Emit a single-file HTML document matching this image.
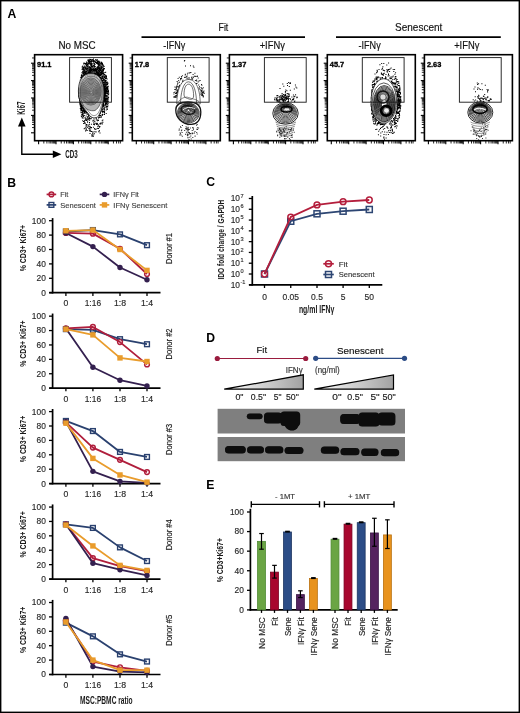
<!DOCTYPE html>
<html><head><meta charset="utf-8"><style>
html,body{margin:0;padding:0;background:#fff;}
svg{display:block;font-family:"Liberation Sans", sans-serif;will-change:transform;}
</style></head><body>
<svg width="520" height="713" viewBox="0 0 520 713">
<rect width="520" height="713" fill="#fff"/>
<g>
<rect x="-6" y="-6" width="532" height="725" fill="#fff"/>
<text x="7.60" y="17.50" font-size="12.2" text-anchor="start" fill="#000" font-weight="bold" >A</text>
<text x="7.30" y="186.80" font-size="12.2" text-anchor="start" fill="#000" font-weight="bold" >B</text>
<text x="206.30" y="186.30" font-size="12.2" text-anchor="start" fill="#000" font-weight="bold" >C</text>
<text x="206.20" y="342.40" font-size="12.2" text-anchor="start" fill="#000" font-weight="bold" >D</text>
<text x="206.20" y="488.60" font-size="12.2" text-anchor="start" fill="#000" font-weight="bold" >E</text>
<text x="77.00" y="49.20" font-size="10.2" text-anchor="middle" fill="#111" stroke="#111" stroke-width="0.15" textLength="37.20" lengthAdjust="spacingAndGlyphs" >No MSC</text>
<text x="223.40" y="31.00" font-size="10.3" text-anchor="middle" fill="#111" stroke="#111" stroke-width="0.15" textLength="9.80" lengthAdjust="spacingAndGlyphs" >Fit</text>
<line x1="141.50" y1="37.20" x2="305.00" y2="37.20" stroke="#000" stroke-width="1.7" />
<text x="418.70" y="31.00" font-size="10.2" text-anchor="middle" fill="#111" stroke="#111" stroke-width="0.15" textLength="47.30" lengthAdjust="spacingAndGlyphs" >Senescent</text>
<line x1="336.00" y1="37.20" x2="500.80" y2="37.20" stroke="#000" stroke-width="1.7" />
<text x="174.30" y="49.10" font-size="10.2" text-anchor="middle" fill="#111" stroke="#111" stroke-width="0.15" textLength="22.00" lengthAdjust="spacingAndGlyphs" >-IFN&#947;</text>
<text x="272.30" y="49.10" font-size="10.2" text-anchor="middle" fill="#111" stroke="#111" stroke-width="0.15" textLength="25.30" lengthAdjust="spacingAndGlyphs" >+IFN&#947;</text>
<text x="369.60" y="49.10" font-size="10.2" text-anchor="middle" fill="#111" stroke="#111" stroke-width="0.15" textLength="22.20" lengthAdjust="spacingAndGlyphs" >-IFN&#947;</text>
<text x="466.80" y="49.10" font-size="10.2" text-anchor="middle" fill="#111" stroke="#111" stroke-width="0.15" textLength="25.30" lengthAdjust="spacingAndGlyphs" >+IFN&#947;</text>
<defs><radialGradient id="core1" cx="0.5" cy="0.5" r="0.5"><stop offset="0" stop-color="#8a8a8a"/><stop offset="0.8" stop-color="#a0a0a0"/><stop offset="1" stop-color="#808080"/></radialGradient><radialGradient id="core2" cx="0.5" cy="0.5" r="0.5"><stop offset="0" stop-color="#6a6a6a"/><stop offset="0.75" stop-color="#5a5a5a"/><stop offset="1" stop-color="#3a3a3a"/></radialGradient><radialGradient id="core3" cx="0.5" cy="0.5" r="0.5"><stop offset="0" stop-color="#bbb"/><stop offset="0.7" stop-color="#999"/><stop offset="1" stop-color="#777"/></radialGradient></defs>
<path d="M78.7 96.9h1.0v1.0h-1.0zM104.1 86.3h1.0v1.0h-1.0zM78.4 92.4h1.0v1.0h-1.0zM99.7 112.4h1.0v1.0h-1.0zM80.1 81.2h1.0v1.0h-1.0zM103.2 101.1h1.0v1.0h-1.0zM106.0 102.5h1.0v1.0h-1.0zM84.9 76.1h1.0v1.0h-1.0zM107.9 91.1h1.0v1.0h-1.0zM81.3 78.7h1.0v1.0h-1.0zM100.2 106.7h1.0v1.0h-1.0zM78.7 90.7h1.0v1.0h-1.0zM98.1 110.4h1.0v1.0h-1.0zM104.7 95.6h1.0v1.0h-1.0zM79.0 97.8h1.0v1.0h-1.0zM78.4 91.5h1.0v1.0h-1.0zM78.4 93.0h1.0v1.0h-1.0zM78.8 96.4h1.0v1.0h-1.0zM108.2 92.8h1.0v1.0h-1.0zM102.4 75.4h1.0v1.0h-1.0zM84.0 109.6h1.0v1.0h-1.0zM86.6 111.3h1.0v1.0h-1.0zM93.4 71.3h1.0v1.0h-1.0zM101.1 78.7h1.0v1.0h-1.0zM106.8 88.8h1.0v1.0h-1.0zM104.0 93.0h1.0v1.0h-1.0zM103.9 85.0h1.0v1.0h-1.0zM104.5 91.4h1.0v1.0h-1.0zM105.1 99.8h1.0v1.0h-1.0zM94.8 73.2h1.0v1.0h-1.0zM103.5 100.5h1.0v1.0h-1.0zM106.2 89.6h1.0v1.0h-1.0zM102.4 103.2h1.0v1.0h-1.0zM102.6 101.4h1.0v1.0h-1.0zM96.7 75.0h1.0v1.0h-1.0zM78.9 88.2h1.0v1.0h-1.0zM100.6 116.9h1.0v1.0h-1.0zM103.7 106.5h1.0v1.0h-1.0zM103.0 103.6h1.0v1.0h-1.0zM95.9 112.6h1.0v1.0h-1.0zM106.6 90.2h1.0v1.0h-1.0zM82.5 117.7h1.0v1.0h-1.0zM96.5 113.9h1.0v1.0h-1.0zM102.8 77.9h1.0v1.0h-1.0zM107.4 104.8h1.0v1.0h-1.0zM95.8 112.5h1.0v1.0h-1.0zM94.2 72.4h1.0v1.0h-1.0zM85.9 110.8h1.0v1.0h-1.0zM104.5 101.4h1.0v1.0h-1.0zM92.4 120.5h1.0v1.0h-1.0zM80.5 104.2h1.0v1.0h-1.0zM104.7 89.5h1.0v1.0h-1.0zM79.1 86.9h1.0v1.0h-1.0zM98.5 109.3h1.0v1.0h-1.0zM105.9 83.5h1.0v1.0h-1.0zM91.3 113.3h1.0v1.0h-1.0zM89.0 60.3h1.0v1.0h-1.0zM101.8 123.4h1.0v1.0h-1.0zM103.8 81.5h1.0v1.0h-1.0zM79.3 99.4h1.0v1.0h-1.0zM107.8 97.1h1.0v1.0h-1.0zM93.4 123.3h1.0v1.0h-1.0zM89.7 127.4h1.0v1.0h-1.0zM79.7 85.0h1.0v1.0h-1.0zM101.8 114.0h1.0v1.0h-1.0zM103.5 98.7h1.0v1.0h-1.0zM78.6 88.1h1.0v1.0h-1.0zM80.2 83.4h1.0v1.0h-1.0zM103.2 86.1h1.0v1.0h-1.0zM104.1 94.3h1.0v1.0h-1.0zM78.9 97.4h1.0v1.0h-1.0zM99.7 109.9h1.0v1.0h-1.0zM79.2 87.1h1.0v1.0h-1.0zM79.9 106.3h1.0v1.0h-1.0zM105.7 91.2h1.0v1.0h-1.0zM83.8 73.9h1.0v1.0h-1.0zM101.1 105.0h1.0v1.0h-1.0zM107.4 94.8h1.0v1.0h-1.0zM83.1 67.7h1.0v1.0h-1.0zM105.5 94.9h1.0v1.0h-1.0zM78.4 94.4h1.0v1.0h-1.0zM80.8 115.5h1.0v1.0h-1.0zM104.6 99.8h1.0v1.0h-1.0zM88.6 61.7h1.0v1.0h-1.0zM89.0 66.3h1.0v1.0h-1.0zM99.1 64.7h1.0v1.0h-1.0zM80.8 107.0h1.0v1.0h-1.0zM106.1 82.3h1.0v1.0h-1.0zM79.2 99.9h1.0v1.0h-1.0zM102.8 79.5h1.0v1.0h-1.0zM80.5 82.3h1.0v1.0h-1.0zM79.3 86.2h1.0v1.0h-1.0zM105.0 100.6h1.0v1.0h-1.0zM107.2 92.3h1.0v1.0h-1.0zM88.3 71.9h1.0v1.0h-1.0zM88.9 68.8h1.0v1.0h-1.0zM79.0 97.8h1.0v1.0h-1.0zM105.7 101.4h1.0v1.0h-1.0zM105.3 95.7h1.0v1.0h-1.0zM78.6 94.5h1.0v1.0h-1.0zM84.7 73.7h1.0v1.0h-1.0zM79.6 82.8h1.0v1.0h-1.0zM90.5 112.5h1.0v1.0h-1.0zM83.8 115.1h1.0v1.0h-1.0zM96.7 111.1h1.0v1.0h-1.0zM104.8 83.9h1.0v1.0h-1.0zM78.6 97.8h1.0v1.0h-1.0zM82.0 110.5h1.0v1.0h-1.0zM97.9 113.1h1.0v1.0h-1.0zM100.8 66.9h1.0v1.0h-1.0zM102.7 82.3h1.0v1.0h-1.0zM79.4 86.2h1.0v1.0h-1.0zM102.6 106.1h1.0v1.0h-1.0zM103.2 73.3h1.0v1.0h-1.0zM84.3 65.4h1.0v1.0h-1.0zM87.9 112.4h1.0v1.0h-1.0zM78.8 97.0h1.0v1.0h-1.0zM96.1 114.5h1.0v1.0h-1.0zM80.4 82.1h1.0v1.0h-1.0zM81.9 114.3h1.0v1.0h-1.0zM104.7 91.5h1.0v1.0h-1.0zM103.2 99.1h1.0v1.0h-1.0zM101.7 82.2h1.0v1.0h-1.0zM85.5 71.8h1.0v1.0h-1.0zM82.6 115.1h1.0v1.0h-1.0zM103.8 94.5h1.0v1.0h-1.0zM78.8 96.6h1.0v1.0h-1.0zM99.6 77.6h1.0v1.0h-1.0zM101.1 105.1h1.0v1.0h-1.0zM80.6 81.8h1.0v1.0h-1.0zM80.3 81.4h1.0v1.0h-1.0zM101.3 66.2h1.0v1.0h-1.0zM84.0 76.6h1.0v1.0h-1.0zM78.6 95.0h1.0v1.0h-1.0zM104.8 93.9h1.0v1.0h-1.0zM86.9 74.3h1.0v1.0h-1.0zM88.2 114.3h1.0v1.0h-1.0zM84.6 73.7h1.0v1.0h-1.0zM79.8 83.0h1.0v1.0h-1.0zM79.5 102.3h1.0v1.0h-1.0zM102.8 85.2h1.0v1.0h-1.0zM105.7 86.5h1.0v1.0h-1.0zM102.7 105.2h1.0v1.0h-1.0zM79.8 81.5h1.0v1.0h-1.0zM80.2 103.8h1.0v1.0h-1.0zM104.9 80.0h1.0v1.0h-1.0zM104.4 88.2h1.0v1.0h-1.0zM81.8 79.8h1.0v1.0h-1.0zM86.4 65.9h1.0v1.0h-1.0zM80.6 79.9h1.0v1.0h-1.0zM98.9 125.9h1.0v1.0h-1.0zM108.0 90.9h1.0v1.0h-1.0zM78.4 90.0h1.0v1.0h-1.0zM81.3 114.0h1.0v1.0h-1.0zM101.5 79.9h1.0v1.0h-1.0zM103.9 100.3h1.0v1.0h-1.0zM78.6 88.9h1.0v1.0h-1.0zM78.6 94.0h1.0v1.0h-1.0zM97.7 76.3h1.0v1.0h-1.0zM97.0 75.2h1.0v1.0h-1.0zM81.1 110.0h1.0v1.0h-1.0zM101.2 105.2h1.0v1.0h-1.0zM78.4 91.7h1.0v1.0h-1.0zM102.2 75.6h1.0v1.0h-1.0zM104.6 88.3h1.0v1.0h-1.0zM103.6 88.9h1.0v1.0h-1.0zM95.6 117.2h1.0v1.0h-1.0zM84.7 118.2h1.0v1.0h-1.0zM80.8 80.7h1.0v1.0h-1.0zM101.7 77.2h1.0v1.0h-1.0zM84.0 110.6h1.0v1.0h-1.0zM104.2 74.0h1.0v1.0h-1.0zM99.3 123.3h1.0v1.0h-1.0zM104.9 90.2h1.0v1.0h-1.0zM79.2 87.1h1.0v1.0h-1.0zM78.6 90.1h1.0v1.0h-1.0zM79.9 84.2h1.0v1.0h-1.0zM104.9 90.3h1.0v1.0h-1.0zM79.4 101.5h1.0v1.0h-1.0zM79.0 87.9h1.0v1.0h-1.0zM84.7 76.3h1.0v1.0h-1.0zM78.7 89.9h1.0v1.0h-1.0zM107.4 88.5h1.0v1.0h-1.0zM88.3 116.6h1.0v1.0h-1.0zM102.7 104.8h1.0v1.0h-1.0zM101.8 68.9h1.0v1.0h-1.0zM78.6 94.9h1.0v1.0h-1.0zM99.7 115.0h1.0v1.0h-1.0zM103.2 86.9h1.0v1.0h-1.0zM94.7 74.3h1.0v1.0h-1.0zM97.7 110.7h1.0v1.0h-1.0zM84.1 76.0h1.0v1.0h-1.0zM80.8 106.3h1.0v1.0h-1.0zM105.1 103.8h1.0v1.0h-1.0zM103.2 104.7h1.0v1.0h-1.0zM91.1 113.4h1.0v1.0h-1.0zM78.6 90.6h1.0v1.0h-1.0zM80.4 103.7h1.0v1.0h-1.0zM78.7 90.7h1.0v1.0h-1.0zM98.3 117.2h1.0v1.0h-1.0zM80.8 80.7h1.0v1.0h-1.0zM102.5 77.8h1.0v1.0h-1.0zM101.2 80.4h1.0v1.0h-1.0zM89.5 63.7h1.0v1.0h-1.0zM103.1 84.6h1.0v1.0h-1.0zM81.5 115.5h1.0v1.0h-1.0zM98.8 130.5h1.0v1.0h-1.0zM102.3 83.5h1.0v1.0h-1.0zM93.3 124.0h1.0v1.0h-1.0zM90.0 112.6h1.0v1.0h-1.0zM100.3 76.9h1.0v1.0h-1.0zM95.9 74.7h1.0v1.0h-1.0zM79.5 101.2h1.0v1.0h-1.0zM103.9 94.4h1.0v1.0h-1.0zM81.9 72.5h1.0v1.0h-1.0zM103.8 90.5h1.0v1.0h-1.0zM78.3 92.5h1.0v1.0h-1.0zM78.4 92.8h1.0v1.0h-1.0zM97.9 109.6h1.0v1.0h-1.0zM102.4 101.8h1.0v1.0h-1.0zM78.8 88.8h1.0v1.0h-1.0zM79.1 87.4h1.0v1.0h-1.0zM98.5 109.7h1.0v1.0h-1.0zM104.6 71.9h1.0v1.0h-1.0zM103.2 87.0h1.0v1.0h-1.0zM107.5 99.7h1.0v1.0h-1.0zM78.5 96.1h1.0v1.0h-1.0zM82.7 109.3h1.0v1.0h-1.0zM78.5 91.8h1.0v1.0h-1.0zM79.8 84.6h1.0v1.0h-1.0zM83.7 69.5h1.0v1.0h-1.0zM99.6 111.3h1.0v1.0h-1.0zM89.7 71.1h1.0v1.0h-1.0zM97.5 110.4h1.0v1.0h-1.0zM78.6 92.0h1.0v1.0h-1.0zM105.4 81.7h1.0v1.0h-1.0zM84.0 68.5h1.0v1.0h-1.0zM80.6 81.8h1.0v1.0h-1.0zM79.7 84.7h1.0v1.0h-1.0zM106.6 91.3h1.0v1.0h-1.0zM89.2 130.6h1.0v1.0h-1.0zM90.2 64.2h1.0v1.0h-1.0zM98.9 75.1h1.0v1.0h-1.0zM106.1 81.7h1.0v1.0h-1.0zM83.5 71.6h1.0v1.0h-1.0zM93.3 71.2h1.0v1.0h-1.0zM87.9 74.1h1.0v1.0h-1.0zM81.8 107.5h1.0v1.0h-1.0zM104.3 93.9h1.0v1.0h-1.0zM80.7 80.5h1.0v1.0h-1.0zM95.5 131.2h1.0v1.0h-1.0zM82.5 78.1h1.0v1.0h-1.0zM81.7 78.1h1.0v1.0h-1.0zM78.6 90.4h1.0v1.0h-1.0zM105.6 93.0h1.0v1.0h-1.0zM84.1 70.6h1.0v1.0h-1.0zM103.8 91.4h1.0v1.0h-1.0zM79.8 82.9h1.0v1.0h-1.0zM90.2 116.0h1.0v1.0h-1.0zM103.7 97.1h1.0v1.0h-1.0zM80.6 103.5h1.0v1.0h-1.0zM91.0 130.9h1.0v1.0h-1.0zM78.7 88.9h1.0v1.0h-1.0zM105.1 90.1h1.0v1.0h-1.0zM105.6 92.6h1.0v1.0h-1.0zM97.8 76.3h1.0v1.0h-1.0zM79.5 84.7h1.0v1.0h-1.0zM107.5 97.7h1.0v1.0h-1.0zM101.3 108.8h1.0v1.0h-1.0zM100.8 110.2h1.0v1.0h-1.0zM80.1 83.7h1.0v1.0h-1.0zM104.3 88.3h1.0v1.0h-1.0zM78.5 90.8h1.0v1.0h-1.0zM80.9 104.6h1.0v1.0h-1.0zM81.5 78.7h1.0v1.0h-1.0zM85.5 119.4h1.0v1.0h-1.0zM85.9 110.7h1.0v1.0h-1.0zM91.8 112.5h1.0v1.0h-1.0zM103.4 111.3h1.0v1.0h-1.0zM79.4 102.8h1.0v1.0h-1.0zM91.0 73.5h1.0v1.0h-1.0zM107.7 91.8h1.0v1.0h-1.0zM107.0 100.9h1.0v1.0h-1.0zM79.1 98.7h1.0v1.0h-1.0zM104.0 90.8h1.0v1.0h-1.0zM78.2 91.1h1.0v1.0h-1.0zM87.5 71.4h1.0v1.0h-1.0zM106.7 90.9h1.0v1.0h-1.0zM79.9 84.4h1.0v1.0h-1.0zM80.4 82.3h1.0v1.0h-1.0zM96.5 110.7h1.0v1.0h-1.0zM78.7 90.8h1.0v1.0h-1.0zM78.7 97.7h1.0v1.0h-1.0zM78.8 96.6h1.0v1.0h-1.0zM79.3 86.3h1.0v1.0h-1.0zM95.2 70.2h1.0v1.0h-1.0zM107.8 92.8h1.0v1.0h-1.0zM89.2 72.9h1.0v1.0h-1.0zM106.2 106.0h1.0v1.0h-1.0zM96.4 69.3h1.0v1.0h-1.0zM81.2 105.2h1.0v1.0h-1.0zM83.4 74.9h1.0v1.0h-1.0zM79.4 85.4h1.0v1.0h-1.0zM91.6 73.0h1.0v1.0h-1.0zM91.5 134.1h1.0v1.0h-1.0zM106.5 84.0h1.0v1.0h-1.0zM103.7 96.2h1.0v1.0h-1.0zM88.2 115.6h1.0v1.0h-1.0zM80.5 82.6h1.0v1.0h-1.0zM78.8 89.7h1.0v1.0h-1.0zM105.1 101.4h1.0v1.0h-1.0zM78.7 88.9h1.0v1.0h-1.0zM80.4 104.1h1.0v1.0h-1.0zM96.3 113.2h1.0v1.0h-1.0zM90.2 62.7h1.0v1.0h-1.0zM103.2 99.1h1.0v1.0h-1.0zM99.3 72.2h1.0v1.0h-1.0zM93.6 73.1h1.0v1.0h-1.0zM79.2 99.2h1.0v1.0h-1.0zM98.3 74.9h1.0v1.0h-1.0zM80.3 77.2h1.0v1.0h-1.0zM82.5 109.9h1.0v1.0h-1.0zM90.4 60.4h1.0v1.0h-1.0zM79.2 98.9h1.0v1.0h-1.0zM106.4 103.6h1.0v1.0h-1.0zM103.1 99.4h1.0v1.0h-1.0zM79.0 87.8h1.0v1.0h-1.0zM84.0 76.2h1.0v1.0h-1.0zM94.3 74.0h1.0v1.0h-1.0zM97.4 119.2h1.0v1.0h-1.0zM103.5 99.9h1.0v1.0h-1.0zM87.2 67.8h1.0v1.0h-1.0zM87.2 111.9h1.0v1.0h-1.0zM80.5 106.4h1.0v1.0h-1.0zM81.0 104.4h1.0v1.0h-1.0zM85.6 71.7h1.0v1.0h-1.0zM107.1 84.1h1.0v1.0h-1.0zM103.8 85.4h1.0v1.0h-1.0zM97.5 74.8h1.0v1.0h-1.0zM83.5 110.1h1.0v1.0h-1.0zM106.9 86.2h1.0v1.0h-1.0zM91.4 115.4h1.0v1.0h-1.0zM80.8 104.7h1.0v1.0h-1.0zM79.8 101.8h1.0v1.0h-1.0zM99.0 114.6h1.0v1.0h-1.0zM97.6 71.9h1.0v1.0h-1.0zM101.3 76.3h1.0v1.0h-1.0zM102.0 114.8h1.0v1.0h-1.0zM102.4 82.6h1.0v1.0h-1.0zM104.9 94.9h1.0v1.0h-1.0zM78.7 89.4h1.0v1.0h-1.0zM105.6 89.9h1.0v1.0h-1.0zM97.3 75.9h1.0v1.0h-1.0zM78.5 89.2h1.0v1.0h-1.0zM103.0 99.9h1.0v1.0h-1.0zM88.7 61.7h1.0v1.0h-1.0zM104.9 101.1h1.0v1.0h-1.0zM103.9 109.2h1.0v1.0h-1.0zM81.6 80.0h1.0v1.0h-1.0zM96.8 123.1h1.0v1.0h-1.0zM78.4 91.3h1.0v1.0h-1.0zM79.9 101.9h1.0v1.0h-1.0zM105.7 90.1h1.0v1.0h-1.0zM78.5 93.5h1.0v1.0h-1.0zM86.6 68.1h1.0v1.0h-1.0zM103.7 85.6h1.0v1.0h-1.0zM101.1 73.9h1.0v1.0h-1.0zM103.9 76.3h1.0v1.0h-1.0zM103.3 72.2h1.0v1.0h-1.0zM105.4 89.1h1.0v1.0h-1.0zM78.4 91.1h1.0v1.0h-1.0zM97.8 73.7h1.0v1.0h-1.0zM79.3 99.5h1.0v1.0h-1.0zM89.3 58.7h1.0v1.0h-1.0zM80.6 103.6h1.0v1.0h-1.0zM97.3 113.7h1.0v1.0h-1.0zM83.1 123.1h1.0v1.0h-1.0zM103.9 97.9h1.0v1.0h-1.0zM104.3 104.5h1.0v1.0h-1.0zM94.4 73.6h1.0v1.0h-1.0zM104.3 98.4h1.0v1.0h-1.0zM79.2 86.0h1.0v1.0h-1.0zM103.7 95.9h1.0v1.0h-1.0zM98.5 109.7h1.0v1.0h-1.0zM94.0 123.4h1.0v1.0h-1.0zM79.6 85.2h1.0v1.0h-1.0zM98.6 110.2h1.0v1.0h-1.0zM102.4 114.1h1.0v1.0h-1.0zM83.5 111.9h1.0v1.0h-1.0zM99.4 74.8h1.0v1.0h-1.0zM88.8 129.4h1.0v1.0h-1.0zM103.5 85.7h1.0v1.0h-1.0zM78.4 89.1h1.0v1.0h-1.0zM78.6 94.4h1.0v1.0h-1.0zM107.6 98.3h1.0v1.0h-1.0zM97.6 74.0h1.0v1.0h-1.0zM78.5 90.8h1.0v1.0h-1.0zM85.5 129.7h1.0v1.0h-1.0zM82.1 79.2h1.0v1.0h-1.0zM104.8 93.9h1.0v1.0h-1.0zM79.9 104.8h1.0v1.0h-1.0zM86.0 70.7h1.0v1.0h-1.0zM100.3 106.9h1.0v1.0h-1.0zM83.4 109.0h1.0v1.0h-1.0zM102.8 80.5h1.0v1.0h-1.0zM79.8 79.8h1.0v1.0h-1.0zM88.6 118.1h1.0v1.0h-1.0zM103.8 110.5h1.0v1.0h-1.0zM106.8 93.1h1.0v1.0h-1.0zM103.6 75.1h1.0v1.0h-1.0zM103.4 99.9h1.0v1.0h-1.0zM87.2 74.4h1.0v1.0h-1.0zM78.5 94.6h1.0v1.0h-1.0zM105.1 89.0h1.0v1.0h-1.0zM101.4 80.2h1.0v1.0h-1.0zM96.3 72.6h1.0v1.0h-1.0zM103.0 86.2h1.0v1.0h-1.0zM99.3 77.4h1.0v1.0h-1.0zM78.7 89.5h1.0v1.0h-1.0zM104.0 112.5h1.0v1.0h-1.0zM84.2 110.3h1.0v1.0h-1.0zM103.6 99.4h1.0v1.0h-1.0zM78.5 95.7h1.0v1.0h-1.0zM80.5 106.0h1.0v1.0h-1.0zM103.2 102.4h1.0v1.0h-1.0zM78.3 96.2h1.0v1.0h-1.0zM101.3 74.6h1.0v1.0h-1.0zM104.4 94.0h1.0v1.0h-1.0zM86.4 74.3h1.0v1.0h-1.0zM79.0 87.8h1.0v1.0h-1.0zM108.1 94.1h1.0v1.0h-1.0zM97.0 75.0h1.0v1.0h-1.0zM80.2 83.2h1.0v1.0h-1.0zM80.2 103.8h1.0v1.0h-1.0zM85.3 111.8h1.0v1.0h-1.0zM79.7 102.3h1.0v1.0h-1.0zM90.4 113.3h1.0v1.0h-1.0zM88.8 72.3h1.0v1.0h-1.0zM104.9 88.1h1.0v1.0h-1.0zM87.8 72.7h1.0v1.0h-1.0zM99.2 77.8h1.0v1.0h-1.0zM101.1 105.1h1.0v1.0h-1.0zM82.4 75.0h1.0v1.0h-1.0zM99.5 110.6h1.0v1.0h-1.0zM101.5 76.1h1.0v1.0h-1.0zM103.1 100.6h1.0v1.0h-1.0zM100.3 106.8h1.0v1.0h-1.0zM79.6 100.7h1.0v1.0h-1.0zM103.9 86.1h1.0v1.0h-1.0zM78.4 92.1h1.0v1.0h-1.0zM94.3 63.7h1.0v1.0h-1.0zM80.1 102.7h1.0v1.0h-1.0zM79.5 100.2h1.0v1.0h-1.0zM79.5 101.4h1.0v1.0h-1.0zM106.5 91.3h1.0v1.0h-1.0zM81.7 77.9h1.0v1.0h-1.0zM104.2 94.5h1.0v1.0h-1.0zM81.3 108.2h1.0v1.0h-1.0zM103.1 102.4h1.0v1.0h-1.0zM78.3 92.2h1.0v1.0h-1.0zM100.7 74.4h1.0v1.0h-1.0zM103.4 111.7h1.0v1.0h-1.0zM104.1 84.0h1.0v1.0h-1.0zM81.2 106.3h1.0v1.0h-1.0zM103.8 108.5h1.0v1.0h-1.0zM105.0 91.9h1.0v1.0h-1.0zM85.4 66.7h1.0v1.0h-1.0zM101.7 123.4h1.0v1.0h-1.0zM80.7 82.2h1.0v1.0h-1.0zM103.3 100.0h1.0v1.0h-1.0zM79.2 86.7h1.0v1.0h-1.0zM80.7 112.2h1.0v1.0h-1.0zM80.9 105.3h1.0v1.0h-1.0zM106.7 108.3h1.0v1.0h-1.0zM105.7 109.5h1.0v1.0h-1.0zM78.6 89.5h1.0v1.0h-1.0zM79.0 88.1h1.0v1.0h-1.0zM107.4 82.6h1.0v1.0h-1.0zM100.0 73.5h1.0v1.0h-1.0zM105.4 106.8h1.0v1.0h-1.0zM83.9 122.4h1.0v1.0h-1.0zM92.7 119.7h1.0v1.0h-1.0zM99.6 77.9h1.0v1.0h-1.0zM78.8 89.2h1.0v1.0h-1.0zM103.8 95.6h1.0v1.0h-1.0zM107.7 91.7h1.0v1.0h-1.0zM82.1 79.0h1.0v1.0h-1.0zM81.9 75.8h1.0v1.0h-1.0zM80.0 103.3h1.0v1.0h-1.0zM97.2 75.9h1.0v1.0h-1.0zM98.0 113.7h1.0v1.0h-1.0zM101.8 106.3h1.0v1.0h-1.0zM79.1 87.4h1.0v1.0h-1.0zM78.6 91.4h1.0v1.0h-1.0zM79.1 87.5h1.0v1.0h-1.0zM81.4 80.8h1.0v1.0h-1.0zM83.1 78.0h1.0v1.0h-1.0zM105.2 89.3h1.0v1.0h-1.0zM78.6 95.4h1.0v1.0h-1.0zM80.1 82.1h1.0v1.0h-1.0zM92.6 64.9h1.0v1.0h-1.0zM78.1 94.2h1.0v1.0h-1.0zM103.3 73.4h1.0v1.0h-1.0zM79.5 100.5h1.0v1.0h-1.0zM79.1 87.7h1.0v1.0h-1.0zM78.5 90.9h1.0v1.0h-1.0zM79.0 98.5h1.0v1.0h-1.0zM83.7 108.7h1.0v1.0h-1.0zM86.6 63.4h1.0v1.0h-1.0zM88.4 68.8h1.0v1.0h-1.0zM91.4 72.1h1.0v1.0h-1.0zM79.6 85.3h1.0v1.0h-1.0zM102.8 104.6h1.0v1.0h-1.0zM78.5 92.8h1.0v1.0h-1.0zM105.7 97.9h1.0v1.0h-1.0zM78.6 90.9h1.0v1.0h-1.0zM84.4 111.4h1.0v1.0h-1.0zM92.9 112.4h1.0v1.0h-1.0zM107.2 83.0h1.0v1.0h-1.0zM81.2 75.9h1.0v1.0h-1.0zM79.1 99.5h1.0v1.0h-1.0zM96.5 122.7h1.0v1.0h-1.0zM79.1 87.6h1.0v1.0h-1.0zM105.7 103.3h1.0v1.0h-1.0zM103.3 104.9h1.0v1.0h-1.0zM103.5 89.1h1.0v1.0h-1.0zM92.0 114.5h1.0v1.0h-1.0zM83.4 108.4h1.0v1.0h-1.0zM105.6 81.9h1.0v1.0h-1.0zM79.8 101.6h1.0v1.0h-1.0zM79.4 86.0h1.0v1.0h-1.0zM107.3 96.2h1.0v1.0h-1.0zM84.0 112.0h1.0v1.0h-1.0zM107.6 85.8h1.0v1.0h-1.0zM78.7 95.2h1.0v1.0h-1.0zM83.0 120.9h1.0v1.0h-1.0zM102.7 84.3h1.0v1.0h-1.0zM100.5 77.9h1.0v1.0h-1.0zM78.7 95.2h1.0v1.0h-1.0zM106.6 78.5h1.0v1.0h-1.0zM98.6 116.9h1.0v1.0h-1.0zM101.7 120.3h1.0v1.0h-1.0zM103.6 97.0h1.0v1.0h-1.0zM88.1 72.7h1.0v1.0h-1.0zM106.1 82.2h1.0v1.0h-1.0zM86.8 74.5h1.0v1.0h-1.0zM82.8 69.2h1.0v1.0h-1.0zM78.9 97.4h1.0v1.0h-1.0zM94.7 113.7h1.0v1.0h-1.0zM86.5 74.4h1.0v1.0h-1.0zM98.8 109.5h1.0v1.0h-1.0zM81.4 76.5h1.0v1.0h-1.0zM80.2 104.4h1.0v1.0h-1.0zM103.8 81.8h1.0v1.0h-1.0zM94.0 114.0h1.0v1.0h-1.0zM105.2 86.1h1.0v1.0h-1.0zM86.8 119.0h1.0v1.0h-1.0zM107.5 103.3h1.0v1.0h-1.0zM79.0 97.8h1.0v1.0h-1.0zM78.7 90.5h1.0v1.0h-1.0zM79.7 84.7h1.0v1.0h-1.0zM91.0 127.0h1.0v1.0h-1.0zM103.3 100.4h1.0v1.0h-1.0zM91.9 72.6h1.0v1.0h-1.0zM86.8 116.8h1.0v1.0h-1.0zM102.4 119.6h1.0v1.0h-1.0zM103.8 92.0h1.0v1.0h-1.0zM78.5 96.1h1.0v1.0h-1.0zM79.4 103.4h1.0v1.0h-1.0zM78.6 93.0h1.0v1.0h-1.0zM78.7 88.4h1.0v1.0h-1.0zM80.6 105.9h1.0v1.0h-1.0zM95.9 70.8h1.0v1.0h-1.0zM78.2 92.5h1.0v1.0h-1.0zM83.4 75.3h1.0v1.0h-1.0zM103.7 89.1h1.0v1.0h-1.0zM94.8 73.9h1.0v1.0h-1.0zM80.0 84.0h1.0v1.0h-1.0zM79.0 97.8h1.0v1.0h-1.0zM97.4 66.4h1.0v1.0h-1.0zM93.4 117.5h1.0v1.0h-1.0zM95.8 118.3h1.0v1.0h-1.0zM78.6 93.1h1.0v1.0h-1.0zM79.5 84.8h1.0v1.0h-1.0zM79.1 87.1h1.0v1.0h-1.0zM98.7 109.0h1.0v1.0h-1.0zM104.9 94.5h1.0v1.0h-1.0zM79.1 98.3h1.0v1.0h-1.0zM88.5 125.8h1.0v1.0h-1.0zM107.1 100.8h1.0v1.0h-1.0zM79.1 87.4h1.0v1.0h-1.0zM96.2 74.3h1.0v1.0h-1.0zM101.3 106.3h1.0v1.0h-1.0zM104.1 96.5h1.0v1.0h-1.0zM80.2 82.5h1.0v1.0h-1.0zM88.7 119.5h1.0v1.0h-1.0zM106.1 102.3h1.0v1.0h-1.0zM99.6 108.7h1.0v1.0h-1.0zM102.7 111.0h1.0v1.0h-1.0zM102.3 73.1h1.0v1.0h-1.0zM104.2 98.2h1.0v1.0h-1.0zM81.0 104.7h1.0v1.0h-1.0zM103.7 90.7h1.0v1.0h-1.0zM78.3 93.8h1.0v1.0h-1.0zM103.9 91.9h1.0v1.0h-1.0zM78.5 96.6h1.0v1.0h-1.0zM103.9 96.2h1.0v1.0h-1.0zM102.4 83.7h1.0v1.0h-1.0zM79.9 102.0h1.0v1.0h-1.0zM79.2 99.1h1.0v1.0h-1.0zM108.1 96.7h1.0v1.0h-1.0zM93.5 65.5h1.0v1.0h-1.0zM93.8 113.5h1.0v1.0h-1.0zM78.9 88.8h1.0v1.0h-1.0zM78.3 96.2h1.0v1.0h-1.0zM80.9 104.8h1.0v1.0h-1.0zM105.4 91.3h1.0v1.0h-1.0zM104.4 96.4h1.0v1.0h-1.0zM81.8 80.1h1.0v1.0h-1.0zM81.1 108.2h1.0v1.0h-1.0zM103.0 79.5h1.0v1.0h-1.0zM103.2 82.6h1.0v1.0h-1.0zM79.4 102.4h1.0v1.0h-1.0zM79.7 103.6h1.0v1.0h-1.0zM95.8 113.7h1.0v1.0h-1.0zM100.0 112.8h1.0v1.0h-1.0zM100.0 107.7h1.0v1.0h-1.0zM96.3 115.4h1.0v1.0h-1.0zM84.1 111.5h1.0v1.0h-1.0zM105.8 92.4h1.0v1.0h-1.0zM101.5 81.0h1.0v1.0h-1.0zM80.3 102.8h1.0v1.0h-1.0zM84.4 75.4h1.0v1.0h-1.0zM88.3 112.0h1.0v1.0h-1.0zM98.8 109.8h1.0v1.0h-1.0zM79.3 102.4h1.0v1.0h-1.0zM86.9 73.8h1.0v1.0h-1.0zM81.2 104.9h1.0v1.0h-1.0zM103.9 87.6h1.0v1.0h-1.0zM93.9 65.9h1.0v1.0h-1.0zM102.8 85.3h1.0v1.0h-1.0zM83.2 109.5h1.0v1.0h-1.0zM106.7 101.9h1.0v1.0h-1.0zM81.7 111.6h1.0v1.0h-1.0zM78.6 91.5h1.0v1.0h-1.0zM79.9 101.9h1.0v1.0h-1.0zM103.7 96.3h1.0v1.0h-1.0zM79.7 85.1h1.0v1.0h-1.0zM83.8 110.9h1.0v1.0h-1.0zM78.8 89.5h1.0v1.0h-1.0zM86.0 74.5h1.0v1.0h-1.0zM87.4 68.2h1.0v1.0h-1.0zM101.0 106.0h1.0v1.0h-1.0zM86.0 120.0h1.0v1.0h-1.0zM79.6 100.9h1.0v1.0h-1.0zM101.6 81.3h1.0v1.0h-1.0zM85.9 112.5h1.0v1.0h-1.0zM95.2 111.5h1.0v1.0h-1.0zM105.5 95.2h1.0v1.0h-1.0zM79.1 87.7h1.0v1.0h-1.0zM104.1 91.0h1.0v1.0h-1.0zM81.2 74.7h1.0v1.0h-1.0zM97.1 120.3h1.0v1.0h-1.0zM80.9 75.1h1.0v1.0h-1.0zM101.8 81.5h1.0v1.0h-1.0zM80.9 81.7h1.0v1.0h-1.0zM79.2 98.9h1.0v1.0h-1.0zM104.1 98.1h1.0v1.0h-1.0zM82.5 109.3h1.0v1.0h-1.0zM87.6 112.1h1.0v1.0h-1.0zM79.6 101.2h1.0v1.0h-1.0zM102.0 111.8h1.0v1.0h-1.0zM92.5 112.6h1.0v1.0h-1.0zM81.9 107.4h1.0v1.0h-1.0zM102.4 108.6h1.0v1.0h-1.0zM84.9 72.9h1.0v1.0h-1.0zM85.6 75.6h1.0v1.0h-1.0zM79.9 102.2h1.0v1.0h-1.0zM104.1 98.4h1.0v1.0h-1.0zM104.6 97.8h1.0v1.0h-1.0zM79.4 85.9h1.0v1.0h-1.0zM83.2 108.6h1.0v1.0h-1.0zM104.3 94.9h1.0v1.0h-1.0zM103.9 82.8h1.0v1.0h-1.0zM89.0 121.9h1.0v1.0h-1.0zM99.3 112.1h1.0v1.0h-1.0zM79.5 82.7h1.0v1.0h-1.0zM80.6 105.4h1.0v1.0h-1.0zM106.1 87.4h1.0v1.0h-1.0zM80.3 81.8h1.0v1.0h-1.0zM79.4 100.4h1.0v1.0h-1.0zM86.0 124.0h1.0v1.0h-1.0zM102.6 82.2h1.0v1.0h-1.0zM102.9 85.6h1.0v1.0h-1.0zM102.7 106.2h1.0v1.0h-1.0zM84.3 110.9h1.0v1.0h-1.0zM103.8 91.2h1.0v1.0h-1.0zM97.8 110.6h1.0v1.0h-1.0zM83.7 76.9h1.0v1.0h-1.0zM105.1 93.1h1.0v1.0h-1.0zM79.9 101.9h1.0v1.0h-1.0zM78.4 93.5h1.0v1.0h-1.0zM78.7 89.1h1.0v1.0h-1.0zM78.7 88.0h1.0v1.0h-1.0zM104.2 90.4h1.0v1.0h-1.0zM80.3 108.7h1.0v1.0h-1.0zM82.7 113.3h1.0v1.0h-1.0zM83.8 72.4h1.0v1.0h-1.0zM106.7 89.4h1.0v1.0h-1.0zM102.2 110.2h1.0v1.0h-1.0zM78.5 93.7h1.0v1.0h-1.0zM80.7 104.2h1.0v1.0h-1.0zM91.0 69.1h1.0v1.0h-1.0zM92.9 113.7h1.0v1.0h-1.0zM83.3 108.5h1.0v1.0h-1.0zM78.6 91.9h1.0v1.0h-1.0zM103.4 98.1h1.0v1.0h-1.0zM105.0 103.3h1.0v1.0h-1.0zM103.3 103.3h1.0v1.0h-1.0zM94.3 70.6h1.0v1.0h-1.0zM104.0 113.9h1.0v1.0h-1.0zM101.6 81.9h1.0v1.0h-1.0zM90.6 118.2h1.0v1.0h-1.0zM97.1 73.5h1.0v1.0h-1.0zM87.0 73.8h1.0v1.0h-1.0zM86.9 73.3h1.0v1.0h-1.0zM81.3 110.0h1.0v1.0h-1.0zM103.4 74.5h1.0v1.0h-1.0zM79.1 87.5h1.0v1.0h-1.0zM85.2 71.4h1.0v1.0h-1.0zM102.4 73.0h1.0v1.0h-1.0zM102.5 104.3h1.0v1.0h-1.0zM82.9 78.0h1.0v1.0h-1.0zM98.2 109.2h1.0v1.0h-1.0zM79.2 85.8h1.0v1.0h-1.0zM103.8 90.6h1.0v1.0h-1.0zM84.0 75.5h1.0v1.0h-1.0zM80.7 81.6h1.0v1.0h-1.0zM107.7 85.7h1.0v1.0h-1.0zM105.8 97.6h1.0v1.0h-1.0zM102.0 103.0h1.0v1.0h-1.0zM85.2 119.2h1.0v1.0h-1.0zM103.9 92.5h1.0v1.0h-1.0zM83.0 107.8h1.0v1.0h-1.0zM78.7 89.6h1.0v1.0h-1.0zM80.6 103.9h1.0v1.0h-1.0zM99.6 67.4h1.0v1.0h-1.0zM86.7 113.9h1.0v1.0h-1.0zM79.8 82.6h1.0v1.0h-1.0zM104.4 91.4h1.0v1.0h-1.0zM84.2 73.9h1.0v1.0h-1.0zM97.0 75.3h1.0v1.0h-1.0zM99.1 108.4h1.0v1.0h-1.0zM103.6 87.5h1.0v1.0h-1.0zM78.6 93.9h1.0v1.0h-1.0zM83.5 108.4h1.0v1.0h-1.0zM79.1 87.7h1.0v1.0h-1.0zM80.6 82.3h1.0v1.0h-1.0zM94.6 116.8h1.0v1.0h-1.0zM80.9 104.6h1.0v1.0h-1.0zM103.5 97.1h1.0v1.0h-1.0zM102.8 83.7h1.0v1.0h-1.0zM103.3 99.5h1.0v1.0h-1.0zM78.1 94.4h1.0v1.0h-1.0zM100.3 122.4h1.0v1.0h-1.0zM78.5 94.3h1.0v1.0h-1.0zM98.2 74.4h1.0v1.0h-1.0zM104.8 98.2h1.0v1.0h-1.0zM81.5 78.3h1.0v1.0h-1.0zM85.3 127.2h1.0v1.0h-1.0zM106.0 76.1h1.0v1.0h-1.0zM78.6 97.7h1.0v1.0h-1.0zM88.1 73.7h1.0v1.0h-1.0zM103.9 95.1h1.0v1.0h-1.0zM102.0 103.0h1.0v1.0h-1.0zM80.4 106.3h1.0v1.0h-1.0zM83.7 111.8h1.0v1.0h-1.0zM104.0 93.8h1.0v1.0h-1.0zM103.6 89.7h1.0v1.0h-1.0zM78.4 90.8h1.0v1.0h-1.0zM97.9 68.2h1.0v1.0h-1.0zM79.4 101.7h1.0v1.0h-1.0zM101.9 72.9h1.0v1.0h-1.0zM103.8 91.9h1.0v1.0h-1.0zM104.3 88.8h1.0v1.0h-1.0zM85.9 74.6h1.0v1.0h-1.0zM102.9 85.6h1.0v1.0h-1.0zM79.3 86.7h1.0v1.0h-1.0zM80.0 102.4h1.0v1.0h-1.0zM81.0 77.5h1.0v1.0h-1.0zM80.4 105.3h1.0v1.0h-1.0zM81.4 105.8h1.0v1.0h-1.0zM103.2 84.8h1.0v1.0h-1.0zM103.3 101.1h1.0v1.0h-1.0zM90.1 72.9h1.0v1.0h-1.0zM90.2 69.0h1.0v1.0h-1.0zM83.7 77.1h1.0v1.0h-1.0zM102.5 101.9h1.0v1.0h-1.0zM81.4 106.4h1.0v1.0h-1.0zM104.9 93.8h1.0v1.0h-1.0zM79.6 101.0h1.0v1.0h-1.0zM78.3 89.9h1.0v1.0h-1.0zM100.1 123.4h1.0v1.0h-1.0zM82.0 112.3h1.0v1.0h-1.0zM107.2 106.0h1.0v1.0h-1.0zM79.0 98.7h1.0v1.0h-1.0zM95.4 114.9h1.0v1.0h-1.0zM86.1 74.8h1.0v1.0h-1.0zM87.1 120.5h1.0v1.0h-1.0zM104.0 88.6h1.0v1.0h-1.0zM99.0 110.6h1.0v1.0h-1.0zM103.9 92.2h1.0v1.0h-1.0zM80.8 81.3h1.0v1.0h-1.0zM81.4 80.5h1.0v1.0h-1.0zM79.6 82.6h1.0v1.0h-1.0zM102.8 78.3h1.0v1.0h-1.0zM78.4 92.6h1.0v1.0h-1.0zM105.7 105.7h1.0v1.0h-1.0zM84.1 75.0h1.0v1.0h-1.0zM82.4 78.0h1.0v1.0h-1.0zM80.2 102.7h1.0v1.0h-1.0zM79.6 84.5h1.0v1.0h-1.0zM78.6 91.8h1.0v1.0h-1.0zM80.5 82.0h1.0v1.0h-1.0zM79.5 85.2h1.0v1.0h-1.0zM103.4 87.4h1.0v1.0h-1.0zM78.2 95.6h1.0v1.0h-1.0zM89.6 72.2h1.0v1.0h-1.0zM88.4 59.3h1.0v1.0h-1.0zM79.3 101.4h1.0v1.0h-1.0zM106.8 108.9h1.0v1.0h-1.0zM78.6 93.7h1.0v1.0h-1.0zM102.0 76.0h1.0v1.0h-1.0zM106.5 86.7h1.0v1.0h-1.0zM97.6 72.3h1.0v1.0h-1.0zM103.8 92.5h1.0v1.0h-1.0zM104.0 79.4h1.0v1.0h-1.0zM91.0 127.2h1.0v1.0h-1.0zM78.7 96.7h1.0v1.0h-1.0zM101.6 81.3h1.0v1.0h-1.0zM86.4 118.6h1.0v1.0h-1.0zM104.6 99.7h1.0v1.0h-1.0zM96.3 71.5h1.0v1.0h-1.0zM92.9 126.7h1.0v1.0h-1.0zM103.7 76.9h1.0v1.0h-1.0zM78.5 88.9h1.0v1.0h-1.0zM96.6 75.1h1.0v1.0h-1.0zM81.0 104.5h1.0v1.0h-1.0zM104.2 96.1h1.0v1.0h-1.0zM104.6 77.7h1.0v1.0h-1.0zM102.2 103.0h1.0v1.0h-1.0zM79.5 102.8h1.0v1.0h-1.0zM79.6 82.5h1.0v1.0h-1.0zM107.8 101.0h1.0v1.0h-1.0zM98.0 117.5h1.0v1.0h-1.0zM104.3 80.1h1.0v1.0h-1.0zM99.4 116.8h1.0v1.0h-1.0zM79.1 98.6h1.0v1.0h-1.0zM82.2 107.3h1.0v1.0h-1.0zM80.7 81.9h1.0v1.0h-1.0zM79.6 84.2h1.0v1.0h-1.0zM98.7 109.0h1.0v1.0h-1.0zM84.4 74.5h1.0v1.0h-1.0zM101.7 104.0h1.0v1.0h-1.0zM105.1 87.6h1.0v1.0h-1.0zM81.3 105.3h1.0v1.0h-1.0zM105.9 92.5h1.0v1.0h-1.0zM89.4 71.8h1.0v1.0h-1.0zM84.0 111.0h1.0v1.0h-1.0zM103.0 108.4h1.0v1.0h-1.0zM79.1 99.2h1.0v1.0h-1.0zM79.5 100.5h1.0v1.0h-1.0zM78.2 92.5h1.0v1.0h-1.0zM80.9 107.8h1.0v1.0h-1.0zM93.7 119.5h1.0v1.0h-1.0zM84.6 122.9h1.0v1.0h-1.0zM84.4 121.9h1.0v1.0h-1.0zM83.0 76.5h1.0v1.0h-1.0zM104.0 87.3h1.0v1.0h-1.0zM90.1 68.0h1.0v1.0h-1.0zM78.9 97.1h1.0v1.0h-1.0zM79.3 99.6h1.0v1.0h-1.0zM79.0 97.8h1.0v1.0h-1.0zM84.6 117.0h1.0v1.0h-1.0zM83.0 77.7h1.0v1.0h-1.0zM79.5 100.3h1.0v1.0h-1.0zM102.8 84.1h1.0v1.0h-1.0zM79.3 99.5h1.0v1.0h-1.0zM101.9 70.5h1.0v1.0h-1.0zM79.5 85.5h1.0v1.0h-1.0zM106.6 104.1h1.0v1.0h-1.0zM103.5 100.6h1.0v1.0h-1.0zM80.0 104.3h1.0v1.0h-1.0zM82.7 77.8h1.0v1.0h-1.0zM106.7 81.4h1.0v1.0h-1.0zM105.5 95.1h1.0v1.0h-1.0zM78.6 95.5h1.0v1.0h-1.0zM78.7 95.8h1.0v1.0h-1.0zM82.3 76.6h1.0v1.0h-1.0zM107.9 89.9h1.0v1.0h-1.0zM104.5 92.4h1.0v1.0h-1.0zM101.2 74.5h1.0v1.0h-1.0zM83.0 67.1h1.0v1.0h-1.0zM104.3 98.8h1.0v1.0h-1.0zM79.5 101.4h1.0v1.0h-1.0zM98.8 130.1h1.0v1.0h-1.0zM96.5 113.4h1.0v1.0h-1.0zM101.8 106.3h1.0v1.0h-1.0zM90.2 73.5h1.0v1.0h-1.0zM101.9 111.6h1.0v1.0h-1.0zM80.0 82.1h1.0v1.0h-1.0zM90.5 127.2h1.0v1.0h-1.0zM87.9 65.4h1.0v1.0h-1.0zM103.1 104.1h1.0v1.0h-1.0zM107.0 94.6h1.0v1.0h-1.0zM107.1 87.2h1.0v1.0h-1.0zM104.3 95.0h1.0v1.0h-1.0zM78.6 90.1h1.0v1.0h-1.0zM105.4 104.9h1.0v1.0h-1.0zM84.5 113.0h1.0v1.0h-1.0zM103.5 105.2h1.0v1.0h-1.0zM101.6 104.1h1.0v1.0h-1.0zM78.6 92.0h1.0v1.0h-1.0zM94.6 73.3h1.0v1.0h-1.0zM79.5 100.1h1.0v1.0h-1.0zM95.8 115.4h1.0v1.0h-1.0zM78.9 88.3h1.0v1.0h-1.0zM100.7 80.0h1.0v1.0h-1.0zM100.7 79.9h1.0v1.0h-1.0zM104.9 90.4h1.0v1.0h-1.0zM79.4 100.8h1.0v1.0h-1.0zM105.7 76.3h1.0v1.0h-1.0zM79.5 100.1h1.0v1.0h-1.0zM104.1 111.6h1.0v1.0h-1.0zM88.6 66.4h1.0v1.0h-1.0zM101.8 108.9h1.0v1.0h-1.0zM103.8 95.3h1.0v1.0h-1.0zM82.2 120.2h1.0v1.0h-1.0zM80.4 79.4h1.0v1.0h-1.0zM104.4 96.9h1.0v1.0h-1.0zM103.4 99.6h1.0v1.0h-1.0zM106.5 105.9h1.0v1.0h-1.0zM82.5 109.2h1.0v1.0h-1.0zM80.6 77.6h1.0v1.0h-1.0zM104.9 88.2h1.0v1.0h-1.0zM78.2 92.9h1.0v1.0h-1.0zM79.9 101.8h1.0v1.0h-1.0zM89.8 72.6h1.0v1.0h-1.0zM80.6 104.5h1.0v1.0h-1.0zM78.6 94.8h1.0v1.0h-1.0zM79.1 98.6h1.0v1.0h-1.0zM106.7 98.0h1.0v1.0h-1.0zM104.7 98.5h1.0v1.0h-1.0zM78.8 89.2h1.0v1.0h-1.0zM94.5 112.0h1.0v1.0h-1.0zM80.6 104.0h1.0v1.0h-1.0zM78.6 94.3h1.0v1.0h-1.0zM91.1 69.8h1.0v1.0h-1.0zM104.5 93.8h1.0v1.0h-1.0zM103.7 90.3h1.0v1.0h-1.0zM79.3 85.1h1.0v1.0h-1.0zM80.5 105.1h1.0v1.0h-1.0zM80.7 104.3h1.0v1.0h-1.0zM79.8 83.7h1.0v1.0h-1.0zM83.4 111.0h1.0v1.0h-1.0zM78.3 91.7h1.0v1.0h-1.0zM103.5 97.3h1.0v1.0h-1.0zM90.9 114.1h1.0v1.0h-1.0zM97.1 73.1h1.0v1.0h-1.0zM101.9 80.1h1.0v1.0h-1.0zM85.4 118.2h1.0v1.0h-1.0zM107.6 102.7h1.0v1.0h-1.0zM100.0 77.4h1.0v1.0h-1.0zM81.9 113.6h1.0v1.0h-1.0zM97.0 69.4h1.0v1.0h-1.0zM106.1 98.6h1.0v1.0h-1.0zM105.3 97.4h1.0v1.0h-1.0zM78.5 88.7h1.0v1.0h-1.0zM81.2 81.1h1.0v1.0h-1.0zM105.9 86.6h1.0v1.0h-1.0zM79.3 86.5h1.0v1.0h-1.0zM89.4 71.1h1.0v1.0h-1.0zM81.4 72.3h1.0v1.0h-1.0zM103.0 86.2h1.0v1.0h-1.0zM95.5 71.7h1.0v1.0h-1.0zM91.4 71.3h1.0v1.0h-1.0zM78.8 97.2h1.0v1.0h-1.0zM102.6 103.4h1.0v1.0h-1.0zM89.3 73.6h1.0v1.0h-1.0zM105.6 105.9h1.0v1.0h-1.0zM82.1 77.4h1.0v1.0h-1.0zM102.3 102.6h1.0v1.0h-1.0zM81.6 117.2h1.0v1.0h-1.0zM78.6 88.0h1.0v1.0h-1.0zM96.5 114.2h1.0v1.0h-1.0zM78.4 90.0h1.0v1.0h-1.0zM105.8 107.3h1.0v1.0h-1.0zM78.7 95.2h1.0v1.0h-1.0zM79.1 98.5h1.0v1.0h-1.0zM81.4 73.9h1.0v1.0h-1.0zM78.4 93.5h1.0v1.0h-1.0zM79.6 102.8h1.0v1.0h-1.0zM105.2 103.9h1.0v1.0h-1.0zM101.5 110.8h1.0v1.0h-1.0zM97.2 112.5h1.0v1.0h-1.0zM100.5 108.4h1.0v1.0h-1.0zM79.5 85.4h1.0v1.0h-1.0zM79.8 102.6h1.0v1.0h-1.0zM100.8 78.4h1.0v1.0h-1.0zM79.3 86.1h1.0v1.0h-1.0zM104.2 91.4h1.0v1.0h-1.0zM85.1 75.3h1.0v1.0h-1.0zM89.0 123.8h1.0v1.0h-1.0zM79.2 86.9h1.0v1.0h-1.0zM106.5 99.5h1.0v1.0h-1.0zM79.9 103.9h1.0v1.0h-1.0zM79.1 98.5h1.0v1.0h-1.0zM78.5 88.0h1.0v1.0h-1.0zM103.8 85.0h1.0v1.0h-1.0zM78.6 94.0h1.0v1.0h-1.0zM91.6 73.3h1.0v1.0h-1.0zM82.5 116.5h1.0v1.0h-1.0zM105.8 96.3h1.0v1.0h-1.0zM79.1 87.5h1.0v1.0h-1.0zM82.8 107.7h1.0v1.0h-1.0zM106.1 88.2h1.0v1.0h-1.0zM97.4 75.9h1.0v1.0h-1.0zM95.4 73.9h1.0v1.0h-1.0zM98.4 114.7h1.0v1.0h-1.0zM80.1 83.8h1.0v1.0h-1.0zM93.5 68.6h1.0v1.0h-1.0zM106.5 81.8h1.0v1.0h-1.0zM84.2 75.6h1.0v1.0h-1.0zM105.8 88.3h1.0v1.0h-1.0zM83.9 120.8h1.0v1.0h-1.0zM88.3 73.0h1.0v1.0h-1.0zM91.3 112.5h1.0v1.0h-1.0zM78.7 90.0h1.0v1.0h-1.0zM86.0 111.7h1.0v1.0h-1.0zM102.7 105.5h1.0v1.0h-1.0zM88.3 113.6h1.0v1.0h-1.0zM87.1 116.3h1.0v1.0h-1.0zM101.9 82.2h1.0v1.0h-1.0zM104.6 76.8h1.0v1.0h-1.0zM79.9 83.7h1.0v1.0h-1.0zM88.8 69.6h1.0v1.0h-1.0zM80.7 76.5h1.0v1.0h-1.0zM94.4 73.1h1.0v1.0h-1.0zM107.5 98.8h1.0v1.0h-1.0zM80.2 105.9h1.0v1.0h-1.0zM93.7 116.6h1.0v1.0h-1.0zM80.1 104.8h1.0v1.0h-1.0zM104.6 88.0h1.0v1.0h-1.0zM79.1 87.7h1.0v1.0h-1.0zM95.5 131.4h1.0v1.0h-1.0zM106.7 105.9h1.0v1.0h-1.0zM82.2 79.3h1.0v1.0h-1.0zM102.7 84.8h1.0v1.0h-1.0zM79.1 87.7h1.0v1.0h-1.0zM104.2 92.1h1.0v1.0h-1.0zM101.7 82.1h1.0v1.0h-1.0zM82.8 78.5h1.0v1.0h-1.0zM105.2 95.6h1.0v1.0h-1.0zM105.8 91.4h1.0v1.0h-1.0zM103.8 76.8h1.0v1.0h-1.0zM78.6 91.3h1.0v1.0h-1.0zM78.7 90.9h1.0v1.0h-1.0zM78.6 90.9h1.0v1.0h-1.0zM78.6 93.1h1.0v1.0h-1.0zM85.6 73.6h1.0v1.0h-1.0zM78.6 94.1h1.0v1.0h-1.0zM78.5 94.0h1.0v1.0h-1.0zM105.1 90.6h1.0v1.0h-1.0zM101.8 105.1h1.0v1.0h-1.0zM81.4 109.4h1.0v1.0h-1.0zM107.7 86.3h1.0v1.0h-1.0zM107.4 87.7h1.0v1.0h-1.0zM105.2 75.8h1.0v1.0h-1.0zM104.8 94.7h1.0v1.0h-1.0zM79.4 85.4h1.0v1.0h-1.0zM79.9 83.3h1.0v1.0h-1.0zM103.3 87.6h1.0v1.0h-1.0zM78.2 91.4h1.0v1.0h-1.0zM103.7 95.5h1.0v1.0h-1.0zM105.9 77.2h1.0v1.0h-1.0zM103.7 94.9h1.0v1.0h-1.0zM101.5 74.2h1.0v1.0h-1.0zM78.5 91.4h1.0v1.0h-1.0zM92.6 63.5h1.0v1.0h-1.0zM103.8 93.1h1.0v1.0h-1.0zM99.6 63.4h1.0v1.0h-1.0zM100.4 77.1h1.0v1.0h-1.0zM82.4 107.8h1.0v1.0h-1.0zM106.4 94.4h1.0v1.0h-1.0zM89.1 119.7h1.0v1.0h-1.0zM78.6 90.9h1.0v1.0h-1.0zM82.9 76.8h1.0v1.0h-1.0zM94.7 129.0h1.0v1.0h-1.0zM99.1 108.6h1.0v1.0h-1.0zM90.7 117.6h1.0v1.0h-1.0zM95.5 73.0h1.0v1.0h-1.0zM93.3 121.8h1.0v1.0h-1.0zM89.6 118.3h1.0v1.0h-1.0zM90.1 129.6h1.0v1.0h-1.0zM98.5 109.8h1.0v1.0h-1.0zM85.0 111.4h1.0v1.0h-1.0zM87.5 68.0h1.0v1.0h-1.0zM96.9 71.2h1.0v1.0h-1.0zM105.8 100.9h1.0v1.0h-1.0zM91.9 113.5h1.0v1.0h-1.0zM79.1 100.2h1.0v1.0h-1.0zM80.6 104.2h1.0v1.0h-1.0zM107.4 82.9h1.0v1.0h-1.0zM80.2 102.5h1.0v1.0h-1.0zM97.8 67.0h1.0v1.0h-1.0zM81.0 109.5h1.0v1.0h-1.0zM80.4 103.3h1.0v1.0h-1.0zM79.4 85.2h1.0v1.0h-1.0zM78.3 95.0h1.0v1.0h-1.0zM104.9 94.2h1.0v1.0h-1.0zM80.4 103.1h1.0v1.0h-1.0zM103.1 85.9h1.0v1.0h-1.0zM99.9 123.5h1.0v1.0h-1.0zM107.5 88.9h1.0v1.0h-1.0zM80.3 109.8h1.0v1.0h-1.0zM103.8 108.6h1.0v1.0h-1.0zM103.6 88.6h1.0v1.0h-1.0zM103.8 107.4h1.0v1.0h-1.0zM104.5 80.9h1.0v1.0h-1.0zM104.4 88.6h1.0v1.0h-1.0zM80.7 103.9h1.0v1.0h-1.0zM86.0 128.4h1.0v1.0h-1.0zM103.4 98.9h1.0v1.0h-1.0zM81.9 106.2h1.0v1.0h-1.0zM84.8 110.2h1.0v1.0h-1.0zM103.3 104.8h1.0v1.0h-1.0zM78.6 89.7h1.0v1.0h-1.0zM93.0 69.4h1.0v1.0h-1.0zM103.5 88.7h1.0v1.0h-1.0zM94.5 112.0h1.0v1.0h-1.0zM82.7 114.6h1.0v1.0h-1.0zM104.3 86.2h1.0v1.0h-1.0zM100.6 107.9h1.0v1.0h-1.0zM79.1 87.5h1.0v1.0h-1.0zM99.4 63.2h1.0v1.0h-1.0zM78.6 96.3h1.0v1.0h-1.0zM101.4 78.2h1.0v1.0h-1.0zM102.4 121.8h1.0v1.0h-1.0zM103.8 91.2h1.0v1.0h-1.0zM92.9 71.2h1.0v1.0h-1.0zM103.6 97.2h1.0v1.0h-1.0zM102.1 113.8h1.0v1.0h-1.0zM95.7 111.2h1.0v1.0h-1.0zM97.2 124.0h1.0v1.0h-1.0zM78.4 93.1h1.0v1.0h-1.0zM78.7 95.8h1.0v1.0h-1.0zM104.2 94.2h1.0v1.0h-1.0zM103.9 96.4h1.0v1.0h-1.0zM80.3 82.9h1.0v1.0h-1.0zM78.5 95.2h1.0v1.0h-1.0zM83.6 109.9h1.0v1.0h-1.0zM103.7 81.8h1.0v1.0h-1.0zM79.3 99.8h1.0v1.0h-1.0zM78.7 96.2h1.0v1.0h-1.0zM103.2 85.8h1.0v1.0h-1.0zM106.6 86.4h1.0v1.0h-1.0zM102.2 83.0h1.0v1.0h-1.0zM78.1 92.3h1.0v1.0h-1.0zM86.6 111.6h1.0v1.0h-1.0zM87.9 73.4h1.0v1.0h-1.0zM79.4 86.2h1.0v1.0h-1.0zM103.9 88.7h1.0v1.0h-1.0zM105.0 102.6h1.0v1.0h-1.0zM81.3 107.2h1.0v1.0h-1.0zM78.2 93.2h1.0v1.0h-1.0zM78.5 91.9h1.0v1.0h-1.0zM104.9 93.1h1.0v1.0h-1.0zM88.1 118.7h1.0v1.0h-1.0zM80.6 81.5h1.0v1.0h-1.0zM104.0 101.1h1.0v1.0h-1.0zM78.4 94.5h1.0v1.0h-1.0zM104.1 90.6h1.0v1.0h-1.0zM79.0 97.6h1.0v1.0h-1.0zM97.1 74.9h1.0v1.0h-1.0zM102.2 72.7h1.0v1.0h-1.0zM90.1 130.7h1.0v1.0h-1.0zM78.5 92.7h1.0v1.0h-1.0zM78.5 88.4h1.0v1.0h-1.0zM78.5 93.8h1.0v1.0h-1.0zM84.0 120.5h1.0v1.0h-1.0zM78.5 92.8h1.0v1.0h-1.0zM97.4 110.8h1.0v1.0h-1.0zM102.6 73.4h1.0v1.0h-1.0zM107.5 90.8h1.0v1.0h-1.0zM82.6 73.0h1.0v1.0h-1.0zM85.0 67.9h1.0v1.0h-1.0zM97.1 75.3h1.0v1.0h-1.0zM98.6 75.9h1.0v1.0h-1.0zM92.6 131.4h1.0v1.0h-1.0zM104.9 95.0h1.0v1.0h-1.0zM80.8 108.7h1.0v1.0h-1.0zM79.5 83.3h1.0v1.0h-1.0zM105.2 86.7h1.0v1.0h-1.0zM105.4 99.1h1.0v1.0h-1.0zM107.2 106.1h1.0v1.0h-1.0zM102.1 81.6h1.0v1.0h-1.0zM100.7 115.4h1.0v1.0h-1.0zM93.0 58.6h1.0v1.0h-1.0zM80.5 82.6h1.0v1.0h-1.0zM88.4 73.9h1.0v1.0h-1.0zM104.3 78.7h1.0v1.0h-1.0zM97.7 64.4h1.0v1.0h-1.0zM79.1 87.4h1.0v1.0h-1.0zM80.9 80.7h1.0v1.0h-1.0zM80.1 102.8h1.0v1.0h-1.0zM103.9 94.8h1.0v1.0h-1.0zM96.6 74.6h1.0v1.0h-1.0zM80.9 78.2h1.0v1.0h-1.0zM84.3 74.1h1.0v1.0h-1.0zM83.9 109.7h1.0v1.0h-1.0zM100.3 114.8h1.0v1.0h-1.0zM82.0 71.3h1.0v1.0h-1.0zM80.7 111.9h1.0v1.0h-1.0zM103.3 85.5h1.0v1.0h-1.0zM105.3 88.6h1.0v1.0h-1.0zM106.3 89.4h1.0v1.0h-1.0zM82.6 107.9h1.0v1.0h-1.0zM78.5 91.2h1.0v1.0h-1.0zM107.0 96.6h1.0v1.0h-1.0zM78.6 90.2h1.0v1.0h-1.0zM90.5 72.6h1.0v1.0h-1.0zM98.6 115.5h1.0v1.0h-1.0zM92.4 114.8h1.0v1.0h-1.0zM103.3 98.7h1.0v1.0h-1.0zM81.0 106.1h1.0v1.0h-1.0zM105.3 88.3h1.0v1.0h-1.0zM79.4 100.0h1.0v1.0h-1.0zM93.4 117.2h1.0v1.0h-1.0zM103.7 89.7h1.0v1.0h-1.0zM79.1 98.4h1.0v1.0h-1.0zM93.1 69.0h1.0v1.0h-1.0zM80.1 79.4h1.0v1.0h-1.0zM103.0 84.7h1.0v1.0h-1.0zM78.3 89.6h1.0v1.0h-1.0zM78.7 90.8h1.0v1.0h-1.0zM93.2 73.7h1.0v1.0h-1.0zM102.3 108.3h1.0v1.0h-1.0zM87.1 121.7h1.0v1.0h-1.0zM88.2 72.6h1.0v1.0h-1.0zM93.9 67.5h1.0v1.0h-1.0zM85.6 73.2h1.0v1.0h-1.0zM79.1 98.5h1.0v1.0h-1.0zM78.2 95.1h1.0v1.0h-1.0zM102.3 83.7h1.0v1.0h-1.0zM103.6 98.9h1.0v1.0h-1.0zM84.5 74.6h1.0v1.0h-1.0zM102.6 104.8h1.0v1.0h-1.0zM79.1 87.0h1.0v1.0h-1.0zM79.5 101.2h1.0v1.0h-1.0zM83.0 75.1h1.0v1.0h-1.0zM105.8 97.4h1.0v1.0h-1.0zM101.7 103.9h1.0v1.0h-1.0zM78.7 95.1h1.0v1.0h-1.0zM103.9 99.3h1.0v1.0h-1.0zM78.7 95.5h1.0v1.0h-1.0zM106.8 88.3h1.0v1.0h-1.0zM78.4 94.1h1.0v1.0h-1.0zM81.1 116.1h1.0v1.0h-1.0zM102.4 103.6h1.0v1.0h-1.0zM97.4 126.3h1.0v1.0h-1.0zM78.5 92.3h1.0v1.0h-1.0zM79.3 101.8h1.0v1.0h-1.0zM89.6 126.2h1.0v1.0h-1.0zM85.8 73.0h1.0v1.0h-1.0zM80.7 104.8h1.0v1.0h-1.0zM78.8 96.8h1.0v1.0h-1.0zM80.4 82.4h1.0v1.0h-1.0zM83.1 116.0h1.0v1.0h-1.0zM78.7 96.6h1.0v1.0h-1.0zM102.9 81.9h1.0v1.0h-1.0zM79.6 104.4h1.0v1.0h-1.0zM106.5 90.7h1.0v1.0h-1.0zM79.5 101.3h1.0v1.0h-1.0zM90.0 72.2h1.0v1.0h-1.0zM86.2 62.6h1.0v1.0h-1.0zM81.3 78.3h1.0v1.0h-1.0zM79.0 98.3h1.0v1.0h-1.0zM95.9 124.1h1.0v1.0h-1.0zM78.3 89.8h1.0v1.0h-1.0zM81.1 108.5h1.0v1.0h-1.0zM104.5 94.4h1.0v1.0h-1.0zM93.3 72.7h1.0v1.0h-1.0zM80.2 83.5h1.0v1.0h-1.0zM79.2 101.9h1.0v1.0h-1.0zM101.4 122.4h1.0v1.0h-1.0zM105.0 98.4h1.0v1.0h-1.0zM101.8 70.9h1.0v1.0h-1.0zM79.8 102.3h1.0v1.0h-1.0zM85.3 68.6h1.0v1.0h-1.0zM90.7 68.3h1.0v1.0h-1.0zM90.9 123.7h1.0v1.0h-1.0zM78.9 88.0h1.0v1.0h-1.0zM103.9 92.0h1.0v1.0h-1.0zM95.1 72.9h1.0v1.0h-1.0zM86.6 62.0h1.0v1.0h-1.0zM87.4 117.8h1.0v1.0h-1.0zM78.6 90.7h1.0v1.0h-1.0zM101.7 111.3h1.0v1.0h-1.0zM104.5 82.5h1.0v1.0h-1.0zM84.4 120.1h1.0v1.0h-1.0zM79.3 99.5h1.0v1.0h-1.0zM79.8 84.1h1.0v1.0h-1.0zM78.2 90.5h1.0v1.0h-1.0zM79.1 87.3h1.0v1.0h-1.0zM80.5 107.2h1.0v1.0h-1.0zM103.6 99.3h1.0v1.0h-1.0zM83.5 72.9h1.0v1.0h-1.0zM99.9 76.8h1.0v1.0h-1.0zM88.0 114.4h1.0v1.0h-1.0zM78.7 90.0h1.0v1.0h-1.0zM80.1 104.2h1.0v1.0h-1.0zM101.2 106.5h1.0v1.0h-1.0zM105.8 78.0h1.0v1.0h-1.0zM91.2 113.2h1.0v1.0h-1.0zM102.1 102.9h1.0v1.0h-1.0zM98.2 68.4h1.0v1.0h-1.0zM89.0 117.3h1.0v1.0h-1.0zM85.1 75.9h1.0v1.0h-1.0zM101.8 70.1h1.0v1.0h-1.0zM97.9 119.9h1.0v1.0h-1.0zM85.2 74.7h1.0v1.0h-1.0zM102.1 82.5h1.0v1.0h-1.0zM78.6 95.1h1.0v1.0h-1.0zM78.7 97.8h1.0v1.0h-1.0zM79.1 87.3h1.0v1.0h-1.0zM104.0 92.0h1.0v1.0h-1.0zM95.8 119.4h1.0v1.0h-1.0zM105.7 113.0h1.0v1.0h-1.0zM81.8 107.5h1.0v1.0h-1.0zM79.0 98.6h1.0v1.0h-1.0zM105.1 84.8h1.0v1.0h-1.0zM100.0 109.3h1.0v1.0h-1.0zM86.1 74.7h1.0v1.0h-1.0zM105.6 79.9h1.0v1.0h-1.0zM94.4 114.7h1.0v1.0h-1.0zM95.2 122.8h1.0v1.0h-1.0zM105.7 97.4h1.0v1.0h-1.0zM106.6 99.4h1.0v1.0h-1.0zM78.6 89.5h1.0v1.0h-1.0zM102.7 100.9h1.0v1.0h-1.0zM79.8 108.1h1.0v1.0h-1.0zM79.4 84.4h1.0v1.0h-1.0zM103.4 98.1h1.0v1.0h-1.0zM105.9 94.9h1.0v1.0h-1.0zM99.3 109.3h1.0v1.0h-1.0zM81.8 76.6h1.0v1.0h-1.0zM83.0 109.9h1.0v1.0h-1.0zM85.6 115.5h1.0v1.0h-1.0zM81.2 105.7h1.0v1.0h-1.0zM91.4 114.4h1.0v1.0h-1.0zM89.9 112.4h1.0v1.0h-1.0zM83.4 112.5h1.0v1.0h-1.0zM88.9 112.4h1.0v1.0h-1.0zM101.4 78.2h1.0v1.0h-1.0zM78.6 92.1h1.0v1.0h-1.0zM104.9 81.3h1.0v1.0h-1.0zM80.1 82.2h1.0v1.0h-1.0zM84.2 74.4h1.0v1.0h-1.0zM79.4 100.2h1.0v1.0h-1.0zM78.5 92.7h1.0v1.0h-1.0zM78.5 90.7h1.0v1.0h-1.0zM98.3 64.4h1.0v1.0h-1.0zM94.3 111.9h1.0v1.0h-1.0zM85.4 110.4h1.0v1.0h-1.0zM97.9 70.7h1.0v1.0h-1.0zM86.9 111.9h1.0v1.0h-1.0zM104.8 78.2h1.0v1.0h-1.0zM82.9 74.2h1.0v1.0h-1.0zM90.4 70.4h1.0v1.0h-1.0zM79.7 101.7h1.0v1.0h-1.0zM106.6 78.6h1.0v1.0h-1.0zM106.2 84.4h1.0v1.0h-1.0zM103.5 99.2h1.0v1.0h-1.0zM105.0 90.5h1.0v1.0h-1.0zM78.6 91.8h1.0v1.0h-1.0zM102.5 79.7h1.0v1.0h-1.0zM103.8 92.2h1.0v1.0h-1.0zM103.8 92.5h1.0v1.0h-1.0zM101.5 106.9h1.0v1.0h-1.0zM81.2 81.0h1.0v1.0h-1.0zM78.6 87.8h1.0v1.0h-1.0zM79.0 98.2h1.0v1.0h-1.0zM79.5 85.4h1.0v1.0h-1.0zM100.3 110.4h1.0v1.0h-1.0zM104.7 83.2h1.0v1.0h-1.0zM95.9 115.3h1.0v1.0h-1.0zM78.7 89.5h1.0v1.0h-1.0zM79.2 86.6h1.0v1.0h-1.0zM104.0 94.4h1.0v1.0h-1.0zM82.1 79.3h1.0v1.0h-1.0zM105.9 100.2h1.0v1.0h-1.0zM80.4 111.5h1.0v1.0h-1.0zM79.0 88.3h1.0v1.0h-1.0zM81.0 81.2h1.0v1.0h-1.0zM100.4 71.5h1.0v1.0h-1.0zM92.2 73.5h1.0v1.0h-1.0zM106.5 96.3h1.0v1.0h-1.0zM101.3 105.3h1.0v1.0h-1.0zM103.8 95.4h1.0v1.0h-1.0zM78.2 95.2h1.0v1.0h-1.0zM83.5 109.1h1.0v1.0h-1.0zM99.4 77.7h1.0v1.0h-1.0zM80.6 80.9h1.0v1.0h-1.0zM103.3 87.8h1.0v1.0h-1.0zM79.0 87.9h1.0v1.0h-1.0zM99.2 77.0h1.0v1.0h-1.0zM87.0 74.2h1.0v1.0h-1.0zM78.1 93.4h1.0v1.0h-1.0zM92.5 114.1h1.0v1.0h-1.0zM105.1 85.1h1.0v1.0h-1.0zM103.5 98.4h1.0v1.0h-1.0zM92.9 114.2h1.0v1.0h-1.0zM102.6 76.1h1.0v1.0h-1.0zM105.7 91.1h1.0v1.0h-1.0zM80.6 82.0h1.0v1.0h-1.0zM86.8 71.6h1.0v1.0h-1.0zM104.5 98.2h1.0v1.0h-1.0zM80.0 103.0h1.0v1.0h-1.0zM103.5 96.9h1.0v1.0h-1.0zM104.4 91.6h1.0v1.0h-1.0zM83.0 108.0h1.0v1.0h-1.0zM79.3 85.2h1.0v1.0h-1.0zM100.0 111.7h1.0v1.0h-1.0zM78.3 93.0h1.0v1.0h-1.0zM79.1 87.7h1.0v1.0h-1.0zM100.6 116.6h1.0v1.0h-1.0zM106.6 101.2h1.0v1.0h-1.0zM103.8 95.7h1.0v1.0h-1.0zM78.4 95.6h1.0v1.0h-1.0zM79.9 82.5h1.0v1.0h-1.0zM93.1 65.6h1.0v1.0h-1.0zM106.6 98.2h1.0v1.0h-1.0zM100.9 105.9h1.0v1.0h-1.0zM103.7 96.0h1.0v1.0h-1.0zM102.5 81.9h1.0v1.0h-1.0zM102.9 100.1h1.0v1.0h-1.0zM102.1 77.2h1.0v1.0h-1.0zM103.0 86.1h1.0v1.0h-1.0zM102.6 102.8h1.0v1.0h-1.0zM97.8 109.9h1.0v1.0h-1.0zM98.8 116.8h1.0v1.0h-1.0zM99.7 108.0h1.0v1.0h-1.0zM78.7 90.2h1.0v1.0h-1.0zM102.4 108.3h1.0v1.0h-1.0zM78.5 92.4h1.0v1.0h-1.0zM78.7 95.0h1.0v1.0h-1.0zM80.2 83.3h1.0v1.0h-1.0zM82.6 107.3h1.0v1.0h-1.0zM103.9 82.2h1.0v1.0h-1.0zM79.8 102.2h1.0v1.0h-1.0zM103.5 88.1h1.0v1.0h-1.0zM79.8 103.2h1.0v1.0h-1.0zM80.1 104.5h1.0v1.0h-1.0zM102.8 85.4h1.0v1.0h-1.0zM86.8 112.8h1.0v1.0h-1.0zM91.2 64.0h1.0v1.0h-1.0zM83.2 68.6h1.0v1.0h-1.0zM99.0 111.2h1.0v1.0h-1.0zM103.5 76.7h1.0v1.0h-1.0zM107.1 106.6h1.0v1.0h-1.0zM89.4 62.3h1.0v1.0h-1.0zM80.6 105.5h1.0v1.0h-1.0zM107.2 88.8h1.0v1.0h-1.0zM79.1 86.7h1.0v1.0h-1.0zM106.9 92.9h1.0v1.0h-1.0zM80.4 77.0h1.0v1.0h-1.0zM101.8 106.5h1.0v1.0h-1.0zM79.1 87.8h1.0v1.0h-1.0zM94.9 74.3h1.0v1.0h-1.0zM80.7 82.0h1.0v1.0h-1.0zM82.5 110.7h1.0v1.0h-1.0zM98.7 112.5h1.0v1.0h-1.0zM105.6 75.0h1.0v1.0h-1.0zM89.4 115.2h1.0v1.0h-1.0zM84.9 75.8h1.0v1.0h-1.0zM100.8 79.7h1.0v1.0h-1.0zM78.9 88.4h1.0v1.0h-1.0zM103.8 93.1h1.0v1.0h-1.0zM104.3 93.2h1.0v1.0h-1.0zM85.4 129.6h1.0v1.0h-1.0zM81.2 81.2h1.0v1.0h-1.0zM87.1 73.9h1.0v1.0h-1.0zM78.4 94.5h1.0v1.0h-1.0zM105.1 75.5h1.0v1.0h-1.0zM79.3 99.5h1.0v1.0h-1.0zM79.8 101.6h1.0v1.0h-1.0zM90.0 70.3h1.0v1.0h-1.0zM84.2 76.6h1.0v1.0h-1.0zM97.7 61.7h1.0v1.0h-1.0zM98.4 116.7h1.0v1.0h-1.0z" fill="#000" opacity="1.0"/>
<path d="M93.6 69.5h1.0v1.0h-1.0zM88.3 70.1h1.0v1.0h-1.0zM91.4 60.9h1.0v1.0h-1.0zM87.3 59.7h1.0v1.0h-1.0zM95.9 69.1h1.0v1.0h-1.0zM100.1 69.4h1.0v1.0h-1.0zM96.8 61.0h1.0v1.0h-1.0zM82.3 65.4h1.0v1.0h-1.0zM89.8 70.3h1.0v1.0h-1.0zM91.3 66.8h1.0v1.0h-1.0zM92.8 69.6h1.0v1.0h-1.0zM94.0 70.0h1.0v1.0h-1.0zM88.5 67.3h1.0v1.0h-1.0zM84.2 62.8h1.0v1.0h-1.0zM90.3 70.7h1.0v1.0h-1.0zM87.8 60.9h1.0v1.0h-1.0zM98.9 63.3h1.0v1.0h-1.0zM83.2 63.6h1.0v1.0h-1.0zM87.5 59.6h1.0v1.0h-1.0zM90.2 76.1h1.0v1.0h-1.0zM87.2 63.2h1.0v1.0h-1.0zM100.4 68.4h1.0v1.0h-1.0zM91.8 75.3h1.0v1.0h-1.0zM84.3 67.6h1.0v1.0h-1.0zM96.4 69.2h1.0v1.0h-1.0zM85.1 63.1h1.0v1.0h-1.0zM102.7 67.5h1.0v1.0h-1.0zM90.6 74.2h1.0v1.0h-1.0zM82.2 67.7h1.0v1.0h-1.0zM83.8 73.6h1.0v1.0h-1.0zM85.3 68.6h1.0v1.0h-1.0zM85.7 68.7h1.0v1.0h-1.0zM95.0 68.0h1.0v1.0h-1.0zM89.9 69.6h1.0v1.0h-1.0zM90.5 64.7h1.0v1.0h-1.0zM96.9 73.0h1.0v1.0h-1.0zM84.4 63.0h1.0v1.0h-1.0zM86.6 69.8h1.0v1.0h-1.0zM85.2 74.6h1.0v1.0h-1.0zM92.8 69.0h1.0v1.0h-1.0zM98.5 63.7h1.0v1.0h-1.0zM95.4 70.6h1.0v1.0h-1.0zM100.2 62.8h1.0v1.0h-1.0zM101.2 71.1h1.0v1.0h-1.0zM94.2 74.2h1.0v1.0h-1.0zM90.5 66.7h1.0v1.0h-1.0zM98.6 65.8h1.0v1.0h-1.0zM98.8 74.6h1.0v1.0h-1.0zM94.2 69.2h1.0v1.0h-1.0zM87.9 62.7h1.0v1.0h-1.0zM100.8 63.1h1.0v1.0h-1.0zM93.2 69.9h1.0v1.0h-1.0zM86.2 64.1h1.0v1.0h-1.0zM89.0 76.6h1.0v1.0h-1.0zM94.9 75.4h1.0v1.0h-1.0zM102.4 72.1h1.0v1.0h-1.0zM101.1 65.6h1.0v1.0h-1.0zM88.3 75.3h1.0v1.0h-1.0zM100.9 63.2h1.0v1.0h-1.0zM100.4 69.7h1.0v1.0h-1.0zM97.9 73.4h1.0v1.0h-1.0zM102.7 65.3h1.0v1.0h-1.0zM92.6 75.1h1.0v1.0h-1.0zM90.6 71.6h1.0v1.0h-1.0zM92.1 59.7h1.0v1.0h-1.0zM88.6 73.3h1.0v1.0h-1.0zM89.3 60.4h1.0v1.0h-1.0zM88.6 68.7h1.0v1.0h-1.0zM96.4 70.2h1.0v1.0h-1.0zM96.2 62.1h1.0v1.0h-1.0zM88.2 63.5h1.0v1.0h-1.0zM89.2 70.9h1.0v1.0h-1.0zM101.3 66.8h1.0v1.0h-1.0zM99.2 73.8h1.0v1.0h-1.0zM85.1 63.7h1.0v1.0h-1.0zM93.6 60.6h1.0v1.0h-1.0zM100.6 61.4h1.0v1.0h-1.0zM84.8 72.2h1.0v1.0h-1.0zM87.3 72.3h1.0v1.0h-1.0zM86.3 73.7h1.0v1.0h-1.0zM88.4 72.5h1.0v1.0h-1.0zM98.4 61.0h1.0v1.0h-1.0zM87.8 60.2h1.0v1.0h-1.0zM85.5 73.0h1.0v1.0h-1.0zM92.4 73.3h1.0v1.0h-1.0zM100.8 73.0h1.0v1.0h-1.0zM98.1 65.5h1.0v1.0h-1.0zM89.7 70.2h1.0v1.0h-1.0zM98.3 73.9h1.0v1.0h-1.0zM95.1 66.3h1.0v1.0h-1.0zM92.2 76.3h1.0v1.0h-1.0zM94.1 76.8h1.0v1.0h-1.0zM87.7 73.2h1.0v1.0h-1.0zM94.4 72.9h1.0v1.0h-1.0zM87.1 70.3h1.0v1.0h-1.0zM92.2 66.4h1.0v1.0h-1.0zM85.9 61.5h1.0v1.0h-1.0zM90.2 71.7h1.0v1.0h-1.0zM94.8 69.8h1.0v1.0h-1.0zM94.8 60.9h1.0v1.0h-1.0zM100.2 68.6h1.0v1.0h-1.0zM87.2 64.9h1.0v1.0h-1.0zM99.8 69.3h1.0v1.0h-1.0zM85.6 75.5h1.0v1.0h-1.0zM85.5 75.0h1.0v1.0h-1.0zM98.4 62.7h1.0v1.0h-1.0zM99.8 74.1h1.0v1.0h-1.0zM99.7 71.8h1.0v1.0h-1.0zM95.4 69.7h1.0v1.0h-1.0zM88.7 70.0h1.0v1.0h-1.0zM101.2 67.6h1.0v1.0h-1.0zM101.5 62.4h1.0v1.0h-1.0zM93.0 60.4h1.0v1.0h-1.0zM82.5 69.4h1.0v1.0h-1.0zM90.3 64.7h1.0v1.0h-1.0zM85.2 66.9h1.0v1.0h-1.0zM82.8 67.2h1.0v1.0h-1.0zM89.3 61.3h1.0v1.0h-1.0zM95.0 59.6h1.0v1.0h-1.0zM96.2 70.0h1.0v1.0h-1.0zM96.9 69.1h1.0v1.0h-1.0zM98.7 66.7h1.0v1.0h-1.0zM85.2 70.4h1.0v1.0h-1.0zM86.9 66.0h1.0v1.0h-1.0zM93.7 62.6h1.0v1.0h-1.0zM98.3 61.0h1.0v1.0h-1.0zM101.0 68.1h1.0v1.0h-1.0zM101.5 72.9h1.0v1.0h-1.0zM97.9 70.1h1.0v1.0h-1.0zM93.5 60.7h1.0v1.0h-1.0zM88.8 62.7h1.0v1.0h-1.0zM87.4 67.4h1.0v1.0h-1.0zM86.8 69.1h1.0v1.0h-1.0zM90.8 65.2h1.0v1.0h-1.0zM95.8 71.2h1.0v1.0h-1.0zM83.9 66.5h1.0v1.0h-1.0zM103.9 68.2h1.0v1.0h-1.0zM96.1 63.0h1.0v1.0h-1.0zM98.2 75.3h1.0v1.0h-1.0zM97.3 67.4h1.0v1.0h-1.0zM92.9 59.4h1.0v1.0h-1.0zM97.3 66.3h1.0v1.0h-1.0zM95.9 70.6h1.0v1.0h-1.0zM93.8 77.0h1.0v1.0h-1.0zM99.2 64.5h1.0v1.0h-1.0zM97.3 72.1h1.0v1.0h-1.0zM93.0 75.6h1.0v1.0h-1.0zM90.6 59.8h1.0v1.0h-1.0zM85.3 70.5h1.0v1.0h-1.0zM85.6 69.2h1.0v1.0h-1.0zM83.4 70.2h1.0v1.0h-1.0zM90.9 62.7h1.0v1.0h-1.0zM88.5 66.5h1.0v1.0h-1.0zM99.4 69.7h1.0v1.0h-1.0zM91.2 69.3h1.0v1.0h-1.0zM99.1 71.0h1.0v1.0h-1.0zM102.3 64.9h1.0v1.0h-1.0zM98.9 69.0h1.0v1.0h-1.0zM88.1 71.9h1.0v1.0h-1.0zM98.3 73.5h1.0v1.0h-1.0zM96.3 63.0h1.0v1.0h-1.0zM94.2 70.8h1.0v1.0h-1.0zM102.5 68.8h1.0v1.0h-1.0zM93.7 76.0h1.0v1.0h-1.0zM93.3 65.3h1.0v1.0h-1.0zM94.9 72.9h1.0v1.0h-1.0zM93.7 59.9h1.0v1.0h-1.0zM90.0 74.0h1.0v1.0h-1.0zM87.7 73.2h1.0v1.0h-1.0zM94.1 63.3h1.0v1.0h-1.0zM96.6 59.5h1.0v1.0h-1.0zM83.4 62.5h1.0v1.0h-1.0zM96.9 66.5h1.0v1.0h-1.0zM97.6 67.8h1.0v1.0h-1.0zM93.8 64.9h1.0v1.0h-1.0zM90.0 74.0h1.0v1.0h-1.0zM97.5 61.4h1.0v1.0h-1.0zM95.6 76.6h1.0v1.0h-1.0zM97.9 62.9h1.0v1.0h-1.0zM98.3 69.6h1.0v1.0h-1.0zM90.5 73.9h1.0v1.0h-1.0zM100.8 65.4h1.0v1.0h-1.0zM93.8 65.7h1.0v1.0h-1.0zM92.8 76.1h1.0v1.0h-1.0zM89.5 71.8h1.0v1.0h-1.0zM94.9 68.8h1.0v1.0h-1.0zM85.3 71.7h1.0v1.0h-1.0zM85.5 72.2h1.0v1.0h-1.0zM92.1 69.2h1.0v1.0h-1.0zM89.5 63.1h1.0v1.0h-1.0zM85.4 68.3h1.0v1.0h-1.0zM92.2 70.1h1.0v1.0h-1.0zM90.7 73.0h1.0v1.0h-1.0zM94.0 69.1h1.0v1.0h-1.0zM90.9 68.2h1.0v1.0h-1.0zM97.5 64.1h1.0v1.0h-1.0zM84.7 70.4h1.0v1.0h-1.0zM96.1 68.5h1.0v1.0h-1.0zM94.4 61.1h1.0v1.0h-1.0zM85.8 68.2h1.0v1.0h-1.0zM92.6 61.3h1.0v1.0h-1.0zM95.3 59.6h1.0v1.0h-1.0zM100.2 63.0h1.0v1.0h-1.0zM88.9 62.3h1.0v1.0h-1.0zM83.9 66.5h1.0v1.0h-1.0zM82.2 66.6h1.0v1.0h-1.0zM94.1 66.3h1.0v1.0h-1.0zM92.6 60.5h1.0v1.0h-1.0zM83.6 62.8h1.0v1.0h-1.0zM100.0 70.0h1.0v1.0h-1.0zM84.6 74.5h1.0v1.0h-1.0zM96.9 74.1h1.0v1.0h-1.0zM98.7 74.5h1.0v1.0h-1.0zM82.7 68.6h1.0v1.0h-1.0zM88.7 76.4h1.0v1.0h-1.0zM97.9 68.2h1.0v1.0h-1.0zM91.4 59.1h1.0v1.0h-1.0zM93.5 63.1h1.0v1.0h-1.0zM101.0 71.9h1.0v1.0h-1.0zM92.2 65.7h1.0v1.0h-1.0zM100.2 65.3h1.0v1.0h-1.0zM100.3 69.4h1.0v1.0h-1.0zM90.5 70.6h1.0v1.0h-1.0zM100.9 61.9h1.0v1.0h-1.0zM98.0 72.5h1.0v1.0h-1.0zM91.1 75.7h1.0v1.0h-1.0zM97.6 71.5h1.0v1.0h-1.0zM85.8 71.5h1.0v1.0h-1.0zM84.3 70.9h1.0v1.0h-1.0zM102.8 64.6h1.0v1.0h-1.0zM101.2 63.2h1.0v1.0h-1.0zM93.3 72.7h1.0v1.0h-1.0zM83.6 69.9h1.0v1.0h-1.0zM87.2 64.5h1.0v1.0h-1.0zM98.9 67.7h1.0v1.0h-1.0zM95.9 68.3h1.0v1.0h-1.0zM95.0 75.9h1.0v1.0h-1.0zM93.8 66.4h1.0v1.0h-1.0zM93.0 72.7h1.0v1.0h-1.0zM95.0 59.2h1.0v1.0h-1.0zM92.2 71.0h1.0v1.0h-1.0zM103.6 66.1h1.0v1.0h-1.0zM90.9 61.6h1.0v1.0h-1.0zM92.3 59.7h1.0v1.0h-1.0zM86.5 67.7h1.0v1.0h-1.0zM83.3 66.8h1.0v1.0h-1.0zM88.4 74.8h1.0v1.0h-1.0zM99.3 75.5h1.0v1.0h-1.0zM93.8 72.4h1.0v1.0h-1.0zM103.4 65.7h1.0v1.0h-1.0zM101.9 64.1h1.0v1.0h-1.0zM98.5 61.0h1.0v1.0h-1.0zM89.6 66.9h1.0v1.0h-1.0zM91.3 59.4h1.0v1.0h-1.0zM93.8 66.3h1.0v1.0h-1.0zM101.6 71.1h1.0v1.0h-1.0zM81.7 68.7h1.0v1.0h-1.0zM100.2 67.6h1.0v1.0h-1.0zM88.3 61.1h1.0v1.0h-1.0zM90.1 62.6h1.0v1.0h-1.0zM90.6 66.1h1.0v1.0h-1.0zM100.4 63.3h1.0v1.0h-1.0zM95.0 61.9h1.0v1.0h-1.0zM94.6 74.1h1.0v1.0h-1.0zM88.9 61.6h1.0v1.0h-1.0zM93.0 68.4h1.0v1.0h-1.0zM87.9 70.8h1.0v1.0h-1.0zM93.3 72.4h1.0v1.0h-1.0zM84.2 72.0h1.0v1.0h-1.0zM100.6 63.9h1.0v1.0h-1.0zM103.1 69.1h1.0v1.0h-1.0zM84.9 62.9h1.0v1.0h-1.0zM87.3 64.3h1.0v1.0h-1.0zM90.9 70.1h1.0v1.0h-1.0zM91.1 66.1h1.0v1.0h-1.0zM87.9 59.8h1.0v1.0h-1.0zM88.1 61.6h1.0v1.0h-1.0zM96.5 59.3h1.0v1.0h-1.0zM96.9 59.3h1.0v1.0h-1.0zM91.2 68.3h1.0v1.0h-1.0zM85.6 63.0h1.0v1.0h-1.0zM98.4 62.4h1.0v1.0h-1.0zM92.0 68.5h1.0v1.0h-1.0zM96.9 61.4h1.0v1.0h-1.0zM101.3 67.3h1.0v1.0h-1.0zM98.6 61.3h1.0v1.0h-1.0zM100.3 67.6h1.0v1.0h-1.0zM98.3 64.4h1.0v1.0h-1.0zM99.0 68.4h1.0v1.0h-1.0zM85.7 75.6h1.0v1.0h-1.0zM87.7 71.1h1.0v1.0h-1.0zM91.2 65.2h1.0v1.0h-1.0zM90.0 73.6h1.0v1.0h-1.0zM98.8 73.2h1.0v1.0h-1.0zM83.4 72.0h1.0v1.0h-1.0zM86.4 75.9h1.0v1.0h-1.0zM95.3 74.5h1.0v1.0h-1.0zM92.7 69.1h1.0v1.0h-1.0zM89.0 76.5h1.0v1.0h-1.0zM90.4 74.4h1.0v1.0h-1.0zM86.6 67.3h1.0v1.0h-1.0zM89.6 67.5h1.0v1.0h-1.0zM88.9 72.1h1.0v1.0h-1.0zM96.5 60.4h1.0v1.0h-1.0zM89.8 61.0h1.0v1.0h-1.0zM99.1 61.9h1.0v1.0h-1.0zM96.4 69.2h1.0v1.0h-1.0zM92.4 59.3h1.0v1.0h-1.0zM102.6 67.4h1.0v1.0h-1.0zM97.2 74.0h1.0v1.0h-1.0zM86.1 62.8h1.0v1.0h-1.0zM100.0 75.0h1.0v1.0h-1.0zM86.6 67.7h1.0v1.0h-1.0zM99.6 67.3h1.0v1.0h-1.0zM101.0 71.3h1.0v1.0h-1.0zM92.2 72.4h1.0v1.0h-1.0zM89.6 75.0h1.0v1.0h-1.0zM88.5 75.0h1.0v1.0h-1.0zM102.0 62.7h1.0v1.0h-1.0zM101.0 62.1h1.0v1.0h-1.0zM92.3 76.6h1.0v1.0h-1.0zM99.9 71.9h1.0v1.0h-1.0zM95.7 69.4h1.0v1.0h-1.0zM96.4 66.9h1.0v1.0h-1.0zM90.8 61.2h1.0v1.0h-1.0zM102.7 68.1h1.0v1.0h-1.0zM102.5 71.3h1.0v1.0h-1.0zM95.9 61.9h1.0v1.0h-1.0zM90.7 68.5h1.0v1.0h-1.0zM91.8 66.2h1.0v1.0h-1.0zM81.6 66.5h1.0v1.0h-1.0zM90.8 65.1h1.0v1.0h-1.0zM90.8 60.2h1.0v1.0h-1.0zM87.7 75.3h1.0v1.0h-1.0zM86.0 65.1h1.0v1.0h-1.0zM86.5 67.2h1.0v1.0h-1.0zM90.0 76.7h1.0v1.0h-1.0zM86.6 74.8h1.0v1.0h-1.0zM89.1 71.1h1.0v1.0h-1.0zM103.8 68.1h1.0v1.0h-1.0zM90.1 66.7h1.0v1.0h-1.0zM93.8 69.8h1.0v1.0h-1.0zM85.6 63.1h1.0v1.0h-1.0zM98.5 66.6h1.0v1.0h-1.0zM93.1 72.4h1.0v1.0h-1.0zM93.7 69.3h1.0v1.0h-1.0zM85.1 68.2h1.0v1.0h-1.0zM84.9 74.8h1.0v1.0h-1.0zM88.4 76.0h1.0v1.0h-1.0zM88.9 67.4h1.0v1.0h-1.0zM101.3 69.4h1.0v1.0h-1.0zM94.3 66.5h1.0v1.0h-1.0zM90.9 63.6h1.0v1.0h-1.0zM88.5 60.0h1.0v1.0h-1.0zM91.7 63.3h1.0v1.0h-1.0zM98.8 75.8h1.0v1.0h-1.0zM102.0 63.4h1.0v1.0h-1.0zM90.0 67.5h1.0v1.0h-1.0zM85.1 74.7h1.0v1.0h-1.0zM98.2 70.1h1.0v1.0h-1.0zM102.9 70.3h1.0v1.0h-1.0zM90.5 70.2h1.0v1.0h-1.0zM89.3 71.4h1.0v1.0h-1.0zM84.3 71.0h1.0v1.0h-1.0zM90.5 65.5h1.0v1.0h-1.0zM89.8 67.5h1.0v1.0h-1.0zM82.9 71.1h1.0v1.0h-1.0zM91.7 76.6h1.0v1.0h-1.0zM92.8 74.0h1.0v1.0h-1.0zM92.7 67.4h1.0v1.0h-1.0zM84.6 65.7h1.0v1.0h-1.0zM90.0 59.0h1.0v1.0h-1.0zM90.6 63.8h1.0v1.0h-1.0zM95.0 74.3h1.0v1.0h-1.0zM90.8 74.9h1.0v1.0h-1.0zM100.6 72.2h1.0v1.0h-1.0zM90.3 69.1h1.0v1.0h-1.0zM100.6 74.3h1.0v1.0h-1.0zM98.8 60.8h1.0v1.0h-1.0zM83.7 74.0h1.0v1.0h-1.0zM97.2 75.1h1.0v1.0h-1.0zM97.4 66.5h1.0v1.0h-1.0zM96.6 68.1h1.0v1.0h-1.0zM101.4 72.3h1.0v1.0h-1.0zM86.3 63.9h1.0v1.0h-1.0zM99.4 73.0h1.0v1.0h-1.0zM95.2 70.6h1.0v1.0h-1.0zM84.8 63.8h1.0v1.0h-1.0zM95.8 59.8h1.0v1.0h-1.0zM96.6 72.0h1.0v1.0h-1.0zM97.5 73.2h1.0v1.0h-1.0zM103.0 69.6h1.0v1.0h-1.0zM88.2 60.2h1.0v1.0h-1.0zM81.5 68.7h1.0v1.0h-1.0zM97.8 60.6h1.0v1.0h-1.0zM94.3 63.9h1.0v1.0h-1.0zM91.0 69.9h1.0v1.0h-1.0zM93.2 61.5h1.0v1.0h-1.0zM98.7 67.6h1.0v1.0h-1.0zM82.8 71.7h1.0v1.0h-1.0zM102.3 66.4h1.0v1.0h-1.0zM100.7 61.9h1.0v1.0h-1.0zM91.3 75.4h1.0v1.0h-1.0zM101.2 71.0h1.0v1.0h-1.0zM100.3 66.0h1.0v1.0h-1.0zM97.8 73.7h1.0v1.0h-1.0zM99.7 70.6h1.0v1.0h-1.0zM99.0 71.0h1.0v1.0h-1.0zM96.6 60.6h1.0v1.0h-1.0zM97.2 62.9h1.0v1.0h-1.0zM90.0 68.8h1.0v1.0h-1.0zM94.6 61.0h1.0v1.0h-1.0zM88.8 70.0h1.0v1.0h-1.0zM89.7 68.6h1.0v1.0h-1.0zM94.9 69.8h1.0v1.0h-1.0zM88.7 69.6h1.0v1.0h-1.0zM96.7 61.4h1.0v1.0h-1.0zM98.2 62.8h1.0v1.0h-1.0zM95.8 72.2h1.0v1.0h-1.0zM97.2 61.9h1.0v1.0h-1.0z" fill="#000" opacity="1.0"/>
<path d="M96.6 71.9h1.0v1.0h-1.0zM103.0 84.1h1.0v1.0h-1.0zM94.2 88.1h1.0v1.0h-1.0zM105.0 77.7h1.0v1.0h-1.0zM99.9 85.4h1.0v1.0h-1.0zM95.8 78.3h1.0v1.0h-1.0zM102.9 78.9h1.0v1.0h-1.0zM100.2 83.9h1.0v1.0h-1.0zM106.2 84.6h1.0v1.0h-1.0zM101.9 77.5h1.0v1.0h-1.0zM105.3 83.2h1.0v1.0h-1.0zM100.1 94.5h1.0v1.0h-1.0zM105.1 74.7h1.0v1.0h-1.0zM99.0 94.2h1.0v1.0h-1.0zM98.5 95.5h1.0v1.0h-1.0zM99.7 96.9h1.0v1.0h-1.0zM97.1 68.4h1.0v1.0h-1.0zM96.1 94.9h1.0v1.0h-1.0zM96.9 78.0h1.0v1.0h-1.0zM97.6 74.9h1.0v1.0h-1.0zM101.1 84.1h1.0v1.0h-1.0zM97.4 77.0h1.0v1.0h-1.0zM105.0 90.3h1.0v1.0h-1.0zM103.8 92.8h1.0v1.0h-1.0zM99.4 91.5h1.0v1.0h-1.0zM105.8 76.0h1.0v1.0h-1.0zM103.5 68.3h1.0v1.0h-1.0zM94.6 72.6h1.0v1.0h-1.0zM96.2 73.5h1.0v1.0h-1.0zM98.1 90.8h1.0v1.0h-1.0zM96.8 78.6h1.0v1.0h-1.0zM95.9 70.4h1.0v1.0h-1.0zM99.4 74.5h1.0v1.0h-1.0zM104.2 83.7h1.0v1.0h-1.0zM94.1 87.9h1.0v1.0h-1.0zM95.2 78.6h1.0v1.0h-1.0zM95.9 74.7h1.0v1.0h-1.0zM97.7 71.2h1.0v1.0h-1.0zM96.8 79.5h1.0v1.0h-1.0zM103.3 89.4h1.0v1.0h-1.0zM105.2 71.8h1.0v1.0h-1.0zM98.6 93.7h1.0v1.0h-1.0zM95.3 80.8h1.0v1.0h-1.0zM102.7 94.8h1.0v1.0h-1.0zM102.9 85.9h1.0v1.0h-1.0zM99.4 89.1h1.0v1.0h-1.0zM100.7 86.2h1.0v1.0h-1.0zM97.1 81.0h1.0v1.0h-1.0zM96.6 72.3h1.0v1.0h-1.0zM96.6 74.2h1.0v1.0h-1.0zM97.1 76.4h1.0v1.0h-1.0zM94.3 85.0h1.0v1.0h-1.0zM101.3 95.4h1.0v1.0h-1.0zM94.1 73.9h1.0v1.0h-1.0zM96.1 74.1h1.0v1.0h-1.0zM100.4 73.5h1.0v1.0h-1.0zM96.8 89.6h1.0v1.0h-1.0zM99.4 68.5h1.0v1.0h-1.0zM102.7 96.4h1.0v1.0h-1.0zM104.9 80.7h1.0v1.0h-1.0zM105.5 81.6h1.0v1.0h-1.0zM98.5 85.1h1.0v1.0h-1.0zM105.4 83.3h1.0v1.0h-1.0zM98.9 69.7h1.0v1.0h-1.0zM100.9 71.7h1.0v1.0h-1.0zM99.7 69.6h1.0v1.0h-1.0zM96.6 73.2h1.0v1.0h-1.0zM97.4 71.6h1.0v1.0h-1.0zM104.8 89.1h1.0v1.0h-1.0zM98.7 72.0h1.0v1.0h-1.0zM104.8 79.9h1.0v1.0h-1.0zM102.5 91.9h1.0v1.0h-1.0zM98.2 87.1h1.0v1.0h-1.0zM102.3 77.7h1.0v1.0h-1.0zM99.3 75.6h1.0v1.0h-1.0zM93.1 80.3h1.0v1.0h-1.0zM105.5 89.8h1.0v1.0h-1.0zM106.9 82.6h1.0v1.0h-1.0zM103.9 76.2h1.0v1.0h-1.0zM96.9 73.7h1.0v1.0h-1.0zM102.2 90.2h1.0v1.0h-1.0zM93.9 87.4h1.0v1.0h-1.0zM103.9 89.7h1.0v1.0h-1.0zM94.9 84.1h1.0v1.0h-1.0zM101.4 70.0h1.0v1.0h-1.0zM97.0 96.0h1.0v1.0h-1.0zM97.0 77.1h1.0v1.0h-1.0zM93.8 77.6h1.0v1.0h-1.0zM105.4 85.7h1.0v1.0h-1.0zM96.3 82.7h1.0v1.0h-1.0z" fill="#000" opacity="1.0"/>
<path d="M94.3 131.2h1.0v1.0h-1.0zM86.6 130.0h1.0v1.0h-1.0zM88.2 125.5h1.0v1.0h-1.0zM87.5 124.2h1.0v1.0h-1.0zM94.3 121.1h1.0v1.0h-1.0zM92.7 135.9h1.0v1.0h-1.0zM87.0 126.7h1.0v1.0h-1.0zM91.8 134.8h1.0v1.0h-1.0zM85.1 130.6h1.0v1.0h-1.0zM91.7 135.4h1.0v1.0h-1.0zM91.2 135.4h1.0v1.0h-1.0zM86.7 129.9h1.0v1.0h-1.0zM86.3 125.3h1.0v1.0h-1.0zM85.6 126.2h1.0v1.0h-1.0zM99.4 125.9h1.0v1.0h-1.0zM99.5 132.4h1.0v1.0h-1.0zM94.1 128.2h1.0v1.0h-1.0zM94.0 124.2h1.0v1.0h-1.0zM95.7 128.6h1.0v1.0h-1.0zM83.7 128.2h1.0v1.0h-1.0zM95.6 128.4h1.0v1.0h-1.0zM94.1 128.1h1.0v1.0h-1.0zM89.5 133.1h1.0v1.0h-1.0zM99.1 126.7h1.0v1.0h-1.0zM96.2 123.1h1.0v1.0h-1.0zM98.2 124.5h1.0v1.0h-1.0zM92.3 132.9h1.0v1.0h-1.0zM89.0 128.3h1.0v1.0h-1.0zM97.6 125.5h1.0v1.0h-1.0zM93.9 133.3h1.0v1.0h-1.0zM93.6 124.1h1.0v1.0h-1.0zM89.7 126.7h1.0v1.0h-1.0zM92.2 131.5h1.0v1.0h-1.0zM84.5 127.8h1.0v1.0h-1.0zM93.1 134.6h1.0v1.0h-1.0zM85.3 124.4h1.0v1.0h-1.0zM97.2 127.9h1.0v1.0h-1.0zM98.1 127.9h1.0v1.0h-1.0zM88.2 127.8h1.0v1.0h-1.0zM98.2 131.3h1.0v1.0h-1.0z" fill="#000" opacity="1.0"/>
<path d="M78.4 91 C78.4 79 84 73.6 91 73.6 C98.5 73.6 103.8 80 103.8 92 C103.8 103 101.5 111 98.5 116 C96 119 91 118.5 88.5 114 C83 107 78.4 101 78.4 91 Z" fill="#fff" stroke="#111" stroke-width="0.8"/>
<path d="M79.4 91.2 C79.4 80 84.5 74.8 91 74.8 C98 74.8 103 80.5 103 92 C103 102.5 100.5 110 97.5 114 C95 116.5 91.5 116 89.5 112.5 C84 106 79.4 100.5 79.4 91.2 Z" fill="none" stroke="#333" stroke-width="0.55"/>
<path d="M80.2 91.5 C80.2 81 85 76 91 76 C97.5 76 102.2 81 102.2 92 C102.2 102 99 108 95 110.5 C90 111.5 86 109 84 106.5 C81.5 102.5 80.2 98 80.2 91.5 Z" fill="#b4b4b4" stroke="#222" stroke-width="0.6"/>
<ellipse cx="90.81" cy="91.53" rx="10.28" ry="13.58" fill="none" stroke="#1e1e1e" stroke-width="0.5"/>
<ellipse cx="90.86" cy="91.62" rx="9.36" ry="12.36" fill="none" stroke="#1e1e1e" stroke-width="0.5"/>
<ellipse cx="90.90" cy="91.70" rx="8.44" ry="11.14" fill="none" stroke="#1e1e1e" stroke-width="0.5"/>
<ellipse cx="90.95" cy="91.79" rx="7.52" ry="9.93" fill="none" stroke="#1e1e1e" stroke-width="0.5"/>
<ellipse cx="90.99" cy="91.88" rx="6.59" ry="8.71" fill="none" stroke="#1e1e1e" stroke-width="0.5"/>
<ellipse cx="91.03" cy="91.97" rx="5.67" ry="7.49" fill="none" stroke="#1e1e1e" stroke-width="0.5"/>
<ellipse cx="91.08" cy="92.05" rx="4.75" ry="6.27" fill="none" stroke="#1e1e1e" stroke-width="0.5"/>
<ellipse cx="91.12" cy="92.14" rx="3.83" ry="5.05" fill="none" stroke="#1e1e1e" stroke-width="0.5"/>
<ellipse cx="91.16" cy="92.23" rx="2.90" ry="3.84" fill="none" stroke="#1e1e1e" stroke-width="0.5"/>
<ellipse cx="91.21" cy="92.31" rx="1.98" ry="2.62" fill="none" stroke="#1e1e1e" stroke-width="0.5"/>
<ellipse cx="91.25" cy="92.40" rx="1.06" ry="1.40" fill="none" stroke="#1e1e1e" stroke-width="0.5"/>
<path d="M190.4 79.0h1.0v1.0h-1.0zM180.0 79.2h1.0v1.0h-1.0zM181.9 75.3h1.0v1.0h-1.0zM175.0 96.4h1.0v1.0h-1.0zM202.6 91.9h1.0v1.0h-1.0zM200.4 90.6h1.0v1.0h-1.0zM175.7 95.0h1.0v1.0h-1.0zM191.5 76.4h1.0v1.0h-1.0zM174.2 95.9h1.0v1.0h-1.0zM175.5 92.7h1.0v1.0h-1.0zM202.5 92.3h1.0v1.0h-1.0zM200.3 89.2h1.0v1.0h-1.0zM178.2 80.1h1.0v1.0h-1.0zM191.8 78.8h1.0v1.0h-1.0zM174.8 96.3h1.0v1.0h-1.0zM176.7 95.1h1.0v1.0h-1.0zM175.7 88.2h1.0v1.0h-1.0zM176.0 91.7h1.0v1.0h-1.0zM199.6 80.0h1.0v1.0h-1.0zM202.9 95.7h1.0v1.0h-1.0zM182.1 80.7h1.0v1.0h-1.0zM175.7 92.9h1.0v1.0h-1.0zM182.5 79.7h1.0v1.0h-1.0zM189.4 72.3h1.0v1.0h-1.0zM185.4 76.8h1.0v1.0h-1.0zM176.7 95.5h1.0v1.0h-1.0zM203.3 92.3h1.0v1.0h-1.0zM200.9 94.8h1.0v1.0h-1.0zM202.8 91.2h1.0v1.0h-1.0zM197.6 81.4h1.0v1.0h-1.0zM176.4 89.7h1.0v1.0h-1.0zM201.6 91.5h1.0v1.0h-1.0zM199.0 86.3h1.0v1.0h-1.0zM173.5 92.0h1.0v1.0h-1.0zM178.8 76.7h1.0v1.0h-1.0zM190.4 72.0h1.0v1.0h-1.0zM175.6 92.7h1.0v1.0h-1.0zM176.8 90.5h1.0v1.0h-1.0zM175.6 94.9h1.0v1.0h-1.0zM201.3 88.0h1.0v1.0h-1.0zM180.0 77.9h1.0v1.0h-1.0zM194.7 75.8h1.0v1.0h-1.0zM201.4 84.8h1.0v1.0h-1.0zM200.6 89.7h1.0v1.0h-1.0zM176.7 89.2h1.0v1.0h-1.0zM176.9 84.2h1.0v1.0h-1.0zM173.4 93.6h1.0v1.0h-1.0zM184.7 74.5h1.0v1.0h-1.0zM181.3 83.0h1.0v1.0h-1.0zM176.4 95.1h1.0v1.0h-1.0zM193.0 76.7h1.0v1.0h-1.0zM197.7 77.6h1.0v1.0h-1.0zM176.7 94.0h1.0v1.0h-1.0zM203.5 90.5h1.0v1.0h-1.0zM175.0 93.1h1.0v1.0h-1.0zM177.3 83.1h1.0v1.0h-1.0zM192.2 78.5h1.0v1.0h-1.0zM201.8 93.7h1.0v1.0h-1.0zM202.2 91.7h1.0v1.0h-1.0zM176.1 86.6h1.0v1.0h-1.0zM184.1 77.1h1.0v1.0h-1.0zM202.8 96.5h1.0v1.0h-1.0zM191.1 77.2h1.0v1.0h-1.0zM186.2 75.9h1.0v1.0h-1.0zM181.0 77.6h1.0v1.0h-1.0zM201.2 91.0h1.0v1.0h-1.0zM176.3 96.2h1.0v1.0h-1.0zM174.8 95.6h1.0v1.0h-1.0zM196.4 82.9h1.0v1.0h-1.0zM201.6 92.9h1.0v1.0h-1.0zM179.0 84.7h1.0v1.0h-1.0zM201.4 93.0h1.0v1.0h-1.0zM201.1 90.8h1.0v1.0h-1.0zM188.1 77.5h1.0v1.0h-1.0zM188.3 78.9h1.0v1.0h-1.0zM187.6 72.5h1.0v1.0h-1.0zM178.5 87.4h1.0v1.0h-1.0zM178.8 86.7h1.0v1.0h-1.0zM198.5 80.5h1.0v1.0h-1.0zM186.6 78.0h1.0v1.0h-1.0zM202.0 94.5h1.0v1.0h-1.0zM177.4 81.8h1.0v1.0h-1.0zM175.3 96.8h1.0v1.0h-1.0zM194.4 72.8h1.0v1.0h-1.0zM198.4 87.5h1.0v1.0h-1.0zM174.4 86.6h1.0v1.0h-1.0zM174.5 91.6h1.0v1.0h-1.0zM186.6 77.6h1.0v1.0h-1.0zM189.1 72.6h1.0v1.0h-1.0zM195.5 82.9h1.0v1.0h-1.0zM177.9 88.8h1.0v1.0h-1.0zM176.3 92.1h1.0v1.0h-1.0zM176.9 90.1h1.0v1.0h-1.0zM175.6 86.7h1.0v1.0h-1.0zM186.6 75.5h1.0v1.0h-1.0zM202.1 88.6h1.0v1.0h-1.0zM178.4 86.7h1.0v1.0h-1.0zM194.9 79.9h1.0v1.0h-1.0zM202.9 95.2h1.0v1.0h-1.0zM176.6 81.1h1.0v1.0h-1.0zM201.6 92.0h1.0v1.0h-1.0zM174.7 96.4h1.0v1.0h-1.0zM176.9 91.9h1.0v1.0h-1.0zM201.5 90.1h1.0v1.0h-1.0zM176.6 90.0h1.0v1.0h-1.0zM196.2 80.4h1.0v1.0h-1.0zM177.2 86.3h1.0v1.0h-1.0zM176.2 96.4h1.0v1.0h-1.0zM175.2 89.3h1.0v1.0h-1.0zM200.5 94.0h1.0v1.0h-1.0zM176.6 93.4h1.0v1.0h-1.0zM180.9 76.0h1.0v1.0h-1.0zM198.2 84.5h1.0v1.0h-1.0zM175.9 87.8h1.0v1.0h-1.0zM176.4 92.8h1.0v1.0h-1.0zM174.3 89.1h1.0v1.0h-1.0zM203.7 93.0h1.0v1.0h-1.0zM177.6 86.3h1.0v1.0h-1.0zM201.2 90.5h1.0v1.0h-1.0zM195.5 76.1h1.0v1.0h-1.0zM192.6 74.1h1.0v1.0h-1.0zM184.4 76.7h1.0v1.0h-1.0zM196.8 75.5h1.0v1.0h-1.0zM184.9 73.8h1.0v1.0h-1.0zM181.1 78.2h1.0v1.0h-1.0zM179.0 81.8h1.0v1.0h-1.0zM200.3 92.4h1.0v1.0h-1.0zM174.3 96.9h1.0v1.0h-1.0zM178.7 85.7h1.0v1.0h-1.0zM176.3 85.6h1.0v1.0h-1.0zM182.4 81.6h1.0v1.0h-1.0zM176.4 86.2h1.0v1.0h-1.0zM173.1 96.5h1.0v1.0h-1.0zM201.0 84.1h1.0v1.0h-1.0zM177.6 77.9h1.0v1.0h-1.0zM201.1 90.5h1.0v1.0h-1.0zM200.6 86.9h1.0v1.0h-1.0zM199.1 88.6h1.0v1.0h-1.0zM202.1 94.0h1.0v1.0h-1.0zM188.9 77.5h1.0v1.0h-1.0zM202.8 87.3h1.0v1.0h-1.0zM186.9 73.4h1.0v1.0h-1.0zM177.0 91.5h1.0v1.0h-1.0zM196.1 79.4h1.0v1.0h-1.0zM201.9 95.3h1.0v1.0h-1.0zM196.9 76.0h1.0v1.0h-1.0zM191.5 77.7h1.0v1.0h-1.0zM179.1 85.6h1.0v1.0h-1.0zM193.8 75.7h1.0v1.0h-1.0zM177.4 90.4h1.0v1.0h-1.0z" fill="#000" opacity="0.9"/>
<path d="M192.8 65.5h1.0v1.0h-1.0zM185.0 65.5h1.0v1.0h-1.0zM190.0 65.2h1.0v1.0h-1.0zM184.2 60.1h1.0v1.0h-1.0zM183.9 60.4h1.0v1.0h-1.0zM193.4 66.8h1.0v1.0h-1.0z" fill="#000" opacity="1.0"/>
<path d="M181.8 135.7h1.0v1.0h-1.0zM181.9 124.9h1.0v1.0h-1.0zM196.7 124.0h1.0v1.0h-1.0zM191.8 133.3h1.0v1.0h-1.0zM194.0 132.4h1.0v1.0h-1.0zM189.3 136.7h1.0v1.0h-1.0zM187.8 129.3h1.0v1.0h-1.0zM189.9 127.5h1.0v1.0h-1.0zM187.2 135.3h1.0v1.0h-1.0zM196.2 131.9h1.0v1.0h-1.0zM187.5 126.8h1.0v1.0h-1.0zM186.2 127.4h1.0v1.0h-1.0zM186.0 128.6h1.0v1.0h-1.0zM186.8 134.6h1.0v1.0h-1.0zM180.5 127.0h1.0v1.0h-1.0zM192.4 126.9h1.0v1.0h-1.0zM185.9 131.7h1.0v1.0h-1.0zM187.6 124.1h1.0v1.0h-1.0zM188.8 132.1h1.0v1.0h-1.0zM179.9 133.2h1.0v1.0h-1.0zM179.6 132.3h1.0v1.0h-1.0zM180.9 130.2h1.0v1.0h-1.0zM187.8 134.3h1.0v1.0h-1.0zM187.7 127.3h1.0v1.0h-1.0zM184.2 130.1h1.0v1.0h-1.0zM186.8 133.5h1.0v1.0h-1.0zM190.3 135.4h1.0v1.0h-1.0zM191.7 129.9h1.0v1.0h-1.0zM187.7 132.0h1.0v1.0h-1.0zM192.1 122.4h1.0v1.0h-1.0zM189.9 127.4h1.0v1.0h-1.0zM189.8 133.1h1.0v1.0h-1.0zM178.8 128.5h1.0v1.0h-1.0zM192.8 121.2h1.0v1.0h-1.0zM188.8 129.1h1.0v1.0h-1.0zM185.0 133.7h1.0v1.0h-1.0zM193.0 129.2h1.0v1.0h-1.0zM194.6 135.5h1.0v1.0h-1.0zM189.2 133.4h1.0v1.0h-1.0zM192.3 136.9h1.0v1.0h-1.0zM192.5 132.7h1.0v1.0h-1.0zM188.7 132.7h1.0v1.0h-1.0zM196.3 128.7h1.0v1.0h-1.0zM187.6 124.2h1.0v1.0h-1.0zM198.1 127.6h1.0v1.0h-1.0zM185.6 126.3h1.0v1.0h-1.0zM194.5 131.0h1.0v1.0h-1.0zM178.6 129.8h1.0v1.0h-1.0zM197.1 128.9h1.0v1.0h-1.0zM188.5 138.9h1.0v1.0h-1.0zM187.2 128.3h1.0v1.0h-1.0zM190.7 138.4h1.0v1.0h-1.0zM190.4 121.2h1.0v1.0h-1.0zM187.6 128.4h1.0v1.0h-1.0zM192.1 127.3h1.0v1.0h-1.0zM188.9 122.6h1.0v1.0h-1.0zM181.3 129.5h1.0v1.0h-1.0zM196.1 124.7h1.0v1.0h-1.0zM180.6 134.5h1.0v1.0h-1.0zM190.3 133.3h1.0v1.0h-1.0zM187.5 130.1h1.0v1.0h-1.0zM187.9 129.1h1.0v1.0h-1.0zM196.9 127.3h1.0v1.0h-1.0zM186.5 129.2h1.0v1.0h-1.0zM187.3 137.3h1.0v1.0h-1.0zM187.5 130.8h1.0v1.0h-1.0zM181.6 132.0h1.0v1.0h-1.0zM191.7 132.6h1.0v1.0h-1.0zM180.0 126.2h1.0v1.0h-1.0zM179.3 134.5h1.0v1.0h-1.0zM187.7 137.2h1.0v1.0h-1.0zM196.7 133.5h1.0v1.0h-1.0zM185.0 128.2h1.0v1.0h-1.0zM194.6 135.7h1.0v1.0h-1.0zM192.9 127.8h1.0v1.0h-1.0z" fill="#000" opacity="0.85"/>
<path d="M176.8 104 C176.8 92 180 79.5 188.5 79.5 C196.5 79.5 200.2 90 200.2 104 Z" fill="#fff" stroke="#333" stroke-width="0.7"/>
<path d="M180.5 104 C180.6 94 183 81.8 188.4 81.8 C194 81.8 196.5 93 196.6 104" fill="none" stroke="#222" stroke-width="0.65"/>
<path d="M184.0 95 C184.0 89 185.5 84.2 188.6 84.2 C191.8 84.2 193.6 89 193.6 96 C193.6 99 191 100 189 99 C187 98 184.0 98 184.0 95 Z" fill="none" stroke="#222" stroke-width="0.65"/>
<path d="M178.5 101.5 C182 97.5 186 96.5 188.5 97.5 C192 99 196 99 199 101.5" fill="none" stroke="#333" stroke-width="0.6"/>
<path d="M175.8 110 C175.8 104 180 102.0 188 102.0 C196.5 102.0 200.8 105 200.8 112 C200.8 120 197 125 190 124.4 C182 123.8 175.8 118 175.8 110 Z" fill="#fff" stroke="#111" stroke-width="1.3"/>
<ellipse cx="188.40" cy="112.88" rx="10.94" ry="9.89" fill="none" stroke="#000" stroke-width="0.65" transform="rotate(12 188.40 112.88)"/>
<ellipse cx="188.40" cy="112.63" rx="9.99" ry="9.02" fill="none" stroke="#000" stroke-width="0.65" transform="rotate(12 188.40 112.63)"/>
<ellipse cx="188.40" cy="112.38" rx="9.03" ry="8.16" fill="none" stroke="#000" stroke-width="0.65" transform="rotate(12 188.40 112.38)"/>
<ellipse cx="188.40" cy="112.12" rx="8.07" ry="7.29" fill="none" stroke="#000" stroke-width="0.65" transform="rotate(12 188.40 112.12)"/>
<ellipse cx="188.40" cy="111.87" rx="7.11" ry="6.43" fill="none" stroke="#000" stroke-width="0.65" transform="rotate(12 188.40 111.87)"/>
<ellipse cx="188.40" cy="111.62" rx="6.16" ry="5.56" fill="none" stroke="#000" stroke-width="0.65" transform="rotate(12 188.40 111.62)"/>
<ellipse cx="188.40" cy="111.37" rx="5.20" ry="4.70" fill="none" stroke="#000" stroke-width="0.65" transform="rotate(12 188.40 111.37)"/>
<ellipse cx="188.40" cy="111.12" rx="4.24" ry="3.83" fill="none" stroke="#000" stroke-width="0.65" transform="rotate(12 188.40 111.12)"/>
<ellipse cx="188.40" cy="110.86" rx="3.28" ry="2.97" fill="none" stroke="#000" stroke-width="0.65" transform="rotate(12 188.40 110.86)"/>
<ellipse cx="188.40" cy="110.61" rx="2.33" ry="2.10" fill="none" stroke="#000" stroke-width="0.65" transform="rotate(12 188.40 110.61)"/>
<ellipse cx="188.40" cy="110.36" rx="1.37" ry="1.24" fill="none" stroke="#000" stroke-width="0.65" transform="rotate(12 188.40 110.36)"/>
<ellipse cx="188" cy="110" rx="7" ry="4.2" fill="none" stroke="#111" stroke-width="1.3" transform="rotate(12 188 110)"/>
<path d="M183 110 C186 107 191 106.5 195 109" fill="none" stroke="#eee" stroke-width="1.0"/>
<path d="M289.9 83.0h1.0v1.0h-1.0zM283.3 85.8h1.0v1.0h-1.0zM284.9 91.1h1.0v1.0h-1.0zM289.8 82.3h1.0v1.0h-1.0zM293.8 88.5h1.0v1.0h-1.0zM287.0 85.1h1.0v1.0h-1.0zM296.3 87.6h1.0v1.0h-1.0zM289.4 83.0h1.0v1.0h-1.0zM285.3 89.6h1.0v1.0h-1.0zM288.8 85.9h1.0v1.0h-1.0zM286.8 83.0h1.0v1.0h-1.0zM279.5 88.1h1.0v1.0h-1.0zM282.3 83.6h1.0v1.0h-1.0zM289.8 89.7h1.0v1.0h-1.0zM286.4 90.2h1.0v1.0h-1.0zM288.2 82.0h1.0v1.0h-1.0zM294.9 84.6h1.0v1.0h-1.0zM295.4 86.4h1.0v1.0h-1.0z" fill="#000" opacity="1.0"/>
<path d="M285.9 96.7h1.0v1.0h-1.0zM280.6 99.2h1.0v1.0h-1.0zM294.4 100.6h1.0v1.0h-1.0zM283.4 98.8h1.0v1.0h-1.0zM292.1 99.1h1.0v1.0h-1.0zM280.3 102.0h1.0v1.0h-1.0zM282.1 95.4h1.0v1.0h-1.0zM286.6 97.9h1.0v1.0h-1.0zM283.1 94.1h1.0v1.0h-1.0zM279.3 97.6h1.0v1.0h-1.0zM277.0 100.2h1.0v1.0h-1.0zM289.4 98.1h1.0v1.0h-1.0zM287.2 95.4h1.0v1.0h-1.0zM283.1 99.9h1.0v1.0h-1.0zM283.4 101.7h1.0v1.0h-1.0zM291.9 99.4h1.0v1.0h-1.0zM284.9 95.2h1.0v1.0h-1.0zM285.4 95.1h1.0v1.0h-1.0zM284.7 96.9h1.0v1.0h-1.0zM283.0 100.7h1.0v1.0h-1.0zM281.2 95.6h1.0v1.0h-1.0zM292.8 98.3h1.0v1.0h-1.0zM288.7 96.0h1.0v1.0h-1.0zM288.0 101.1h1.0v1.0h-1.0zM286.2 98.4h1.0v1.0h-1.0zM293.1 99.2h1.0v1.0h-1.0zM292.9 94.5h1.0v1.0h-1.0zM277.3 94.9h1.0v1.0h-1.0zM288.3 95.9h1.0v1.0h-1.0zM277.7 101.2h1.0v1.0h-1.0zM293.5 96.1h1.0v1.0h-1.0zM282.7 95.8h1.0v1.0h-1.0zM290.0 98.7h1.0v1.0h-1.0zM287.0 101.3h1.0v1.0h-1.0zM281.6 94.4h1.0v1.0h-1.0zM286.0 97.5h1.0v1.0h-1.0zM286.5 98.3h1.0v1.0h-1.0zM278.7 101.2h1.0v1.0h-1.0zM276.6 98.4h1.0v1.0h-1.0zM288.0 99.7h1.0v1.0h-1.0zM287.3 95.5h1.0v1.0h-1.0zM285.1 93.9h1.0v1.0h-1.0zM285.6 97.2h1.0v1.0h-1.0zM278.8 101.7h1.0v1.0h-1.0zM283.1 98.9h1.0v1.0h-1.0zM293.5 97.5h1.0v1.0h-1.0zM283.9 94.6h1.0v1.0h-1.0zM282.1 95.7h1.0v1.0h-1.0zM285.3 99.5h1.0v1.0h-1.0zM287.2 101.6h1.0v1.0h-1.0zM287.8 98.0h1.0v1.0h-1.0zM274.6 97.3h1.0v1.0h-1.0zM287.6 93.6h1.0v1.0h-1.0zM285.8 95.9h1.0v1.0h-1.0zM285.5 97.5h1.0v1.0h-1.0zM285.3 97.5h1.0v1.0h-1.0zM287.6 98.2h1.0v1.0h-1.0zM282.4 100.0h1.0v1.0h-1.0zM286.3 98.2h1.0v1.0h-1.0zM294.0 101.2h1.0v1.0h-1.0zM296.7 97.0h1.0v1.0h-1.0zM288.1 98.7h1.0v1.0h-1.0zM286.3 97.4h1.0v1.0h-1.0zM290.8 100.6h1.0v1.0h-1.0zM296.5 96.4h1.0v1.0h-1.0zM288.6 95.7h1.0v1.0h-1.0zM284.9 92.3h1.0v1.0h-1.0zM295.1 94.3h1.0v1.0h-1.0zM286.7 93.0h1.0v1.0h-1.0zM284.3 94.9h1.0v1.0h-1.0zM276.3 95.2h1.0v1.0h-1.0zM285.5 97.4h1.0v1.0h-1.0zM276.3 99.1h1.0v1.0h-1.0zM284.4 94.5h1.0v1.0h-1.0zM294.4 95.7h1.0v1.0h-1.0zM287.4 101.6h1.0v1.0h-1.0zM286.1 97.4h1.0v1.0h-1.0zM291.4 96.4h1.0v1.0h-1.0zM286.2 97.4h1.0v1.0h-1.0zM284.1 99.4h1.0v1.0h-1.0zM287.7 101.4h1.0v1.0h-1.0zM288.3 93.8h1.0v1.0h-1.0zM287.7 97.0h1.0v1.0h-1.0zM284.7 100.1h1.0v1.0h-1.0zM288.4 93.3h1.0v1.0h-1.0zM296.3 97.2h1.0v1.0h-1.0zM277.1 96.7h1.0v1.0h-1.0zM288.8 94.5h1.0v1.0h-1.0zM281.6 93.1h1.0v1.0h-1.0zM287.3 96.4h1.0v1.0h-1.0z" fill="#000" opacity="1.0"/>
<path d="M286.2 99.0h1.0v1.0h-1.0zM281.7 97.7h1.0v1.0h-1.0zM284.3 96.2h1.0v1.0h-1.0zM281.8 99.2h1.0v1.0h-1.0zM278.4 96.5h1.0v1.0h-1.0zM284.5 101.2h1.0v1.0h-1.0zM282.3 101.5h1.0v1.0h-1.0zM282.2 98.3h1.0v1.0h-1.0zM279.7 96.4h1.0v1.0h-1.0zM284.1 97.6h1.0v1.0h-1.0zM279.1 99.1h1.0v1.0h-1.0zM282.6 97.3h1.0v1.0h-1.0zM281.4 98.4h1.0v1.0h-1.0zM281.2 98.4h1.0v1.0h-1.0zM279.9 95.2h1.0v1.0h-1.0zM279.0 100.6h1.0v1.0h-1.0zM280.3 98.7h1.0v1.0h-1.0zM283.1 96.8h1.0v1.0h-1.0zM281.2 98.3h1.0v1.0h-1.0zM282.1 99.4h1.0v1.0h-1.0zM281.1 98.3h1.0v1.0h-1.0zM284.2 98.7h1.0v1.0h-1.0zM276.4 100.5h1.0v1.0h-1.0zM282.4 97.6h1.0v1.0h-1.0zM280.8 97.0h1.0v1.0h-1.0zM281.5 96.0h1.0v1.0h-1.0zM284.5 99.3h1.0v1.0h-1.0zM277.7 99.4h1.0v1.0h-1.0zM276.1 97.6h1.0v1.0h-1.0zM277.6 99.7h1.0v1.0h-1.0zM283.4 96.2h1.0v1.0h-1.0zM281.5 99.2h1.0v1.0h-1.0zM280.1 101.8h1.0v1.0h-1.0zM276.2 100.6h1.0v1.0h-1.0zM286.1 97.9h1.0v1.0h-1.0zM277.2 100.5h1.0v1.0h-1.0zM274.3 98.5h1.0v1.0h-1.0zM276.1 98.5h1.0v1.0h-1.0zM279.1 96.3h1.0v1.0h-1.0zM282.9 100.5h1.0v1.0h-1.0zM276.4 99.6h1.0v1.0h-1.0zM281.3 97.5h1.0v1.0h-1.0zM279.4 99.4h1.0v1.0h-1.0zM284.8 98.0h1.0v1.0h-1.0zM274.5 99.6h1.0v1.0h-1.0zM282.3 95.5h1.0v1.0h-1.0zM279.7 98.5h1.0v1.0h-1.0zM280.3 98.8h1.0v1.0h-1.0zM278.0 99.6h1.0v1.0h-1.0zM274.2 98.9h1.0v1.0h-1.0z" fill="#000" opacity="1.0"/>
<path d="M282.2 132.5h1.0v1.0h-1.0zM288.9 138.0h1.0v1.0h-1.0zM279.7 132.6h1.0v1.0h-1.0zM279.6 133.2h1.0v1.0h-1.0zM282.3 128.4h1.0v1.0h-1.0zM291.8 134.4h1.0v1.0h-1.0zM285.5 138.1h1.0v1.0h-1.0zM277.2 134.4h1.0v1.0h-1.0zM293.7 131.7h1.0v1.0h-1.0zM280.6 129.9h1.0v1.0h-1.0zM291.8 136.8h1.0v1.0h-1.0zM287.3 136.7h1.0v1.0h-1.0zM281.6 131.4h1.0v1.0h-1.0zM290.0 129.3h1.0v1.0h-1.0zM286.5 132.9h1.0v1.0h-1.0zM280.6 133.8h1.0v1.0h-1.0zM278.6 130.6h1.0v1.0h-1.0zM277.4 129.4h1.0v1.0h-1.0zM280.4 134.4h1.0v1.0h-1.0zM285.5 128.1h1.0v1.0h-1.0zM284.4 139.6h1.0v1.0h-1.0zM285.8 134.5h1.0v1.0h-1.0zM276.3 131.4h1.0v1.0h-1.0zM290.9 128.1h1.0v1.0h-1.0zM280.4 130.0h1.0v1.0h-1.0zM284.6 135.3h1.0v1.0h-1.0zM277.1 135.2h1.0v1.0h-1.0zM276.2 130.7h1.0v1.0h-1.0zM287.6 128.4h1.0v1.0h-1.0zM280.5 130.8h1.0v1.0h-1.0zM293.0 129.5h1.0v1.0h-1.0zM289.6 138.9h1.0v1.0h-1.0zM283.1 129.6h1.0v1.0h-1.0zM285.3 128.8h1.0v1.0h-1.0zM283.2 128.6h1.0v1.0h-1.0zM279.0 128.1h1.0v1.0h-1.0zM290.5 130.1h1.0v1.0h-1.0zM279.3 136.7h1.0v1.0h-1.0zM284.3 131.5h1.0v1.0h-1.0zM280.9 132.8h1.0v1.0h-1.0zM283.5 131.1h1.0v1.0h-1.0zM284.2 135.9h1.0v1.0h-1.0zM284.1 137.9h1.0v1.0h-1.0zM290.5 128.9h1.0v1.0h-1.0zM280.4 128.3h1.0v1.0h-1.0zM280.8 135.7h1.0v1.0h-1.0zM283.2 130.8h1.0v1.0h-1.0zM285.7 126.3h1.0v1.0h-1.0zM286.9 132.1h1.0v1.0h-1.0zM289.0 131.6h1.0v1.0h-1.0zM290.6 136.8h1.0v1.0h-1.0zM283.5 135.1h1.0v1.0h-1.0zM280.1 130.0h1.0v1.0h-1.0zM279.0 131.9h1.0v1.0h-1.0zM279.1 129.0h1.0v1.0h-1.0zM284.0 127.4h1.0v1.0h-1.0zM288.5 129.1h1.0v1.0h-1.0zM283.8 131.5h1.0v1.0h-1.0zM290.9 135.1h1.0v1.0h-1.0zM283.7 130.3h1.0v1.0h-1.0z" fill="#000" opacity="0.85"/>
<path d="M275.5 122.0 C279 124.5 292 124.5 296.0 122.0" fill="none" stroke="#222" stroke-width="0.55"/>
<path d="M276.1 124.1 C280 126.6 291 126.6 295.4 124.1" fill="none" stroke="#222" stroke-width="0.55"/>
<path d="M276.7 126.2 C281 128.7 290 128.7 294.8 126.2" fill="none" stroke="#222" stroke-width="0.55"/>
<path d="M277.3 128.3 C282 130.8 289 130.8 294.2 128.3" fill="none" stroke="#222" stroke-width="0.55"/>
<path d="M277.9 130.4 C283 132.9 288 132.9 293.6 130.4" fill="none" stroke="#222" stroke-width="0.55"/>
<path d="M278.5 132.5 C284 135.0 287 135.0 293.0 132.5" fill="none" stroke="#222" stroke-width="0.55"/>
<path d="M279.1 134.6 C285 137.1 286 137.1 292.4 134.6" fill="none" stroke="#222" stroke-width="0.55"/>
<ellipse cx="285.5" cy="113.3" rx="12.7" ry="10.8" fill="#fff" stroke="#111" stroke-width="0.9"/>
<ellipse cx="285.50" cy="113.16" rx="11.25" ry="9.60" fill="none" stroke="#000" stroke-width="0.65"/>
<ellipse cx="285.50" cy="112.78" rx="10.27" ry="8.76" fill="none" stroke="#000" stroke-width="0.65"/>
<ellipse cx="285.50" cy="112.40" rx="9.28" ry="7.92" fill="none" stroke="#000" stroke-width="0.65"/>
<ellipse cx="285.50" cy="112.02" rx="8.29" ry="7.08" fill="none" stroke="#000" stroke-width="0.65"/>
<ellipse cx="285.50" cy="111.63" rx="7.31" ry="6.24" fill="none" stroke="#000" stroke-width="0.65"/>
<ellipse cx="285.50" cy="111.25" rx="6.32" ry="5.40" fill="none" stroke="#000" stroke-width="0.65"/>
<ellipse cx="285.50" cy="110.87" rx="5.34" ry="4.55" fill="none" stroke="#000" stroke-width="0.65"/>
<ellipse cx="285.50" cy="110.49" rx="4.35" ry="3.71" fill="none" stroke="#000" stroke-width="0.65"/>
<ellipse cx="285.50" cy="110.11" rx="3.36" ry="2.87" fill="none" stroke="#000" stroke-width="0.65"/>
<ellipse cx="285.50" cy="109.72" rx="2.38" ry="2.03" fill="none" stroke="#000" stroke-width="0.65"/>
<ellipse cx="285.50" cy="109.34" rx="1.39" ry="1.19" fill="none" stroke="#000" stroke-width="0.65"/>
<ellipse cx="286.5" cy="109.2" rx="5.5" ry="2.8" fill="none" stroke="#000" stroke-width="1.5"/>
<ellipse cx="286.8" cy="109.4" rx="2.5" ry="1.1" fill="#eee"/>
<path d="M397.6 97.6h1.0v1.0h-1.0zM371.4 101.7h1.0v1.0h-1.0zM397.3 98.6h1.0v1.0h-1.0zM384.2 131.5h1.0v1.0h-1.0zM373.5 113.9h1.0v1.0h-1.0zM398.6 116.4h1.0v1.0h-1.0zM371.5 106.0h1.0v1.0h-1.0zM385.6 137.5h1.0v1.0h-1.0zM398.2 111.8h1.0v1.0h-1.0zM398.2 107.0h1.0v1.0h-1.0zM373.3 122.9h1.0v1.0h-1.0zM371.0 106.5h1.0v1.0h-1.0zM397.5 103.4h1.0v1.0h-1.0zM397.9 99.9h1.0v1.0h-1.0zM397.5 104.2h1.0v1.0h-1.0zM373.0 114.4h1.0v1.0h-1.0zM372.9 111.6h1.0v1.0h-1.0zM371.5 103.1h1.0v1.0h-1.0zM393.8 121.9h1.0v1.0h-1.0zM371.6 94.3h1.0v1.0h-1.0zM382.8 73.2h1.0v1.0h-1.0zM392.1 133.1h1.0v1.0h-1.0zM396.4 111.9h1.0v1.0h-1.0zM372.0 108.2h1.0v1.0h-1.0zM392.1 131.3h1.0v1.0h-1.0zM376.7 123.8h1.0v1.0h-1.0zM373.0 91.5h1.0v1.0h-1.0zM372.2 106.7h1.0v1.0h-1.0zM371.1 97.3h1.0v1.0h-1.0zM398.3 83.0h1.0v1.0h-1.0zM397.1 111.8h1.0v1.0h-1.0zM374.7 84.2h1.0v1.0h-1.0zM398.1 96.0h1.0v1.0h-1.0zM395.4 89.4h1.0v1.0h-1.0zM371.9 111.6h1.0v1.0h-1.0zM395.3 83.4h1.0v1.0h-1.0zM397.6 84.9h1.0v1.0h-1.0zM371.5 108.9h1.0v1.0h-1.0zM371.9 99.7h1.0v1.0h-1.0zM399.1 90.3h1.0v1.0h-1.0zM396.5 91.4h1.0v1.0h-1.0zM388.2 79.6h1.0v1.0h-1.0zM371.6 101.0h1.0v1.0h-1.0zM371.5 100.6h1.0v1.0h-1.0zM371.6 96.8h1.0v1.0h-1.0zM386.3 69.2h1.0v1.0h-1.0zM380.5 123.6h1.0v1.0h-1.0zM386.5 126.2h1.0v1.0h-1.0zM371.8 107.5h1.0v1.0h-1.0zM388.1 62.5h1.0v1.0h-1.0zM382.8 125.8h1.0v1.0h-1.0zM371.9 99.5h1.0v1.0h-1.0zM373.9 89.0h1.0v1.0h-1.0zM371.8 92.5h1.0v1.0h-1.0zM371.2 113.0h1.0v1.0h-1.0zM377.1 119.0h1.0v1.0h-1.0zM396.5 110.5h1.0v1.0h-1.0zM382.0 67.8h1.0v1.0h-1.0zM372.3 117.0h1.0v1.0h-1.0zM394.2 117.0h1.0v1.0h-1.0zM371.7 94.8h1.0v1.0h-1.0zM390.4 78.2h1.0v1.0h-1.0zM398.1 91.3h1.0v1.0h-1.0zM375.7 79.1h1.0v1.0h-1.0zM390.9 126.9h1.0v1.0h-1.0zM396.8 96.4h1.0v1.0h-1.0zM375.2 117.9h1.0v1.0h-1.0zM383.5 134.1h1.0v1.0h-1.0zM374.3 87.3h1.0v1.0h-1.0zM376.0 72.2h1.0v1.0h-1.0zM396.7 106.3h1.0v1.0h-1.0zM371.3 91.2h1.0v1.0h-1.0zM371.5 96.8h1.0v1.0h-1.0zM371.9 109.4h1.0v1.0h-1.0zM398.2 92.6h1.0v1.0h-1.0zM383.8 72.7h1.0v1.0h-1.0zM398.4 88.5h1.0v1.0h-1.0zM371.6 100.3h1.0v1.0h-1.0zM375.3 129.1h1.0v1.0h-1.0zM374.0 88.4h1.0v1.0h-1.0zM371.5 99.3h1.0v1.0h-1.0zM372.5 92.4h1.0v1.0h-1.0zM397.6 92.1h1.0v1.0h-1.0zM393.8 83.7h1.0v1.0h-1.0zM397.5 89.9h1.0v1.0h-1.0zM371.6 97.2h1.0v1.0h-1.0zM398.4 95.7h1.0v1.0h-1.0zM371.6 98.2h1.0v1.0h-1.0zM371.8 104.5h1.0v1.0h-1.0zM371.9 105.5h1.0v1.0h-1.0zM397.4 107.8h1.0v1.0h-1.0zM399.0 103.5h1.0v1.0h-1.0zM399.4 111.1h1.0v1.0h-1.0zM376.2 119.5h1.0v1.0h-1.0zM371.8 96.9h1.0v1.0h-1.0zM380.5 76.9h1.0v1.0h-1.0zM396.6 94.5h1.0v1.0h-1.0zM399.7 106.7h1.0v1.0h-1.0zM376.6 81.7h1.0v1.0h-1.0zM373.6 87.4h1.0v1.0h-1.0zM371.7 100.3h1.0v1.0h-1.0zM371.2 97.6h1.0v1.0h-1.0zM394.8 86.0h1.0v1.0h-1.0zM371.6 94.9h1.0v1.0h-1.0zM396.8 88.5h1.0v1.0h-1.0zM398.6 84.9h1.0v1.0h-1.0zM372.2 109.0h1.0v1.0h-1.0zM398.6 98.2h1.0v1.0h-1.0zM371.0 98.4h1.0v1.0h-1.0zM372.2 91.5h1.0v1.0h-1.0zM374.6 85.8h1.0v1.0h-1.0zM373.4 111.7h1.0v1.0h-1.0zM378.5 69.1h1.0v1.0h-1.0zM381.2 62.9h1.0v1.0h-1.0zM385.3 78.1h1.0v1.0h-1.0zM373.7 123.4h1.0v1.0h-1.0zM399.0 112.7h1.0v1.0h-1.0zM390.7 80.6h1.0v1.0h-1.0zM391.8 129.0h1.0v1.0h-1.0zM374.7 87.0h1.0v1.0h-1.0zM371.8 98.6h1.0v1.0h-1.0zM396.5 86.2h1.0v1.0h-1.0zM398.0 102.1h1.0v1.0h-1.0zM400.1 102.0h1.0v1.0h-1.0zM398.2 89.2h1.0v1.0h-1.0zM400.2 101.2h1.0v1.0h-1.0zM381.8 131.2h1.0v1.0h-1.0zM387.0 71.4h1.0v1.0h-1.0zM396.3 111.5h1.0v1.0h-1.0zM381.8 78.4h1.0v1.0h-1.0zM371.5 113.7h1.0v1.0h-1.0zM372.5 108.7h1.0v1.0h-1.0zM374.0 86.5h1.0v1.0h-1.0zM390.5 77.5h1.0v1.0h-1.0zM396.4 79.0h1.0v1.0h-1.0zM394.4 121.3h1.0v1.0h-1.0zM372.1 105.4h1.0v1.0h-1.0zM397.2 93.2h1.0v1.0h-1.0zM373.1 91.4h1.0v1.0h-1.0zM400.3 95.9h1.0v1.0h-1.0zM376.6 83.0h1.0v1.0h-1.0zM374.3 84.2h1.0v1.0h-1.0zM371.8 103.2h1.0v1.0h-1.0zM397.4 119.2h1.0v1.0h-1.0zM371.6 91.1h1.0v1.0h-1.0zM382.7 74.2h1.0v1.0h-1.0zM371.8 96.9h1.0v1.0h-1.0zM374.0 85.5h1.0v1.0h-1.0zM389.6 77.7h1.0v1.0h-1.0zM373.3 111.3h1.0v1.0h-1.0zM397.4 104.2h1.0v1.0h-1.0zM398.1 102.4h1.0v1.0h-1.0zM371.6 113.2h1.0v1.0h-1.0zM400.3 105.3h1.0v1.0h-1.0zM399.1 110.9h1.0v1.0h-1.0zM373.9 114.2h1.0v1.0h-1.0zM372.6 91.1h1.0v1.0h-1.0zM397.3 102.3h1.0v1.0h-1.0zM374.4 79.8h1.0v1.0h-1.0zM397.6 100.5h1.0v1.0h-1.0zM387.6 75.6h1.0v1.0h-1.0zM371.7 99.7h1.0v1.0h-1.0zM371.1 109.3h1.0v1.0h-1.0zM384.2 128.0h1.0v1.0h-1.0zM397.5 92.6h1.0v1.0h-1.0zM393.7 79.1h1.0v1.0h-1.0zM373.0 116.9h1.0v1.0h-1.0zM374.0 86.0h1.0v1.0h-1.0zM397.2 100.8h1.0v1.0h-1.0zM397.0 83.7h1.0v1.0h-1.0zM378.2 76.6h1.0v1.0h-1.0zM384.3 78.6h1.0v1.0h-1.0zM373.3 80.5h1.0v1.0h-1.0zM371.5 109.5h1.0v1.0h-1.0zM376.6 78.7h1.0v1.0h-1.0zM388.0 73.4h1.0v1.0h-1.0zM397.1 112.9h1.0v1.0h-1.0zM385.0 77.4h1.0v1.0h-1.0zM370.9 104.4h1.0v1.0h-1.0zM399.9 102.3h1.0v1.0h-1.0zM373.9 115.4h1.0v1.0h-1.0zM376.6 77.4h1.0v1.0h-1.0zM379.4 122.3h1.0v1.0h-1.0zM371.0 108.3h1.0v1.0h-1.0zM399.2 100.5h1.0v1.0h-1.0zM375.9 76.6h1.0v1.0h-1.0zM396.7 93.7h1.0v1.0h-1.0zM397.7 118.0h1.0v1.0h-1.0zM398.4 102.7h1.0v1.0h-1.0zM371.2 110.3h1.0v1.0h-1.0zM373.3 89.8h1.0v1.0h-1.0zM398.0 106.8h1.0v1.0h-1.0zM371.6 96.6h1.0v1.0h-1.0zM372.5 94.3h1.0v1.0h-1.0zM372.3 115.9h1.0v1.0h-1.0zM379.2 122.4h1.0v1.0h-1.0zM396.2 125.3h1.0v1.0h-1.0zM396.4 88.2h1.0v1.0h-1.0zM375.1 118.3h1.0v1.0h-1.0zM399.1 87.7h1.0v1.0h-1.0zM399.7 96.3h1.0v1.0h-1.0zM376.3 83.6h1.0v1.0h-1.0zM397.1 96.2h1.0v1.0h-1.0zM382.7 74.9h1.0v1.0h-1.0zM398.9 104.4h1.0v1.0h-1.0zM383.4 136.5h1.0v1.0h-1.0zM394.7 122.9h1.0v1.0h-1.0zM372.2 106.2h1.0v1.0h-1.0zM379.8 124.3h1.0v1.0h-1.0zM389.6 68.6h1.0v1.0h-1.0zM397.0 95.6h1.0v1.0h-1.0zM390.3 124.5h1.0v1.0h-1.0zM376.1 118.7h1.0v1.0h-1.0zM384.9 78.8h1.0v1.0h-1.0zM371.9 98.0h1.0v1.0h-1.0zM376.4 120.1h1.0v1.0h-1.0zM370.7 104.3h1.0v1.0h-1.0zM382.2 73.9h1.0v1.0h-1.0zM397.6 100.2h1.0v1.0h-1.0zM393.9 123.9h1.0v1.0h-1.0zM388.6 68.9h1.0v1.0h-1.0zM371.0 100.4h1.0v1.0h-1.0zM372.9 121.2h1.0v1.0h-1.0zM382.4 66.2h1.0v1.0h-1.0zM370.7 97.5h1.0v1.0h-1.0zM370.6 103.7h1.0v1.0h-1.0zM370.7 106.1h1.0v1.0h-1.0zM375.5 121.0h1.0v1.0h-1.0zM371.5 95.8h1.0v1.0h-1.0zM397.4 81.6h1.0v1.0h-1.0zM394.8 123.5h1.0v1.0h-1.0zM371.6 98.9h1.0v1.0h-1.0zM399.0 113.9h1.0v1.0h-1.0zM399.3 100.0h1.0v1.0h-1.0zM372.3 95.2h1.0v1.0h-1.0zM375.8 119.3h1.0v1.0h-1.0zM397.3 108.8h1.0v1.0h-1.0zM373.2 113.6h1.0v1.0h-1.0zM396.9 106.7h1.0v1.0h-1.0zM398.4 96.6h1.0v1.0h-1.0zM387.4 127.7h1.0v1.0h-1.0zM373.1 114.2h1.0v1.0h-1.0zM395.3 123.0h1.0v1.0h-1.0zM398.6 94.7h1.0v1.0h-1.0zM399.6 97.1h1.0v1.0h-1.0zM371.4 97.9h1.0v1.0h-1.0zM376.6 80.6h1.0v1.0h-1.0zM397.8 107.9h1.0v1.0h-1.0zM394.7 78.2h1.0v1.0h-1.0zM399.6 104.9h1.0v1.0h-1.0zM398.3 105.2h1.0v1.0h-1.0zM393.5 119.3h1.0v1.0h-1.0zM388.0 130.2h1.0v1.0h-1.0zM376.8 70.4h1.0v1.0h-1.0zM371.9 100.5h1.0v1.0h-1.0zM397.1 104.1h1.0v1.0h-1.0zM395.7 112.6h1.0v1.0h-1.0zM378.4 121.3h1.0v1.0h-1.0zM395.4 86.1h1.0v1.0h-1.0zM370.9 102.8h1.0v1.0h-1.0zM394.0 121.3h1.0v1.0h-1.0zM398.2 104.6h1.0v1.0h-1.0zM398.3 94.3h1.0v1.0h-1.0zM376.4 124.7h1.0v1.0h-1.0zM371.4 100.8h1.0v1.0h-1.0zM372.4 87.1h1.0v1.0h-1.0zM399.6 88.6h1.0v1.0h-1.0zM399.5 97.3h1.0v1.0h-1.0zM374.3 78.4h1.0v1.0h-1.0zM391.7 120.7h1.0v1.0h-1.0zM395.3 84.6h1.0v1.0h-1.0zM399.3 102.9h1.0v1.0h-1.0zM395.8 113.6h1.0v1.0h-1.0zM396.9 94.3h1.0v1.0h-1.0zM393.7 83.4h1.0v1.0h-1.0zM391.1 77.8h1.0v1.0h-1.0zM371.3 95.6h1.0v1.0h-1.0zM379.9 78.6h1.0v1.0h-1.0zM375.6 84.5h1.0v1.0h-1.0zM385.6 134.2h1.0v1.0h-1.0zM395.4 116.6h1.0v1.0h-1.0zM397.5 112.3h1.0v1.0h-1.0zM393.8 119.4h1.0v1.0h-1.0zM398.2 99.2h1.0v1.0h-1.0zM371.9 100.9h1.0v1.0h-1.0zM382.7 123.6h1.0v1.0h-1.0zM373.2 90.4h1.0v1.0h-1.0zM393.0 118.3h1.0v1.0h-1.0zM382.6 69.4h1.0v1.0h-1.0zM378.5 123.1h1.0v1.0h-1.0zM380.0 128.0h1.0v1.0h-1.0zM372.2 95.3h1.0v1.0h-1.0zM396.3 118.0h1.0v1.0h-1.0zM379.1 129.3h1.0v1.0h-1.0zM393.0 117.9h1.0v1.0h-1.0zM399.5 108.1h1.0v1.0h-1.0zM372.0 98.1h1.0v1.0h-1.0zM373.0 115.6h1.0v1.0h-1.0zM390.7 132.3h1.0v1.0h-1.0zM398.5 101.4h1.0v1.0h-1.0zM372.2 94.8h1.0v1.0h-1.0zM398.5 99.9h1.0v1.0h-1.0zM397.8 115.3h1.0v1.0h-1.0zM399.0 103.6h1.0v1.0h-1.0zM395.8 81.8h1.0v1.0h-1.0zM397.1 102.8h1.0v1.0h-1.0zM396.6 79.1h1.0v1.0h-1.0zM380.2 135.6h1.0v1.0h-1.0zM392.2 82.8h1.0v1.0h-1.0zM395.8 91.1h1.0v1.0h-1.0zM375.8 118.2h1.0v1.0h-1.0zM390.9 125.9h1.0v1.0h-1.0zM400.2 105.7h1.0v1.0h-1.0zM391.5 128.4h1.0v1.0h-1.0zM372.2 117.5h1.0v1.0h-1.0zM371.6 95.9h1.0v1.0h-1.0zM386.5 71.2h1.0v1.0h-1.0zM372.0 105.0h1.0v1.0h-1.0zM392.7 75.5h1.0v1.0h-1.0zM370.6 104.2h1.0v1.0h-1.0zM371.0 104.1h1.0v1.0h-1.0zM394.6 117.8h1.0v1.0h-1.0zM373.4 89.0h1.0v1.0h-1.0zM400.5 100.6h1.0v1.0h-1.0zM372.7 85.8h1.0v1.0h-1.0zM380.3 132.4h1.0v1.0h-1.0zM396.3 86.9h1.0v1.0h-1.0zM371.4 95.3h1.0v1.0h-1.0zM384.6 123.4h1.0v1.0h-1.0zM393.9 121.8h1.0v1.0h-1.0zM372.0 86.5h1.0v1.0h-1.0zM381.9 124.0h1.0v1.0h-1.0zM372.3 107.7h1.0v1.0h-1.0zM382.9 128.8h1.0v1.0h-1.0zM376.7 83.0h1.0v1.0h-1.0zM394.4 120.0h1.0v1.0h-1.0zM371.8 99.3h1.0v1.0h-1.0zM373.8 84.1h1.0v1.0h-1.0zM400.2 97.3h1.0v1.0h-1.0zM373.6 89.7h1.0v1.0h-1.0zM371.7 99.2h1.0v1.0h-1.0zM380.6 122.5h1.0v1.0h-1.0zM375.6 78.0h1.0v1.0h-1.0zM380.9 124.1h1.0v1.0h-1.0zM398.6 100.3h1.0v1.0h-1.0zM377.5 80.7h1.0v1.0h-1.0zM399.0 95.5h1.0v1.0h-1.0zM371.8 100.3h1.0v1.0h-1.0zM372.2 106.2h1.0v1.0h-1.0zM391.9 129.9h1.0v1.0h-1.0zM396.3 110.9h1.0v1.0h-1.0zM372.5 119.6h1.0v1.0h-1.0zM394.8 118.3h1.0v1.0h-1.0zM372.0 98.4h1.0v1.0h-1.0zM372.2 95.9h1.0v1.0h-1.0zM375.9 119.4h1.0v1.0h-1.0zM398.2 100.8h1.0v1.0h-1.0zM377.7 122.3h1.0v1.0h-1.0zM378.0 121.0h1.0v1.0h-1.0zM375.0 122.6h1.0v1.0h-1.0zM374.1 114.8h1.0v1.0h-1.0zM399.4 104.7h1.0v1.0h-1.0zM377.9 122.0h1.0v1.0h-1.0zM398.3 81.6h1.0v1.0h-1.0zM372.1 96.9h1.0v1.0h-1.0zM396.5 81.0h1.0v1.0h-1.0zM397.7 102.4h1.0v1.0h-1.0zM395.1 83.1h1.0v1.0h-1.0zM396.6 125.4h1.0v1.0h-1.0zM389.7 122.6h1.0v1.0h-1.0zM374.5 73.4h1.0v1.0h-1.0zM379.0 81.0h1.0v1.0h-1.0zM397.5 102.7h1.0v1.0h-1.0zM372.6 80.9h1.0v1.0h-1.0zM397.9 112.9h1.0v1.0h-1.0zM376.1 84.4h1.0v1.0h-1.0zM396.9 92.3h1.0v1.0h-1.0zM372.0 113.6h1.0v1.0h-1.0zM371.3 97.3h1.0v1.0h-1.0zM398.6 106.4h1.0v1.0h-1.0zM397.4 118.6h1.0v1.0h-1.0zM389.1 70.9h1.0v1.0h-1.0zM371.8 84.7h1.0v1.0h-1.0zM395.8 80.2h1.0v1.0h-1.0zM374.1 113.6h1.0v1.0h-1.0zM397.2 101.0h1.0v1.0h-1.0zM398.6 104.9h1.0v1.0h-1.0zM398.2 100.3h1.0v1.0h-1.0zM389.8 121.2h1.0v1.0h-1.0zM394.8 117.5h1.0v1.0h-1.0zM374.2 115.4h1.0v1.0h-1.0zM399.4 86.8h1.0v1.0h-1.0zM397.4 99.2h1.0v1.0h-1.0zM377.7 81.3h1.0v1.0h-1.0zM371.5 104.2h1.0v1.0h-1.0zM374.7 123.6h1.0v1.0h-1.0zM390.5 132.0h1.0v1.0h-1.0zM387.6 70.3h1.0v1.0h-1.0zM396.8 107.4h1.0v1.0h-1.0zM395.1 72.2h1.0v1.0h-1.0zM386.5 131.8h1.0v1.0h-1.0zM386.3 64.4h1.0v1.0h-1.0zM395.5 113.6h1.0v1.0h-1.0zM398.9 107.0h1.0v1.0h-1.0zM372.7 115.6h1.0v1.0h-1.0zM395.7 119.9h1.0v1.0h-1.0zM380.8 126.9h1.0v1.0h-1.0zM371.0 92.4h1.0v1.0h-1.0zM394.2 126.2h1.0v1.0h-1.0zM397.2 105.2h1.0v1.0h-1.0zM377.8 81.8h1.0v1.0h-1.0zM397.5 80.9h1.0v1.0h-1.0zM390.2 130.3h1.0v1.0h-1.0zM371.9 83.9h1.0v1.0h-1.0zM371.6 101.4h1.0v1.0h-1.0zM396.2 89.8h1.0v1.0h-1.0zM397.3 93.3h1.0v1.0h-1.0zM371.3 109.7h1.0v1.0h-1.0zM385.5 77.2h1.0v1.0h-1.0zM372.2 82.0h1.0v1.0h-1.0zM372.0 110.0h1.0v1.0h-1.0zM373.1 84.0h1.0v1.0h-1.0zM372.6 110.8h1.0v1.0h-1.0zM394.8 121.9h1.0v1.0h-1.0zM373.7 120.6h1.0v1.0h-1.0zM399.3 105.2h1.0v1.0h-1.0zM397.1 121.0h1.0v1.0h-1.0zM393.7 82.2h1.0v1.0h-1.0zM396.6 109.7h1.0v1.0h-1.0zM393.1 132.6h1.0v1.0h-1.0zM391.4 82.4h1.0v1.0h-1.0zM398.6 101.8h1.0v1.0h-1.0zM371.4 104.8h1.0v1.0h-1.0zM397.2 81.3h1.0v1.0h-1.0zM398.8 117.2h1.0v1.0h-1.0zM371.5 104.4h1.0v1.0h-1.0zM394.9 115.5h1.0v1.0h-1.0zM392.7 120.3h1.0v1.0h-1.0zM371.8 97.4h1.0v1.0h-1.0zM381.8 123.4h1.0v1.0h-1.0zM399.8 108.1h1.0v1.0h-1.0zM371.7 106.2h1.0v1.0h-1.0zM399.0 116.6h1.0v1.0h-1.0zM399.5 102.2h1.0v1.0h-1.0zM397.5 104.6h1.0v1.0h-1.0zM371.4 102.1h1.0v1.0h-1.0zM377.2 76.4h1.0v1.0h-1.0zM378.3 81.3h1.0v1.0h-1.0zM378.5 122.6h1.0v1.0h-1.0zM371.5 102.5h1.0v1.0h-1.0zM396.2 110.4h1.0v1.0h-1.0zM396.8 106.0h1.0v1.0h-1.0zM371.9 84.3h1.0v1.0h-1.0zM372.5 93.0h1.0v1.0h-1.0zM372.3 90.8h1.0v1.0h-1.0zM378.2 130.8h1.0v1.0h-1.0zM382.5 125.9h1.0v1.0h-1.0zM397.4 104.8h1.0v1.0h-1.0zM397.8 93.9h1.0v1.0h-1.0zM380.9 73.6h1.0v1.0h-1.0zM382.0 126.4h1.0v1.0h-1.0zM371.6 100.3h1.0v1.0h-1.0zM371.9 99.8h1.0v1.0h-1.0zM373.1 110.8h1.0v1.0h-1.0zM371.4 102.8h1.0v1.0h-1.0zM399.4 91.7h1.0v1.0h-1.0zM397.2 90.9h1.0v1.0h-1.0zM376.4 128.8h1.0v1.0h-1.0zM396.6 112.2h1.0v1.0h-1.0zM399.4 107.1h1.0v1.0h-1.0zM383.3 62.9h1.0v1.0h-1.0zM395.0 125.7h1.0v1.0h-1.0zM376.6 77.9h1.0v1.0h-1.0zM371.0 106.0h1.0v1.0h-1.0zM370.6 103.4h1.0v1.0h-1.0zM397.5 94.4h1.0v1.0h-1.0zM371.6 97.8h1.0v1.0h-1.0zM399.2 90.5h1.0v1.0h-1.0zM372.4 109.7h1.0v1.0h-1.0zM375.0 122.2h1.0v1.0h-1.0zM373.9 83.0h1.0v1.0h-1.0zM371.1 99.2h1.0v1.0h-1.0zM398.3 101.5h1.0v1.0h-1.0zM375.5 76.7h1.0v1.0h-1.0zM392.6 82.2h1.0v1.0h-1.0zM400.0 93.3h1.0v1.0h-1.0zM371.7 88.9h1.0v1.0h-1.0zM391.4 120.9h1.0v1.0h-1.0zM390.0 127.3h1.0v1.0h-1.0zM396.9 91.2h1.0v1.0h-1.0zM399.4 94.3h1.0v1.0h-1.0zM397.0 104.6h1.0v1.0h-1.0zM398.4 100.8h1.0v1.0h-1.0zM390.6 67.5h1.0v1.0h-1.0zM377.9 119.9h1.0v1.0h-1.0zM398.7 85.2h1.0v1.0h-1.0zM371.8 110.3h1.0v1.0h-1.0zM400.2 102.1h1.0v1.0h-1.0zM371.1 89.8h1.0v1.0h-1.0zM376.4 81.0h1.0v1.0h-1.0zM394.1 121.3h1.0v1.0h-1.0zM396.7 87.0h1.0v1.0h-1.0zM371.8 97.8h1.0v1.0h-1.0zM395.1 115.0h1.0v1.0h-1.0zM376.8 122.8h1.0v1.0h-1.0zM397.4 96.1h1.0v1.0h-1.0zM388.8 132.1h1.0v1.0h-1.0zM397.2 95.8h1.0v1.0h-1.0zM377.5 123.2h1.0v1.0h-1.0zM396.9 106.0h1.0v1.0h-1.0zM371.9 96.8h1.0v1.0h-1.0zM387.9 134.0h1.0v1.0h-1.0zM371.3 102.5h1.0v1.0h-1.0zM373.0 83.9h1.0v1.0h-1.0zM400.0 92.6h1.0v1.0h-1.0zM398.3 112.7h1.0v1.0h-1.0zM397.2 103.0h1.0v1.0h-1.0zM383.6 124.0h1.0v1.0h-1.0zM394.8 115.7h1.0v1.0h-1.0zM394.8 76.0h1.0v1.0h-1.0zM371.3 100.9h1.0v1.0h-1.0zM384.1 70.3h1.0v1.0h-1.0zM397.8 108.0h1.0v1.0h-1.0zM391.7 124.4h1.0v1.0h-1.0zM397.4 99.2h1.0v1.0h-1.0zM374.9 120.6h1.0v1.0h-1.0zM374.5 85.4h1.0v1.0h-1.0zM372.2 110.5h1.0v1.0h-1.0zM396.7 95.2h1.0v1.0h-1.0zM397.6 90.2h1.0v1.0h-1.0zM397.4 93.5h1.0v1.0h-1.0zM374.6 87.3h1.0v1.0h-1.0zM389.5 129.8h1.0v1.0h-1.0zM374.6 119.1h1.0v1.0h-1.0zM398.6 99.5h1.0v1.0h-1.0zM374.3 82.7h1.0v1.0h-1.0zM384.0 138.7h1.0v1.0h-1.0zM373.4 111.4h1.0v1.0h-1.0zM371.9 107.4h1.0v1.0h-1.0zM391.1 124.4h1.0v1.0h-1.0zM399.9 108.6h1.0v1.0h-1.0zM371.7 99.3h1.0v1.0h-1.0zM371.4 96.9h1.0v1.0h-1.0zM371.6 111.8h1.0v1.0h-1.0zM370.7 105.0h1.0v1.0h-1.0zM387.8 69.1h1.0v1.0h-1.0zM396.1 120.0h1.0v1.0h-1.0zM399.6 99.0h1.0v1.0h-1.0zM397.5 104.7h1.0v1.0h-1.0zM399.0 101.2h1.0v1.0h-1.0zM398.1 89.3h1.0v1.0h-1.0zM374.1 83.7h1.0v1.0h-1.0zM380.9 72.5h1.0v1.0h-1.0zM390.9 80.8h1.0v1.0h-1.0zM371.2 103.5h1.0v1.0h-1.0zM398.3 107.3h1.0v1.0h-1.0zM396.6 93.9h1.0v1.0h-1.0zM381.3 68.7h1.0v1.0h-1.0zM399.5 88.5h1.0v1.0h-1.0zM372.8 87.3h1.0v1.0h-1.0zM371.5 103.1h1.0v1.0h-1.0zM372.5 92.0h1.0v1.0h-1.0zM392.2 76.4h1.0v1.0h-1.0zM371.6 106.6h1.0v1.0h-1.0zM376.8 71.6h1.0v1.0h-1.0zM394.7 77.5h1.0v1.0h-1.0zM385.3 123.2h1.0v1.0h-1.0zM395.7 111.6h1.0v1.0h-1.0zM371.9 100.4h1.0v1.0h-1.0zM371.0 103.3h1.0v1.0h-1.0zM370.9 106.3h1.0v1.0h-1.0zM373.3 114.7h1.0v1.0h-1.0zM382.4 123.8h1.0v1.0h-1.0zM372.3 94.5h1.0v1.0h-1.0zM395.2 115.3h1.0v1.0h-1.0zM379.4 64.3h1.0v1.0h-1.0zM389.2 123.6h1.0v1.0h-1.0zM398.6 98.3h1.0v1.0h-1.0zM394.1 69.1h1.0v1.0h-1.0zM374.7 85.6h1.0v1.0h-1.0zM400.0 99.2h1.0v1.0h-1.0zM400.3 101.3h1.0v1.0h-1.0zM374.2 87.0h1.0v1.0h-1.0zM371.7 103.1h1.0v1.0h-1.0zM388.6 75.2h1.0v1.0h-1.0zM399.5 110.0h1.0v1.0h-1.0zM375.4 117.3h1.0v1.0h-1.0zM378.0 81.2h1.0v1.0h-1.0zM372.3 91.5h1.0v1.0h-1.0zM399.1 115.0h1.0v1.0h-1.0zM377.5 82.3h1.0v1.0h-1.0zM398.2 91.0h1.0v1.0h-1.0zM395.6 78.3h1.0v1.0h-1.0zM394.0 118.4h1.0v1.0h-1.0zM396.0 122.7h1.0v1.0h-1.0zM398.5 96.2h1.0v1.0h-1.0zM372.6 80.6h1.0v1.0h-1.0zM371.5 99.3h1.0v1.0h-1.0zM377.9 134.3h1.0v1.0h-1.0zM395.9 112.0h1.0v1.0h-1.0zM394.5 87.4h1.0v1.0h-1.0zM392.4 124.4h1.0v1.0h-1.0zM386.7 127.0h1.0v1.0h-1.0zM399.0 103.3h1.0v1.0h-1.0zM397.2 107.4h1.0v1.0h-1.0zM398.3 111.3h1.0v1.0h-1.0zM390.0 127.6h1.0v1.0h-1.0zM398.6 104.0h1.0v1.0h-1.0zM372.6 119.1h1.0v1.0h-1.0zM392.0 121.4h1.0v1.0h-1.0zM395.3 89.3h1.0v1.0h-1.0zM371.4 101.8h1.0v1.0h-1.0zM379.0 122.0h1.0v1.0h-1.0zM371.9 101.1h1.0v1.0h-1.0zM397.7 101.8h1.0v1.0h-1.0zM373.1 112.0h1.0v1.0h-1.0zM378.5 77.2h1.0v1.0h-1.0zM372.1 90.9h1.0v1.0h-1.0zM376.6 69.7h1.0v1.0h-1.0zM371.3 95.6h1.0v1.0h-1.0zM372.1 96.4h1.0v1.0h-1.0zM395.2 82.6h1.0v1.0h-1.0zM399.2 104.7h1.0v1.0h-1.0zM370.6 100.9h1.0v1.0h-1.0zM371.9 108.2h1.0v1.0h-1.0zM399.4 89.5h1.0v1.0h-1.0zM388.0 74.1h1.0v1.0h-1.0zM371.3 107.1h1.0v1.0h-1.0zM397.3 91.3h1.0v1.0h-1.0zM377.0 76.8h1.0v1.0h-1.0zM371.9 96.8h1.0v1.0h-1.0zM379.9 123.7h1.0v1.0h-1.0zM397.1 99.7h1.0v1.0h-1.0zM388.9 123.4h1.0v1.0h-1.0zM394.6 78.1h1.0v1.0h-1.0zM377.3 119.7h1.0v1.0h-1.0zM373.9 80.8h1.0v1.0h-1.0zM372.6 86.3h1.0v1.0h-1.0zM372.8 92.7h1.0v1.0h-1.0zM393.3 70.9h1.0v1.0h-1.0zM394.5 118.4h1.0v1.0h-1.0zM400.4 99.4h1.0v1.0h-1.0zM395.5 76.3h1.0v1.0h-1.0zM397.3 120.4h1.0v1.0h-1.0zM393.2 83.3h1.0v1.0h-1.0zM399.1 92.0h1.0v1.0h-1.0zM399.6 92.2h1.0v1.0h-1.0zM396.6 109.0h1.0v1.0h-1.0zM391.7 81.4h1.0v1.0h-1.0zM372.8 117.5h1.0v1.0h-1.0zM394.4 83.0h1.0v1.0h-1.0zM371.5 108.9h1.0v1.0h-1.0zM398.9 100.6h1.0v1.0h-1.0zM374.4 115.5h1.0v1.0h-1.0zM393.9 123.5h1.0v1.0h-1.0zM380.2 78.2h1.0v1.0h-1.0zM383.3 70.1h1.0v1.0h-1.0zM371.7 94.7h1.0v1.0h-1.0zM372.6 108.4h1.0v1.0h-1.0zM371.2 97.8h1.0v1.0h-1.0zM399.5 88.2h1.0v1.0h-1.0zM374.3 87.3h1.0v1.0h-1.0zM396.0 86.9h1.0v1.0h-1.0zM400.2 97.3h1.0v1.0h-1.0zM396.4 108.6h1.0v1.0h-1.0zM398.9 105.6h1.0v1.0h-1.0zM371.2 101.7h1.0v1.0h-1.0zM374.7 120.3h1.0v1.0h-1.0zM396.7 109.3h1.0v1.0h-1.0zM382.0 77.1h1.0v1.0h-1.0zM397.8 112.6h1.0v1.0h-1.0zM400.2 99.3h1.0v1.0h-1.0zM398.1 88.5h1.0v1.0h-1.0zM397.3 101.6h1.0v1.0h-1.0zM371.8 93.8h1.0v1.0h-1.0zM393.7 85.8h1.0v1.0h-1.0zM373.5 89.9h1.0v1.0h-1.0zM385.2 78.2h1.0v1.0h-1.0zM370.9 102.1h1.0v1.0h-1.0zM399.6 99.6h1.0v1.0h-1.0zM389.3 77.4h1.0v1.0h-1.0zM373.0 87.3h1.0v1.0h-1.0zM371.2 101.4h1.0v1.0h-1.0zM371.8 105.6h1.0v1.0h-1.0zM387.1 69.7h1.0v1.0h-1.0zM400.1 98.5h1.0v1.0h-1.0zM391.0 81.3h1.0v1.0h-1.0zM371.4 100.7h1.0v1.0h-1.0zM392.7 69.0h1.0v1.0h-1.0zM391.1 120.0h1.0v1.0h-1.0zM399.1 85.4h1.0v1.0h-1.0zM373.9 118.2h1.0v1.0h-1.0zM372.7 111.4h1.0v1.0h-1.0zM372.5 87.1h1.0v1.0h-1.0zM397.1 92.0h1.0v1.0h-1.0zM371.4 101.5h1.0v1.0h-1.0zM398.4 99.8h1.0v1.0h-1.0zM399.9 92.2h1.0v1.0h-1.0zM399.4 103.7h1.0v1.0h-1.0zM397.3 111.8h1.0v1.0h-1.0zM373.6 89.4h1.0v1.0h-1.0zM371.4 94.0h1.0v1.0h-1.0zM373.6 116.4h1.0v1.0h-1.0zM372.8 109.9h1.0v1.0h-1.0zM383.3 137.6h1.0v1.0h-1.0zM372.9 87.6h1.0v1.0h-1.0zM394.4 73.8h1.0v1.0h-1.0zM385.5 73.9h1.0v1.0h-1.0zM371.7 97.7h1.0v1.0h-1.0zM399.9 107.6h1.0v1.0h-1.0zM397.4 108.1h1.0v1.0h-1.0zM395.3 86.5h1.0v1.0h-1.0zM396.4 93.6h1.0v1.0h-1.0zM395.7 116.4h1.0v1.0h-1.0zM372.2 86.9h1.0v1.0h-1.0zM398.9 90.0h1.0v1.0h-1.0zM395.9 127.5h1.0v1.0h-1.0zM398.1 105.1h1.0v1.0h-1.0zM374.6 114.8h1.0v1.0h-1.0zM393.8 131.8h1.0v1.0h-1.0zM397.8 98.5h1.0v1.0h-1.0zM399.3 101.0h1.0v1.0h-1.0zM398.7 104.0h1.0v1.0h-1.0zM390.8 122.7h1.0v1.0h-1.0zM379.9 78.6h1.0v1.0h-1.0zM374.5 114.4h1.0v1.0h-1.0zM375.8 119.1h1.0v1.0h-1.0zM396.0 110.9h1.0v1.0h-1.0zM372.7 108.9h1.0v1.0h-1.0zM397.3 95.6h1.0v1.0h-1.0zM373.8 112.8h1.0v1.0h-1.0zM392.3 82.1h1.0v1.0h-1.0zM397.5 107.7h1.0v1.0h-1.0zM399.6 91.7h1.0v1.0h-1.0zM371.3 103.8h1.0v1.0h-1.0zM399.7 108.5h1.0v1.0h-1.0zM385.1 76.3h1.0v1.0h-1.0zM394.2 85.7h1.0v1.0h-1.0zM371.7 102.4h1.0v1.0h-1.0zM372.1 95.4h1.0v1.0h-1.0zM371.8 97.4h1.0v1.0h-1.0zM397.2 102.3h1.0v1.0h-1.0zM390.6 76.2h1.0v1.0h-1.0zM371.1 100.0h1.0v1.0h-1.0zM383.7 124.7h1.0v1.0h-1.0zM371.5 109.5h1.0v1.0h-1.0zM381.4 73.8h1.0v1.0h-1.0zM372.7 91.6h1.0v1.0h-1.0zM398.7 96.2h1.0v1.0h-1.0zM392.1 79.3h1.0v1.0h-1.0z" fill="#000" opacity="1.0"/>
<ellipse cx="383.8" cy="101" rx="12.7" ry="22.3" fill="#fff" stroke="#111" stroke-width="0.8"/>
<ellipse cx="383.8" cy="102.5" rx="11.6" ry="19.6" fill="none" stroke="#111" stroke-width="0.7"/>
<ellipse cx="384.20" cy="103.50" rx="10.80" ry="18.00" fill="none" stroke="#000" stroke-width="0.7"/>
<ellipse cx="384.20" cy="103.56" rx="10.12" ry="16.88" fill="none" stroke="#000" stroke-width="0.7"/>
<ellipse cx="384.20" cy="103.62" rx="9.45" ry="15.75" fill="none" stroke="#000" stroke-width="0.7"/>
<ellipse cx="384.20" cy="103.69" rx="8.78" ry="14.62" fill="none" stroke="#000" stroke-width="0.7"/>
<ellipse cx="384.20" cy="103.75" rx="8.10" ry="13.50" fill="none" stroke="#000" stroke-width="0.7"/>
<ellipse cx="384.20" cy="103.81" rx="7.43" ry="12.38" fill="none" stroke="#000" stroke-width="0.7"/>
<ellipse cx="384.20" cy="103.88" rx="6.75" ry="11.25" fill="none" stroke="#000" stroke-width="0.7"/>
<ellipse cx="384.20" cy="103.94" rx="6.08" ry="10.12" fill="none" stroke="#000" stroke-width="0.7"/>
<ellipse cx="384.20" cy="104.00" rx="5.40" ry="9.00" fill="none" stroke="#000" stroke-width="0.7"/>
<ellipse cx="384.20" cy="104.06" rx="4.73" ry="7.88" fill="none" stroke="#000" stroke-width="0.7"/>
<ellipse cx="384.20" cy="104.12" rx="4.05" ry="6.75" fill="none" stroke="#000" stroke-width="0.7"/>
<ellipse cx="384.20" cy="104.19" rx="3.38" ry="5.62" fill="none" stroke="#000" stroke-width="0.7"/>
<ellipse cx="384.20" cy="104.25" rx="2.70" ry="4.50" fill="none" stroke="#000" stroke-width="0.7"/>
<ellipse cx="383" cy="97" rx="6.0" ry="6.0" fill="none" stroke="#111" stroke-width="1.4"/>
<ellipse cx="383" cy="97" rx="3" ry="3" fill="#ddd" stroke="#333" stroke-width="0.5"/>
<ellipse cx="386.2" cy="110.8" rx="5.0" ry="4.8" fill="none" stroke="#000" stroke-width="2.8"/>
<ellipse cx="386.5" cy="110.5" rx="2.4" ry="2.2" fill="#eee"/>
<path d="M474.5 86.5h1.0v1.0h-1.0zM473.5 88.5h1.0v1.0h-1.0zM479.9 97.7h1.0v1.0h-1.0zM478.5 95.5h1.0v1.0h-1.0zM484.2 94.1h1.0v1.0h-1.0zM481.8 89.3h1.0v1.0h-1.0zM483.4 95.8h1.0v1.0h-1.0zM477.1 84.0h1.0v1.0h-1.0zM478.1 83.2h1.0v1.0h-1.0zM478.7 88.2h1.0v1.0h-1.0zM477.0 88.8h1.0v1.0h-1.0zM487.0 90.2h1.0v1.0h-1.0zM486.6 89.1h1.0v1.0h-1.0zM481.4 83.2h1.0v1.0h-1.0zM487.1 91.5h1.0v1.0h-1.0zM488.0 89.5h1.0v1.0h-1.0zM478.5 98.1h1.0v1.0h-1.0zM476.8 82.5h1.0v1.0h-1.0zM484.8 84.7h1.0v1.0h-1.0zM475.0 91.2h1.0v1.0h-1.0zM477.5 97.4h1.0v1.0h-1.0zM487.2 96.4h1.0v1.0h-1.0zM478.1 94.7h1.0v1.0h-1.0zM477.5 87.2h1.0v1.0h-1.0zM479.8 89.0h1.0v1.0h-1.0z" fill="#000" opacity="1.0"/>
<path d="M482.4 98.4h1.0v1.0h-1.0zM487.3 96.4h1.0v1.0h-1.0zM482.9 95.8h1.0v1.0h-1.0zM483.6 101.5h1.0v1.0h-1.0zM488.5 100.2h1.0v1.0h-1.0zM481.8 97.7h1.0v1.0h-1.0zM479.3 99.3h1.0v1.0h-1.0zM477.1 96.3h1.0v1.0h-1.0zM487.6 100.0h1.0v1.0h-1.0zM483.2 98.2h1.0v1.0h-1.0zM484.4 98.1h1.0v1.0h-1.0zM482.8 99.1h1.0v1.0h-1.0zM481.1 97.7h1.0v1.0h-1.0zM484.6 97.3h1.0v1.0h-1.0zM488.5 100.7h1.0v1.0h-1.0zM479.9 99.9h1.0v1.0h-1.0zM485.3 99.0h1.0v1.0h-1.0zM475.1 99.6h1.0v1.0h-1.0zM479.5 98.7h1.0v1.0h-1.0zM490.2 99.1h1.0v1.0h-1.0zM473.9 100.4h1.0v1.0h-1.0zM486.5 97.3h1.0v1.0h-1.0zM480.8 97.6h1.0v1.0h-1.0zM482.5 101.4h1.0v1.0h-1.0zM490.8 98.7h1.0v1.0h-1.0zM481.8 101.9h1.0v1.0h-1.0zM479.8 100.9h1.0v1.0h-1.0zM479.0 102.9h1.0v1.0h-1.0zM476.7 100.6h1.0v1.0h-1.0zM488.6 100.8h1.0v1.0h-1.0zM488.5 100.8h1.0v1.0h-1.0zM481.2 100.5h1.0v1.0h-1.0zM485.7 99.5h1.0v1.0h-1.0zM485.7 98.5h1.0v1.0h-1.0zM477.0 101.8h1.0v1.0h-1.0zM482.0 102.3h1.0v1.0h-1.0zM489.8 98.3h1.0v1.0h-1.0zM489.1 99.8h1.0v1.0h-1.0zM483.1 95.7h1.0v1.0h-1.0zM479.2 98.6h1.0v1.0h-1.0zM478.0 96.6h1.0v1.0h-1.0zM472.7 99.3h1.0v1.0h-1.0zM483.1 100.8h1.0v1.0h-1.0zM474.7 96.3h1.0v1.0h-1.0zM490.2 98.8h1.0v1.0h-1.0z" fill="#000" opacity="1.0"/>
<path d="M479.5 136.0h1.0v1.0h-1.0zM473.8 130.2h1.0v1.0h-1.0zM484.8 133.2h1.0v1.0h-1.0zM485.0 129.0h1.0v1.0h-1.0zM486.8 125.5h1.0v1.0h-1.0zM470.5 130.3h1.0v1.0h-1.0zM480.6 130.9h1.0v1.0h-1.0zM471.8 126.5h1.0v1.0h-1.0zM478.0 135.3h1.0v1.0h-1.0zM485.4 137.4h1.0v1.0h-1.0zM473.3 128.6h1.0v1.0h-1.0zM472.3 126.4h1.0v1.0h-1.0zM473.1 130.4h1.0v1.0h-1.0zM475.1 132.4h1.0v1.0h-1.0zM487.6 129.7h1.0v1.0h-1.0zM477.6 131.1h1.0v1.0h-1.0zM479.0 130.0h1.0v1.0h-1.0zM476.1 131.6h1.0v1.0h-1.0zM476.9 133.2h1.0v1.0h-1.0zM481.0 136.1h1.0v1.0h-1.0zM483.2 133.5h1.0v1.0h-1.0zM479.5 128.9h1.0v1.0h-1.0zM483.3 126.9h1.0v1.0h-1.0zM482.0 138.1h1.0v1.0h-1.0zM476.1 134.3h1.0v1.0h-1.0zM483.6 131.0h1.0v1.0h-1.0zM486.0 128.9h1.0v1.0h-1.0zM473.3 133.5h1.0v1.0h-1.0zM482.7 132.5h1.0v1.0h-1.0zM484.9 126.1h1.0v1.0h-1.0zM476.2 138.1h1.0v1.0h-1.0zM478.4 136.1h1.0v1.0h-1.0zM482.0 123.5h1.0v1.0h-1.0zM478.1 139.3h1.0v1.0h-1.0zM481.1 134.7h1.0v1.0h-1.0zM473.0 130.5h1.0v1.0h-1.0zM473.9 129.7h1.0v1.0h-1.0zM480.8 127.4h1.0v1.0h-1.0zM472.7 133.7h1.0v1.0h-1.0zM483.4 128.6h1.0v1.0h-1.0zM476.1 135.3h1.0v1.0h-1.0zM479.3 136.7h1.0v1.0h-1.0zM483.9 129.7h1.0v1.0h-1.0zM484.5 124.1h1.0v1.0h-1.0zM474.7 131.3h1.0v1.0h-1.0z" fill="#000" opacity="0.8"/>
<ellipse cx="480.3" cy="112.4" rx="12.5" ry="10.6" fill="#fff" stroke="#111" stroke-width="0.9"/>
<ellipse cx="480.30" cy="112.28" rx="11.15" ry="9.41" fill="none" stroke="#000" stroke-width="0.7"/>
<ellipse cx="480.30" cy="111.94" rx="10.18" ry="8.58" fill="none" stroke="#000" stroke-width="0.7"/>
<ellipse cx="480.30" cy="111.60" rx="9.20" ry="7.76" fill="none" stroke="#000" stroke-width="0.7"/>
<ellipse cx="480.30" cy="111.26" rx="8.22" ry="6.94" fill="none" stroke="#000" stroke-width="0.7"/>
<ellipse cx="480.30" cy="110.92" rx="7.25" ry="6.11" fill="none" stroke="#000" stroke-width="0.7"/>
<ellipse cx="480.30" cy="110.58" rx="6.27" ry="5.29" fill="none" stroke="#000" stroke-width="0.7"/>
<ellipse cx="480.30" cy="110.24" rx="5.29" ry="4.46" fill="none" stroke="#000" stroke-width="0.7"/>
<ellipse cx="480.30" cy="109.90" rx="4.31" ry="3.64" fill="none" stroke="#000" stroke-width="0.7"/>
<ellipse cx="480.30" cy="109.56" rx="3.34" ry="2.81" fill="none" stroke="#000" stroke-width="0.7"/>
<ellipse cx="480.30" cy="109.22" rx="2.36" ry="1.99" fill="none" stroke="#000" stroke-width="0.7"/>
<ellipse cx="480.30" cy="108.88" rx="1.38" ry="1.16" fill="none" stroke="#000" stroke-width="0.7"/>
<ellipse cx="480" cy="109.2" rx="7.2" ry="4.2" fill="none" stroke="#000" stroke-width="1.6"/>
<path d="M474 110 C477 107.5 481 107.5 486 110" fill="none" stroke="#eee" stroke-width="1.1"/>
<path d="M470.5 122.0 C474 124.5 486 124.5 490.0 122.0" fill="none" stroke="#333" stroke-width="0.5"/>
<path d="M471.2 124.4 C475 126.9 485 126.9 489.3 124.4" fill="none" stroke="#333" stroke-width="0.5"/>
<path d="M471.9 126.8 C476 129.3 484 129.3 488.6 126.8" fill="none" stroke="#333" stroke-width="0.5"/>
<path d="M472.6 129.2 C477 131.7 483 131.7 487.9 129.2" fill="none" stroke="#333" stroke-width="0.5"/>
<path d="M473.3 131.6 C478 134.1 482 134.1 487.2 131.6" fill="none" stroke="#333" stroke-width="0.5"/>
<path d="M474.0 134.0 C479 136.5 481 136.5 486.5 134.0" fill="none" stroke="#333" stroke-width="0.5"/>
<rect x="69.60" y="57.6" width="41.8" height="44.6" fill="none" stroke="#222" stroke-width="0.95"/>
<rect x="34.60" y="54.7" width="88.0" height="86.00" fill="none" stroke="#000" stroke-width="1.6"/>
<line x1="31.00" y1="132.80" x2="34.60" y2="132.80" stroke="#000" stroke-width="1.1" />
<line x1="32.00" y1="127.56" x2="34.60" y2="127.56" stroke="#000" stroke-width="0.85" />
<line x1="32.00" y1="124.50" x2="34.60" y2="124.50" stroke="#000" stroke-width="0.85" />
<line x1="32.00" y1="122.32" x2="34.60" y2="122.32" stroke="#000" stroke-width="0.85" />
<line x1="32.00" y1="120.64" x2="34.60" y2="120.64" stroke="#000" stroke-width="0.85" />
<line x1="32.00" y1="119.26" x2="34.60" y2="119.26" stroke="#000" stroke-width="0.85" />
<line x1="32.00" y1="118.10" x2="34.60" y2="118.10" stroke="#000" stroke-width="0.85" />
<line x1="32.00" y1="117.09" x2="34.60" y2="117.09" stroke="#000" stroke-width="0.85" />
<line x1="32.00" y1="116.20" x2="34.60" y2="116.20" stroke="#000" stroke-width="0.85" />
<line x1="31.00" y1="115.40" x2="34.60" y2="115.40" stroke="#000" stroke-width="1.1" />
<line x1="32.00" y1="110.16" x2="34.60" y2="110.16" stroke="#000" stroke-width="0.85" />
<line x1="32.00" y1="107.10" x2="34.60" y2="107.10" stroke="#000" stroke-width="0.85" />
<line x1="32.00" y1="104.92" x2="34.60" y2="104.92" stroke="#000" stroke-width="0.85" />
<line x1="32.00" y1="103.24" x2="34.60" y2="103.24" stroke="#000" stroke-width="0.85" />
<line x1="32.00" y1="101.86" x2="34.60" y2="101.86" stroke="#000" stroke-width="0.85" />
<line x1="32.00" y1="100.70" x2="34.60" y2="100.70" stroke="#000" stroke-width="0.85" />
<line x1="32.00" y1="99.69" x2="34.60" y2="99.69" stroke="#000" stroke-width="0.85" />
<line x1="32.00" y1="98.80" x2="34.60" y2="98.80" stroke="#000" stroke-width="0.85" />
<line x1="31.00" y1="98.00" x2="34.60" y2="98.00" stroke="#000" stroke-width="1.1" />
<line x1="32.00" y1="92.76" x2="34.60" y2="92.76" stroke="#000" stroke-width="0.85" />
<line x1="32.00" y1="89.70" x2="34.60" y2="89.70" stroke="#000" stroke-width="0.85" />
<line x1="32.00" y1="87.52" x2="34.60" y2="87.52" stroke="#000" stroke-width="0.85" />
<line x1="32.00" y1="85.84" x2="34.60" y2="85.84" stroke="#000" stroke-width="0.85" />
<line x1="32.00" y1="84.46" x2="34.60" y2="84.46" stroke="#000" stroke-width="0.85" />
<line x1="32.00" y1="83.30" x2="34.60" y2="83.30" stroke="#000" stroke-width="0.85" />
<line x1="32.00" y1="82.29" x2="34.60" y2="82.29" stroke="#000" stroke-width="0.85" />
<line x1="32.00" y1="81.40" x2="34.60" y2="81.40" stroke="#000" stroke-width="0.85" />
<line x1="31.00" y1="80.60" x2="34.60" y2="80.60" stroke="#000" stroke-width="1.1" />
<line x1="32.00" y1="75.36" x2="34.60" y2="75.36" stroke="#000" stroke-width="0.85" />
<line x1="32.00" y1="72.30" x2="34.60" y2="72.30" stroke="#000" stroke-width="0.85" />
<line x1="32.00" y1="70.12" x2="34.60" y2="70.12" stroke="#000" stroke-width="0.85" />
<line x1="32.00" y1="68.44" x2="34.60" y2="68.44" stroke="#000" stroke-width="0.85" />
<line x1="32.00" y1="67.06" x2="34.60" y2="67.06" stroke="#000" stroke-width="0.85" />
<line x1="32.00" y1="65.90" x2="34.60" y2="65.90" stroke="#000" stroke-width="0.85" />
<line x1="32.00" y1="64.89" x2="34.60" y2="64.89" stroke="#000" stroke-width="0.85" />
<line x1="32.00" y1="64.00" x2="34.60" y2="64.00" stroke="#000" stroke-width="0.85" />
<line x1="31.00" y1="63.20" x2="34.60" y2="63.20" stroke="#000" stroke-width="1.1" />
<line x1="32.00" y1="57.96" x2="34.60" y2="57.96" stroke="#000" stroke-width="0.85" />
<line x1="38.60" y1="140.70" x2="38.60" y2="144.30" stroke="#000" stroke-width="1.1" />
<line x1="43.84" y1="140.70" x2="43.84" y2="143.50" stroke="#000" stroke-width="0.85" />
<line x1="46.90" y1="140.70" x2="46.90" y2="143.50" stroke="#000" stroke-width="0.85" />
<line x1="49.08" y1="140.70" x2="49.08" y2="143.50" stroke="#000" stroke-width="0.85" />
<line x1="50.76" y1="140.70" x2="50.76" y2="143.50" stroke="#000" stroke-width="0.85" />
<line x1="52.14" y1="140.70" x2="52.14" y2="143.50" stroke="#000" stroke-width="0.85" />
<line x1="53.30" y1="140.70" x2="53.30" y2="143.50" stroke="#000" stroke-width="0.85" />
<line x1="54.31" y1="140.70" x2="54.31" y2="143.50" stroke="#000" stroke-width="0.85" />
<line x1="55.20" y1="140.70" x2="55.20" y2="143.50" stroke="#000" stroke-width="0.85" />
<line x1="56.00" y1="140.70" x2="56.00" y2="144.30" stroke="#000" stroke-width="1.1" />
<line x1="61.24" y1="140.70" x2="61.24" y2="143.50" stroke="#000" stroke-width="0.85" />
<line x1="64.30" y1="140.70" x2="64.30" y2="143.50" stroke="#000" stroke-width="0.85" />
<line x1="66.48" y1="140.70" x2="66.48" y2="143.50" stroke="#000" stroke-width="0.85" />
<line x1="68.16" y1="140.70" x2="68.16" y2="143.50" stroke="#000" stroke-width="0.85" />
<line x1="69.54" y1="140.70" x2="69.54" y2="143.50" stroke="#000" stroke-width="0.85" />
<line x1="70.70" y1="140.70" x2="70.70" y2="143.50" stroke="#000" stroke-width="0.85" />
<line x1="71.71" y1="140.70" x2="71.71" y2="143.50" stroke="#000" stroke-width="0.85" />
<line x1="72.60" y1="140.70" x2="72.60" y2="143.50" stroke="#000" stroke-width="0.85" />
<line x1="73.40" y1="140.70" x2="73.40" y2="144.30" stroke="#000" stroke-width="1.1" />
<line x1="78.64" y1="140.70" x2="78.64" y2="143.50" stroke="#000" stroke-width="0.85" />
<line x1="81.70" y1="140.70" x2="81.70" y2="143.50" stroke="#000" stroke-width="0.85" />
<line x1="83.88" y1="140.70" x2="83.88" y2="143.50" stroke="#000" stroke-width="0.85" />
<line x1="85.56" y1="140.70" x2="85.56" y2="143.50" stroke="#000" stroke-width="0.85" />
<line x1="86.94" y1="140.70" x2="86.94" y2="143.50" stroke="#000" stroke-width="0.85" />
<line x1="88.10" y1="140.70" x2="88.10" y2="143.50" stroke="#000" stroke-width="0.85" />
<line x1="89.11" y1="140.70" x2="89.11" y2="143.50" stroke="#000" stroke-width="0.85" />
<line x1="90.00" y1="140.70" x2="90.00" y2="143.50" stroke="#000" stroke-width="0.85" />
<line x1="90.80" y1="140.70" x2="90.80" y2="144.30" stroke="#000" stroke-width="1.1" />
<line x1="96.04" y1="140.70" x2="96.04" y2="143.50" stroke="#000" stroke-width="0.85" />
<line x1="99.10" y1="140.70" x2="99.10" y2="143.50" stroke="#000" stroke-width="0.85" />
<line x1="101.28" y1="140.70" x2="101.28" y2="143.50" stroke="#000" stroke-width="0.85" />
<line x1="102.96" y1="140.70" x2="102.96" y2="143.50" stroke="#000" stroke-width="0.85" />
<line x1="104.34" y1="140.70" x2="104.34" y2="143.50" stroke="#000" stroke-width="0.85" />
<line x1="105.50" y1="140.70" x2="105.50" y2="143.50" stroke="#000" stroke-width="0.85" />
<line x1="106.51" y1="140.70" x2="106.51" y2="143.50" stroke="#000" stroke-width="0.85" />
<line x1="107.40" y1="140.70" x2="107.40" y2="143.50" stroke="#000" stroke-width="0.85" />
<line x1="108.20" y1="140.70" x2="108.20" y2="144.30" stroke="#000" stroke-width="1.1" />
<line x1="113.44" y1="140.70" x2="113.44" y2="143.50" stroke="#000" stroke-width="0.85" />
<line x1="116.50" y1="140.70" x2="116.50" y2="143.50" stroke="#000" stroke-width="0.85" />
<line x1="118.68" y1="140.70" x2="118.68" y2="143.50" stroke="#000" stroke-width="0.85" />
<line x1="120.36" y1="140.70" x2="120.36" y2="143.50" stroke="#000" stroke-width="0.85" />
<text x="37.10" y="67.20" font-size="8.0" text-anchor="start" fill="#000" font-weight="bold" textLength="14.40" lengthAdjust="spacingAndGlyphs" stroke="#000" stroke-width="0.35">91.1</text>
<rect x="167.30" y="57.6" width="41.8" height="44.6" fill="none" stroke="#222" stroke-width="0.95"/>
<rect x="132.30" y="54.7" width="88.0" height="86.00" fill="none" stroke="#000" stroke-width="1.6"/>
<line x1="128.70" y1="132.80" x2="132.30" y2="132.80" stroke="#000" stroke-width="1.1" />
<line x1="129.70" y1="127.56" x2="132.30" y2="127.56" stroke="#000" stroke-width="0.85" />
<line x1="129.70" y1="124.50" x2="132.30" y2="124.50" stroke="#000" stroke-width="0.85" />
<line x1="129.70" y1="122.32" x2="132.30" y2="122.32" stroke="#000" stroke-width="0.85" />
<line x1="129.70" y1="120.64" x2="132.30" y2="120.64" stroke="#000" stroke-width="0.85" />
<line x1="129.70" y1="119.26" x2="132.30" y2="119.26" stroke="#000" stroke-width="0.85" />
<line x1="129.70" y1="118.10" x2="132.30" y2="118.10" stroke="#000" stroke-width="0.85" />
<line x1="129.70" y1="117.09" x2="132.30" y2="117.09" stroke="#000" stroke-width="0.85" />
<line x1="129.70" y1="116.20" x2="132.30" y2="116.20" stroke="#000" stroke-width="0.85" />
<line x1="128.70" y1="115.40" x2="132.30" y2="115.40" stroke="#000" stroke-width="1.1" />
<line x1="129.70" y1="110.16" x2="132.30" y2="110.16" stroke="#000" stroke-width="0.85" />
<line x1="129.70" y1="107.10" x2="132.30" y2="107.10" stroke="#000" stroke-width="0.85" />
<line x1="129.70" y1="104.92" x2="132.30" y2="104.92" stroke="#000" stroke-width="0.85" />
<line x1="129.70" y1="103.24" x2="132.30" y2="103.24" stroke="#000" stroke-width="0.85" />
<line x1="129.70" y1="101.86" x2="132.30" y2="101.86" stroke="#000" stroke-width="0.85" />
<line x1="129.70" y1="100.70" x2="132.30" y2="100.70" stroke="#000" stroke-width="0.85" />
<line x1="129.70" y1="99.69" x2="132.30" y2="99.69" stroke="#000" stroke-width="0.85" />
<line x1="129.70" y1="98.80" x2="132.30" y2="98.80" stroke="#000" stroke-width="0.85" />
<line x1="128.70" y1="98.00" x2="132.30" y2="98.00" stroke="#000" stroke-width="1.1" />
<line x1="129.70" y1="92.76" x2="132.30" y2="92.76" stroke="#000" stroke-width="0.85" />
<line x1="129.70" y1="89.70" x2="132.30" y2="89.70" stroke="#000" stroke-width="0.85" />
<line x1="129.70" y1="87.52" x2="132.30" y2="87.52" stroke="#000" stroke-width="0.85" />
<line x1="129.70" y1="85.84" x2="132.30" y2="85.84" stroke="#000" stroke-width="0.85" />
<line x1="129.70" y1="84.46" x2="132.30" y2="84.46" stroke="#000" stroke-width="0.85" />
<line x1="129.70" y1="83.30" x2="132.30" y2="83.30" stroke="#000" stroke-width="0.85" />
<line x1="129.70" y1="82.29" x2="132.30" y2="82.29" stroke="#000" stroke-width="0.85" />
<line x1="129.70" y1="81.40" x2="132.30" y2="81.40" stroke="#000" stroke-width="0.85" />
<line x1="128.70" y1="80.60" x2="132.30" y2="80.60" stroke="#000" stroke-width="1.1" />
<line x1="129.70" y1="75.36" x2="132.30" y2="75.36" stroke="#000" stroke-width="0.85" />
<line x1="129.70" y1="72.30" x2="132.30" y2="72.30" stroke="#000" stroke-width="0.85" />
<line x1="129.70" y1="70.12" x2="132.30" y2="70.12" stroke="#000" stroke-width="0.85" />
<line x1="129.70" y1="68.44" x2="132.30" y2="68.44" stroke="#000" stroke-width="0.85" />
<line x1="129.70" y1="67.06" x2="132.30" y2="67.06" stroke="#000" stroke-width="0.85" />
<line x1="129.70" y1="65.90" x2="132.30" y2="65.90" stroke="#000" stroke-width="0.85" />
<line x1="129.70" y1="64.89" x2="132.30" y2="64.89" stroke="#000" stroke-width="0.85" />
<line x1="129.70" y1="64.00" x2="132.30" y2="64.00" stroke="#000" stroke-width="0.85" />
<line x1="128.70" y1="63.20" x2="132.30" y2="63.20" stroke="#000" stroke-width="1.1" />
<line x1="129.70" y1="57.96" x2="132.30" y2="57.96" stroke="#000" stroke-width="0.85" />
<line x1="136.30" y1="140.70" x2="136.30" y2="144.30" stroke="#000" stroke-width="1.1" />
<line x1="141.54" y1="140.70" x2="141.54" y2="143.50" stroke="#000" stroke-width="0.85" />
<line x1="144.60" y1="140.70" x2="144.60" y2="143.50" stroke="#000" stroke-width="0.85" />
<line x1="146.78" y1="140.70" x2="146.78" y2="143.50" stroke="#000" stroke-width="0.85" />
<line x1="148.46" y1="140.70" x2="148.46" y2="143.50" stroke="#000" stroke-width="0.85" />
<line x1="149.84" y1="140.70" x2="149.84" y2="143.50" stroke="#000" stroke-width="0.85" />
<line x1="151.00" y1="140.70" x2="151.00" y2="143.50" stroke="#000" stroke-width="0.85" />
<line x1="152.01" y1="140.70" x2="152.01" y2="143.50" stroke="#000" stroke-width="0.85" />
<line x1="152.90" y1="140.70" x2="152.90" y2="143.50" stroke="#000" stroke-width="0.85" />
<line x1="153.70" y1="140.70" x2="153.70" y2="144.30" stroke="#000" stroke-width="1.1" />
<line x1="158.94" y1="140.70" x2="158.94" y2="143.50" stroke="#000" stroke-width="0.85" />
<line x1="162.00" y1="140.70" x2="162.00" y2="143.50" stroke="#000" stroke-width="0.85" />
<line x1="164.18" y1="140.70" x2="164.18" y2="143.50" stroke="#000" stroke-width="0.85" />
<line x1="165.86" y1="140.70" x2="165.86" y2="143.50" stroke="#000" stroke-width="0.85" />
<line x1="167.24" y1="140.70" x2="167.24" y2="143.50" stroke="#000" stroke-width="0.85" />
<line x1="168.40" y1="140.70" x2="168.40" y2="143.50" stroke="#000" stroke-width="0.85" />
<line x1="169.41" y1="140.70" x2="169.41" y2="143.50" stroke="#000" stroke-width="0.85" />
<line x1="170.30" y1="140.70" x2="170.30" y2="143.50" stroke="#000" stroke-width="0.85" />
<line x1="171.10" y1="140.70" x2="171.10" y2="144.30" stroke="#000" stroke-width="1.1" />
<line x1="176.34" y1="140.70" x2="176.34" y2="143.50" stroke="#000" stroke-width="0.85" />
<line x1="179.40" y1="140.70" x2="179.40" y2="143.50" stroke="#000" stroke-width="0.85" />
<line x1="181.58" y1="140.70" x2="181.58" y2="143.50" stroke="#000" stroke-width="0.85" />
<line x1="183.26" y1="140.70" x2="183.26" y2="143.50" stroke="#000" stroke-width="0.85" />
<line x1="184.64" y1="140.70" x2="184.64" y2="143.50" stroke="#000" stroke-width="0.85" />
<line x1="185.80" y1="140.70" x2="185.80" y2="143.50" stroke="#000" stroke-width="0.85" />
<line x1="186.81" y1="140.70" x2="186.81" y2="143.50" stroke="#000" stroke-width="0.85" />
<line x1="187.70" y1="140.70" x2="187.70" y2="143.50" stroke="#000" stroke-width="0.85" />
<line x1="188.50" y1="140.70" x2="188.50" y2="144.30" stroke="#000" stroke-width="1.1" />
<line x1="193.74" y1="140.70" x2="193.74" y2="143.50" stroke="#000" stroke-width="0.85" />
<line x1="196.80" y1="140.70" x2="196.80" y2="143.50" stroke="#000" stroke-width="0.85" />
<line x1="198.98" y1="140.70" x2="198.98" y2="143.50" stroke="#000" stroke-width="0.85" />
<line x1="200.66" y1="140.70" x2="200.66" y2="143.50" stroke="#000" stroke-width="0.85" />
<line x1="202.04" y1="140.70" x2="202.04" y2="143.50" stroke="#000" stroke-width="0.85" />
<line x1="203.20" y1="140.70" x2="203.20" y2="143.50" stroke="#000" stroke-width="0.85" />
<line x1="204.21" y1="140.70" x2="204.21" y2="143.50" stroke="#000" stroke-width="0.85" />
<line x1="205.10" y1="140.70" x2="205.10" y2="143.50" stroke="#000" stroke-width="0.85" />
<line x1="205.90" y1="140.70" x2="205.90" y2="144.30" stroke="#000" stroke-width="1.1" />
<line x1="211.14" y1="140.70" x2="211.14" y2="143.50" stroke="#000" stroke-width="0.85" />
<line x1="214.20" y1="140.70" x2="214.20" y2="143.50" stroke="#000" stroke-width="0.85" />
<line x1="216.38" y1="140.70" x2="216.38" y2="143.50" stroke="#000" stroke-width="0.85" />
<line x1="218.06" y1="140.70" x2="218.06" y2="143.50" stroke="#000" stroke-width="0.85" />
<text x="134.80" y="67.20" font-size="8.0" text-anchor="start" fill="#000" font-weight="bold" textLength="14.40" lengthAdjust="spacingAndGlyphs" stroke="#000" stroke-width="0.35">17.8</text>
<rect x="264.40" y="57.6" width="41.8" height="44.6" fill="none" stroke="#222" stroke-width="0.95"/>
<rect x="229.40" y="54.7" width="88.0" height="86.00" fill="none" stroke="#000" stroke-width="1.6"/>
<line x1="225.80" y1="132.80" x2="229.40" y2="132.80" stroke="#000" stroke-width="1.1" />
<line x1="226.80" y1="127.56" x2="229.40" y2="127.56" stroke="#000" stroke-width="0.85" />
<line x1="226.80" y1="124.50" x2="229.40" y2="124.50" stroke="#000" stroke-width="0.85" />
<line x1="226.80" y1="122.32" x2="229.40" y2="122.32" stroke="#000" stroke-width="0.85" />
<line x1="226.80" y1="120.64" x2="229.40" y2="120.64" stroke="#000" stroke-width="0.85" />
<line x1="226.80" y1="119.26" x2="229.40" y2="119.26" stroke="#000" stroke-width="0.85" />
<line x1="226.80" y1="118.10" x2="229.40" y2="118.10" stroke="#000" stroke-width="0.85" />
<line x1="226.80" y1="117.09" x2="229.40" y2="117.09" stroke="#000" stroke-width="0.85" />
<line x1="226.80" y1="116.20" x2="229.40" y2="116.20" stroke="#000" stroke-width="0.85" />
<line x1="225.80" y1="115.40" x2="229.40" y2="115.40" stroke="#000" stroke-width="1.1" />
<line x1="226.80" y1="110.16" x2="229.40" y2="110.16" stroke="#000" stroke-width="0.85" />
<line x1="226.80" y1="107.10" x2="229.40" y2="107.10" stroke="#000" stroke-width="0.85" />
<line x1="226.80" y1="104.92" x2="229.40" y2="104.92" stroke="#000" stroke-width="0.85" />
<line x1="226.80" y1="103.24" x2="229.40" y2="103.24" stroke="#000" stroke-width="0.85" />
<line x1="226.80" y1="101.86" x2="229.40" y2="101.86" stroke="#000" stroke-width="0.85" />
<line x1="226.80" y1="100.70" x2="229.40" y2="100.70" stroke="#000" stroke-width="0.85" />
<line x1="226.80" y1="99.69" x2="229.40" y2="99.69" stroke="#000" stroke-width="0.85" />
<line x1="226.80" y1="98.80" x2="229.40" y2="98.80" stroke="#000" stroke-width="0.85" />
<line x1="225.80" y1="98.00" x2="229.40" y2="98.00" stroke="#000" stroke-width="1.1" />
<line x1="226.80" y1="92.76" x2="229.40" y2="92.76" stroke="#000" stroke-width="0.85" />
<line x1="226.80" y1="89.70" x2="229.40" y2="89.70" stroke="#000" stroke-width="0.85" />
<line x1="226.80" y1="87.52" x2="229.40" y2="87.52" stroke="#000" stroke-width="0.85" />
<line x1="226.80" y1="85.84" x2="229.40" y2="85.84" stroke="#000" stroke-width="0.85" />
<line x1="226.80" y1="84.46" x2="229.40" y2="84.46" stroke="#000" stroke-width="0.85" />
<line x1="226.80" y1="83.30" x2="229.40" y2="83.30" stroke="#000" stroke-width="0.85" />
<line x1="226.80" y1="82.29" x2="229.40" y2="82.29" stroke="#000" stroke-width="0.85" />
<line x1="226.80" y1="81.40" x2="229.40" y2="81.40" stroke="#000" stroke-width="0.85" />
<line x1="225.80" y1="80.60" x2="229.40" y2="80.60" stroke="#000" stroke-width="1.1" />
<line x1="226.80" y1="75.36" x2="229.40" y2="75.36" stroke="#000" stroke-width="0.85" />
<line x1="226.80" y1="72.30" x2="229.40" y2="72.30" stroke="#000" stroke-width="0.85" />
<line x1="226.80" y1="70.12" x2="229.40" y2="70.12" stroke="#000" stroke-width="0.85" />
<line x1="226.80" y1="68.44" x2="229.40" y2="68.44" stroke="#000" stroke-width="0.85" />
<line x1="226.80" y1="67.06" x2="229.40" y2="67.06" stroke="#000" stroke-width="0.85" />
<line x1="226.80" y1="65.90" x2="229.40" y2="65.90" stroke="#000" stroke-width="0.85" />
<line x1="226.80" y1="64.89" x2="229.40" y2="64.89" stroke="#000" stroke-width="0.85" />
<line x1="226.80" y1="64.00" x2="229.40" y2="64.00" stroke="#000" stroke-width="0.85" />
<line x1="225.80" y1="63.20" x2="229.40" y2="63.20" stroke="#000" stroke-width="1.1" />
<line x1="226.80" y1="57.96" x2="229.40" y2="57.96" stroke="#000" stroke-width="0.85" />
<line x1="233.40" y1="140.70" x2="233.40" y2="144.30" stroke="#000" stroke-width="1.1" />
<line x1="238.64" y1="140.70" x2="238.64" y2="143.50" stroke="#000" stroke-width="0.85" />
<line x1="241.70" y1="140.70" x2="241.70" y2="143.50" stroke="#000" stroke-width="0.85" />
<line x1="243.88" y1="140.70" x2="243.88" y2="143.50" stroke="#000" stroke-width="0.85" />
<line x1="245.56" y1="140.70" x2="245.56" y2="143.50" stroke="#000" stroke-width="0.85" />
<line x1="246.94" y1="140.70" x2="246.94" y2="143.50" stroke="#000" stroke-width="0.85" />
<line x1="248.10" y1="140.70" x2="248.10" y2="143.50" stroke="#000" stroke-width="0.85" />
<line x1="249.11" y1="140.70" x2="249.11" y2="143.50" stroke="#000" stroke-width="0.85" />
<line x1="250.00" y1="140.70" x2="250.00" y2="143.50" stroke="#000" stroke-width="0.85" />
<line x1="250.80" y1="140.70" x2="250.80" y2="144.30" stroke="#000" stroke-width="1.1" />
<line x1="256.04" y1="140.70" x2="256.04" y2="143.50" stroke="#000" stroke-width="0.85" />
<line x1="259.10" y1="140.70" x2="259.10" y2="143.50" stroke="#000" stroke-width="0.85" />
<line x1="261.28" y1="140.70" x2="261.28" y2="143.50" stroke="#000" stroke-width="0.85" />
<line x1="262.96" y1="140.70" x2="262.96" y2="143.50" stroke="#000" stroke-width="0.85" />
<line x1="264.34" y1="140.70" x2="264.34" y2="143.50" stroke="#000" stroke-width="0.85" />
<line x1="265.50" y1="140.70" x2="265.50" y2="143.50" stroke="#000" stroke-width="0.85" />
<line x1="266.51" y1="140.70" x2="266.51" y2="143.50" stroke="#000" stroke-width="0.85" />
<line x1="267.40" y1="140.70" x2="267.40" y2="143.50" stroke="#000" stroke-width="0.85" />
<line x1="268.20" y1="140.70" x2="268.20" y2="144.30" stroke="#000" stroke-width="1.1" />
<line x1="273.44" y1="140.70" x2="273.44" y2="143.50" stroke="#000" stroke-width="0.85" />
<line x1="276.50" y1="140.70" x2="276.50" y2="143.50" stroke="#000" stroke-width="0.85" />
<line x1="278.68" y1="140.70" x2="278.68" y2="143.50" stroke="#000" stroke-width="0.85" />
<line x1="280.36" y1="140.70" x2="280.36" y2="143.50" stroke="#000" stroke-width="0.85" />
<line x1="281.74" y1="140.70" x2="281.74" y2="143.50" stroke="#000" stroke-width="0.85" />
<line x1="282.90" y1="140.70" x2="282.90" y2="143.50" stroke="#000" stroke-width="0.85" />
<line x1="283.91" y1="140.70" x2="283.91" y2="143.50" stroke="#000" stroke-width="0.85" />
<line x1="284.80" y1="140.70" x2="284.80" y2="143.50" stroke="#000" stroke-width="0.85" />
<line x1="285.60" y1="140.70" x2="285.60" y2="144.30" stroke="#000" stroke-width="1.1" />
<line x1="290.84" y1="140.70" x2="290.84" y2="143.50" stroke="#000" stroke-width="0.85" />
<line x1="293.90" y1="140.70" x2="293.90" y2="143.50" stroke="#000" stroke-width="0.85" />
<line x1="296.08" y1="140.70" x2="296.08" y2="143.50" stroke="#000" stroke-width="0.85" />
<line x1="297.76" y1="140.70" x2="297.76" y2="143.50" stroke="#000" stroke-width="0.85" />
<line x1="299.14" y1="140.70" x2="299.14" y2="143.50" stroke="#000" stroke-width="0.85" />
<line x1="300.30" y1="140.70" x2="300.30" y2="143.50" stroke="#000" stroke-width="0.85" />
<line x1="301.31" y1="140.70" x2="301.31" y2="143.50" stroke="#000" stroke-width="0.85" />
<line x1="302.20" y1="140.70" x2="302.20" y2="143.50" stroke="#000" stroke-width="0.85" />
<line x1="303.00" y1="140.70" x2="303.00" y2="144.30" stroke="#000" stroke-width="1.1" />
<line x1="308.24" y1="140.70" x2="308.24" y2="143.50" stroke="#000" stroke-width="0.85" />
<line x1="311.30" y1="140.70" x2="311.30" y2="143.50" stroke="#000" stroke-width="0.85" />
<line x1="313.48" y1="140.70" x2="313.48" y2="143.50" stroke="#000" stroke-width="0.85" />
<line x1="315.16" y1="140.70" x2="315.16" y2="143.50" stroke="#000" stroke-width="0.85" />
<text x="231.90" y="67.20" font-size="8.0" text-anchor="start" fill="#000" font-weight="bold" textLength="14.40" lengthAdjust="spacingAndGlyphs" stroke="#000" stroke-width="0.35">1.37</text>
<rect x="362.30" y="57.6" width="41.8" height="44.6" fill="none" stroke="#222" stroke-width="0.95"/>
<rect x="327.30" y="54.7" width="88.0" height="86.00" fill="none" stroke="#000" stroke-width="1.6"/>
<line x1="323.70" y1="132.80" x2="327.30" y2="132.80" stroke="#000" stroke-width="1.1" />
<line x1="324.70" y1="127.56" x2="327.30" y2="127.56" stroke="#000" stroke-width="0.85" />
<line x1="324.70" y1="124.50" x2="327.30" y2="124.50" stroke="#000" stroke-width="0.85" />
<line x1="324.70" y1="122.32" x2="327.30" y2="122.32" stroke="#000" stroke-width="0.85" />
<line x1="324.70" y1="120.64" x2="327.30" y2="120.64" stroke="#000" stroke-width="0.85" />
<line x1="324.70" y1="119.26" x2="327.30" y2="119.26" stroke="#000" stroke-width="0.85" />
<line x1="324.70" y1="118.10" x2="327.30" y2="118.10" stroke="#000" stroke-width="0.85" />
<line x1="324.70" y1="117.09" x2="327.30" y2="117.09" stroke="#000" stroke-width="0.85" />
<line x1="324.70" y1="116.20" x2="327.30" y2="116.20" stroke="#000" stroke-width="0.85" />
<line x1="323.70" y1="115.40" x2="327.30" y2="115.40" stroke="#000" stroke-width="1.1" />
<line x1="324.70" y1="110.16" x2="327.30" y2="110.16" stroke="#000" stroke-width="0.85" />
<line x1="324.70" y1="107.10" x2="327.30" y2="107.10" stroke="#000" stroke-width="0.85" />
<line x1="324.70" y1="104.92" x2="327.30" y2="104.92" stroke="#000" stroke-width="0.85" />
<line x1="324.70" y1="103.24" x2="327.30" y2="103.24" stroke="#000" stroke-width="0.85" />
<line x1="324.70" y1="101.86" x2="327.30" y2="101.86" stroke="#000" stroke-width="0.85" />
<line x1="324.70" y1="100.70" x2="327.30" y2="100.70" stroke="#000" stroke-width="0.85" />
<line x1="324.70" y1="99.69" x2="327.30" y2="99.69" stroke="#000" stroke-width="0.85" />
<line x1="324.70" y1="98.80" x2="327.30" y2="98.80" stroke="#000" stroke-width="0.85" />
<line x1="323.70" y1="98.00" x2="327.30" y2="98.00" stroke="#000" stroke-width="1.1" />
<line x1="324.70" y1="92.76" x2="327.30" y2="92.76" stroke="#000" stroke-width="0.85" />
<line x1="324.70" y1="89.70" x2="327.30" y2="89.70" stroke="#000" stroke-width="0.85" />
<line x1="324.70" y1="87.52" x2="327.30" y2="87.52" stroke="#000" stroke-width="0.85" />
<line x1="324.70" y1="85.84" x2="327.30" y2="85.84" stroke="#000" stroke-width="0.85" />
<line x1="324.70" y1="84.46" x2="327.30" y2="84.46" stroke="#000" stroke-width="0.85" />
<line x1="324.70" y1="83.30" x2="327.30" y2="83.30" stroke="#000" stroke-width="0.85" />
<line x1="324.70" y1="82.29" x2="327.30" y2="82.29" stroke="#000" stroke-width="0.85" />
<line x1="324.70" y1="81.40" x2="327.30" y2="81.40" stroke="#000" stroke-width="0.85" />
<line x1="323.70" y1="80.60" x2="327.30" y2="80.60" stroke="#000" stroke-width="1.1" />
<line x1="324.70" y1="75.36" x2="327.30" y2="75.36" stroke="#000" stroke-width="0.85" />
<line x1="324.70" y1="72.30" x2="327.30" y2="72.30" stroke="#000" stroke-width="0.85" />
<line x1="324.70" y1="70.12" x2="327.30" y2="70.12" stroke="#000" stroke-width="0.85" />
<line x1="324.70" y1="68.44" x2="327.30" y2="68.44" stroke="#000" stroke-width="0.85" />
<line x1="324.70" y1="67.06" x2="327.30" y2="67.06" stroke="#000" stroke-width="0.85" />
<line x1="324.70" y1="65.90" x2="327.30" y2="65.90" stroke="#000" stroke-width="0.85" />
<line x1="324.70" y1="64.89" x2="327.30" y2="64.89" stroke="#000" stroke-width="0.85" />
<line x1="324.70" y1="64.00" x2="327.30" y2="64.00" stroke="#000" stroke-width="0.85" />
<line x1="323.70" y1="63.20" x2="327.30" y2="63.20" stroke="#000" stroke-width="1.1" />
<line x1="324.70" y1="57.96" x2="327.30" y2="57.96" stroke="#000" stroke-width="0.85" />
<line x1="331.30" y1="140.70" x2="331.30" y2="144.30" stroke="#000" stroke-width="1.1" />
<line x1="336.54" y1="140.70" x2="336.54" y2="143.50" stroke="#000" stroke-width="0.85" />
<line x1="339.60" y1="140.70" x2="339.60" y2="143.50" stroke="#000" stroke-width="0.85" />
<line x1="341.78" y1="140.70" x2="341.78" y2="143.50" stroke="#000" stroke-width="0.85" />
<line x1="343.46" y1="140.70" x2="343.46" y2="143.50" stroke="#000" stroke-width="0.85" />
<line x1="344.84" y1="140.70" x2="344.84" y2="143.50" stroke="#000" stroke-width="0.85" />
<line x1="346.00" y1="140.70" x2="346.00" y2="143.50" stroke="#000" stroke-width="0.85" />
<line x1="347.01" y1="140.70" x2="347.01" y2="143.50" stroke="#000" stroke-width="0.85" />
<line x1="347.90" y1="140.70" x2="347.90" y2="143.50" stroke="#000" stroke-width="0.85" />
<line x1="348.70" y1="140.70" x2="348.70" y2="144.30" stroke="#000" stroke-width="1.1" />
<line x1="353.94" y1="140.70" x2="353.94" y2="143.50" stroke="#000" stroke-width="0.85" />
<line x1="357.00" y1="140.70" x2="357.00" y2="143.50" stroke="#000" stroke-width="0.85" />
<line x1="359.18" y1="140.70" x2="359.18" y2="143.50" stroke="#000" stroke-width="0.85" />
<line x1="360.86" y1="140.70" x2="360.86" y2="143.50" stroke="#000" stroke-width="0.85" />
<line x1="362.24" y1="140.70" x2="362.24" y2="143.50" stroke="#000" stroke-width="0.85" />
<line x1="363.40" y1="140.70" x2="363.40" y2="143.50" stroke="#000" stroke-width="0.85" />
<line x1="364.41" y1="140.70" x2="364.41" y2="143.50" stroke="#000" stroke-width="0.85" />
<line x1="365.30" y1="140.70" x2="365.30" y2="143.50" stroke="#000" stroke-width="0.85" />
<line x1="366.10" y1="140.70" x2="366.10" y2="144.30" stroke="#000" stroke-width="1.1" />
<line x1="371.34" y1="140.70" x2="371.34" y2="143.50" stroke="#000" stroke-width="0.85" />
<line x1="374.40" y1="140.70" x2="374.40" y2="143.50" stroke="#000" stroke-width="0.85" />
<line x1="376.58" y1="140.70" x2="376.58" y2="143.50" stroke="#000" stroke-width="0.85" />
<line x1="378.26" y1="140.70" x2="378.26" y2="143.50" stroke="#000" stroke-width="0.85" />
<line x1="379.64" y1="140.70" x2="379.64" y2="143.50" stroke="#000" stroke-width="0.85" />
<line x1="380.80" y1="140.70" x2="380.80" y2="143.50" stroke="#000" stroke-width="0.85" />
<line x1="381.81" y1="140.70" x2="381.81" y2="143.50" stroke="#000" stroke-width="0.85" />
<line x1="382.70" y1="140.70" x2="382.70" y2="143.50" stroke="#000" stroke-width="0.85" />
<line x1="383.50" y1="140.70" x2="383.50" y2="144.30" stroke="#000" stroke-width="1.1" />
<line x1="388.74" y1="140.70" x2="388.74" y2="143.50" stroke="#000" stroke-width="0.85" />
<line x1="391.80" y1="140.70" x2="391.80" y2="143.50" stroke="#000" stroke-width="0.85" />
<line x1="393.98" y1="140.70" x2="393.98" y2="143.50" stroke="#000" stroke-width="0.85" />
<line x1="395.66" y1="140.70" x2="395.66" y2="143.50" stroke="#000" stroke-width="0.85" />
<line x1="397.04" y1="140.70" x2="397.04" y2="143.50" stroke="#000" stroke-width="0.85" />
<line x1="398.20" y1="140.70" x2="398.20" y2="143.50" stroke="#000" stroke-width="0.85" />
<line x1="399.21" y1="140.70" x2="399.21" y2="143.50" stroke="#000" stroke-width="0.85" />
<line x1="400.10" y1="140.70" x2="400.10" y2="143.50" stroke="#000" stroke-width="0.85" />
<line x1="400.90" y1="140.70" x2="400.90" y2="144.30" stroke="#000" stroke-width="1.1" />
<line x1="406.14" y1="140.70" x2="406.14" y2="143.50" stroke="#000" stroke-width="0.85" />
<line x1="409.20" y1="140.70" x2="409.20" y2="143.50" stroke="#000" stroke-width="0.85" />
<line x1="411.38" y1="140.70" x2="411.38" y2="143.50" stroke="#000" stroke-width="0.85" />
<line x1="413.06" y1="140.70" x2="413.06" y2="143.50" stroke="#000" stroke-width="0.85" />
<text x="329.80" y="67.20" font-size="8.0" text-anchor="start" fill="#000" font-weight="bold" textLength="14.40" lengthAdjust="spacingAndGlyphs" stroke="#000" stroke-width="0.35">45.7</text>
<rect x="459.40" y="57.6" width="41.8" height="44.6" fill="none" stroke="#222" stroke-width="0.95"/>
<rect x="424.40" y="54.7" width="88.0" height="86.00" fill="none" stroke="#000" stroke-width="1.6"/>
<line x1="420.80" y1="132.80" x2="424.40" y2="132.80" stroke="#000" stroke-width="1.1" />
<line x1="421.80" y1="127.56" x2="424.40" y2="127.56" stroke="#000" stroke-width="0.85" />
<line x1="421.80" y1="124.50" x2="424.40" y2="124.50" stroke="#000" stroke-width="0.85" />
<line x1="421.80" y1="122.32" x2="424.40" y2="122.32" stroke="#000" stroke-width="0.85" />
<line x1="421.80" y1="120.64" x2="424.40" y2="120.64" stroke="#000" stroke-width="0.85" />
<line x1="421.80" y1="119.26" x2="424.40" y2="119.26" stroke="#000" stroke-width="0.85" />
<line x1="421.80" y1="118.10" x2="424.40" y2="118.10" stroke="#000" stroke-width="0.85" />
<line x1="421.80" y1="117.09" x2="424.40" y2="117.09" stroke="#000" stroke-width="0.85" />
<line x1="421.80" y1="116.20" x2="424.40" y2="116.20" stroke="#000" stroke-width="0.85" />
<line x1="420.80" y1="115.40" x2="424.40" y2="115.40" stroke="#000" stroke-width="1.1" />
<line x1="421.80" y1="110.16" x2="424.40" y2="110.16" stroke="#000" stroke-width="0.85" />
<line x1="421.80" y1="107.10" x2="424.40" y2="107.10" stroke="#000" stroke-width="0.85" />
<line x1="421.80" y1="104.92" x2="424.40" y2="104.92" stroke="#000" stroke-width="0.85" />
<line x1="421.80" y1="103.24" x2="424.40" y2="103.24" stroke="#000" stroke-width="0.85" />
<line x1="421.80" y1="101.86" x2="424.40" y2="101.86" stroke="#000" stroke-width="0.85" />
<line x1="421.80" y1="100.70" x2="424.40" y2="100.70" stroke="#000" stroke-width="0.85" />
<line x1="421.80" y1="99.69" x2="424.40" y2="99.69" stroke="#000" stroke-width="0.85" />
<line x1="421.80" y1="98.80" x2="424.40" y2="98.80" stroke="#000" stroke-width="0.85" />
<line x1="420.80" y1="98.00" x2="424.40" y2="98.00" stroke="#000" stroke-width="1.1" />
<line x1="421.80" y1="92.76" x2="424.40" y2="92.76" stroke="#000" stroke-width="0.85" />
<line x1="421.80" y1="89.70" x2="424.40" y2="89.70" stroke="#000" stroke-width="0.85" />
<line x1="421.80" y1="87.52" x2="424.40" y2="87.52" stroke="#000" stroke-width="0.85" />
<line x1="421.80" y1="85.84" x2="424.40" y2="85.84" stroke="#000" stroke-width="0.85" />
<line x1="421.80" y1="84.46" x2="424.40" y2="84.46" stroke="#000" stroke-width="0.85" />
<line x1="421.80" y1="83.30" x2="424.40" y2="83.30" stroke="#000" stroke-width="0.85" />
<line x1="421.80" y1="82.29" x2="424.40" y2="82.29" stroke="#000" stroke-width="0.85" />
<line x1="421.80" y1="81.40" x2="424.40" y2="81.40" stroke="#000" stroke-width="0.85" />
<line x1="420.80" y1="80.60" x2="424.40" y2="80.60" stroke="#000" stroke-width="1.1" />
<line x1="421.80" y1="75.36" x2="424.40" y2="75.36" stroke="#000" stroke-width="0.85" />
<line x1="421.80" y1="72.30" x2="424.40" y2="72.30" stroke="#000" stroke-width="0.85" />
<line x1="421.80" y1="70.12" x2="424.40" y2="70.12" stroke="#000" stroke-width="0.85" />
<line x1="421.80" y1="68.44" x2="424.40" y2="68.44" stroke="#000" stroke-width="0.85" />
<line x1="421.80" y1="67.06" x2="424.40" y2="67.06" stroke="#000" stroke-width="0.85" />
<line x1="421.80" y1="65.90" x2="424.40" y2="65.90" stroke="#000" stroke-width="0.85" />
<line x1="421.80" y1="64.89" x2="424.40" y2="64.89" stroke="#000" stroke-width="0.85" />
<line x1="421.80" y1="64.00" x2="424.40" y2="64.00" stroke="#000" stroke-width="0.85" />
<line x1="420.80" y1="63.20" x2="424.40" y2="63.20" stroke="#000" stroke-width="1.1" />
<line x1="421.80" y1="57.96" x2="424.40" y2="57.96" stroke="#000" stroke-width="0.85" />
<line x1="428.40" y1="140.70" x2="428.40" y2="144.30" stroke="#000" stroke-width="1.1" />
<line x1="433.64" y1="140.70" x2="433.64" y2="143.50" stroke="#000" stroke-width="0.85" />
<line x1="436.70" y1="140.70" x2="436.70" y2="143.50" stroke="#000" stroke-width="0.85" />
<line x1="438.88" y1="140.70" x2="438.88" y2="143.50" stroke="#000" stroke-width="0.85" />
<line x1="440.56" y1="140.70" x2="440.56" y2="143.50" stroke="#000" stroke-width="0.85" />
<line x1="441.94" y1="140.70" x2="441.94" y2="143.50" stroke="#000" stroke-width="0.85" />
<line x1="443.10" y1="140.70" x2="443.10" y2="143.50" stroke="#000" stroke-width="0.85" />
<line x1="444.11" y1="140.70" x2="444.11" y2="143.50" stroke="#000" stroke-width="0.85" />
<line x1="445.00" y1="140.70" x2="445.00" y2="143.50" stroke="#000" stroke-width="0.85" />
<line x1="445.80" y1="140.70" x2="445.80" y2="144.30" stroke="#000" stroke-width="1.1" />
<line x1="451.04" y1="140.70" x2="451.04" y2="143.50" stroke="#000" stroke-width="0.85" />
<line x1="454.10" y1="140.70" x2="454.10" y2="143.50" stroke="#000" stroke-width="0.85" />
<line x1="456.28" y1="140.70" x2="456.28" y2="143.50" stroke="#000" stroke-width="0.85" />
<line x1="457.96" y1="140.70" x2="457.96" y2="143.50" stroke="#000" stroke-width="0.85" />
<line x1="459.34" y1="140.70" x2="459.34" y2="143.50" stroke="#000" stroke-width="0.85" />
<line x1="460.50" y1="140.70" x2="460.50" y2="143.50" stroke="#000" stroke-width="0.85" />
<line x1="461.51" y1="140.70" x2="461.51" y2="143.50" stroke="#000" stroke-width="0.85" />
<line x1="462.40" y1="140.70" x2="462.40" y2="143.50" stroke="#000" stroke-width="0.85" />
<line x1="463.20" y1="140.70" x2="463.20" y2="144.30" stroke="#000" stroke-width="1.1" />
<line x1="468.44" y1="140.70" x2="468.44" y2="143.50" stroke="#000" stroke-width="0.85" />
<line x1="471.50" y1="140.70" x2="471.50" y2="143.50" stroke="#000" stroke-width="0.85" />
<line x1="473.68" y1="140.70" x2="473.68" y2="143.50" stroke="#000" stroke-width="0.85" />
<line x1="475.36" y1="140.70" x2="475.36" y2="143.50" stroke="#000" stroke-width="0.85" />
<line x1="476.74" y1="140.70" x2="476.74" y2="143.50" stroke="#000" stroke-width="0.85" />
<line x1="477.90" y1="140.70" x2="477.90" y2="143.50" stroke="#000" stroke-width="0.85" />
<line x1="478.91" y1="140.70" x2="478.91" y2="143.50" stroke="#000" stroke-width="0.85" />
<line x1="479.80" y1="140.70" x2="479.80" y2="143.50" stroke="#000" stroke-width="0.85" />
<line x1="480.60" y1="140.70" x2="480.60" y2="144.30" stroke="#000" stroke-width="1.1" />
<line x1="485.84" y1="140.70" x2="485.84" y2="143.50" stroke="#000" stroke-width="0.85" />
<line x1="488.90" y1="140.70" x2="488.90" y2="143.50" stroke="#000" stroke-width="0.85" />
<line x1="491.08" y1="140.70" x2="491.08" y2="143.50" stroke="#000" stroke-width="0.85" />
<line x1="492.76" y1="140.70" x2="492.76" y2="143.50" stroke="#000" stroke-width="0.85" />
<line x1="494.14" y1="140.70" x2="494.14" y2="143.50" stroke="#000" stroke-width="0.85" />
<line x1="495.30" y1="140.70" x2="495.30" y2="143.50" stroke="#000" stroke-width="0.85" />
<line x1="496.31" y1="140.70" x2="496.31" y2="143.50" stroke="#000" stroke-width="0.85" />
<line x1="497.20" y1="140.70" x2="497.20" y2="143.50" stroke="#000" stroke-width="0.85" />
<line x1="498.00" y1="140.70" x2="498.00" y2="144.30" stroke="#000" stroke-width="1.1" />
<line x1="503.24" y1="140.70" x2="503.24" y2="143.50" stroke="#000" stroke-width="0.85" />
<line x1="506.30" y1="140.70" x2="506.30" y2="143.50" stroke="#000" stroke-width="0.85" />
<line x1="508.48" y1="140.70" x2="508.48" y2="143.50" stroke="#000" stroke-width="0.85" />
<line x1="510.16" y1="140.70" x2="510.16" y2="143.50" stroke="#000" stroke-width="0.85" />
<text x="426.90" y="67.20" font-size="8.0" text-anchor="start" fill="#000" font-weight="bold" textLength="14.40" lengthAdjust="spacingAndGlyphs" stroke="#000" stroke-width="0.35">2.63</text>
<path d="M21.8 125 V154.3 H54" fill="none" stroke="#000" stroke-width="1.4"/>
<path d="M21.8 117.6 L18.0 126.4 L25.6 126.4 Z" fill="#000"/>
<path d="M61.4 154.3 L52.8 150.5 L52.8 158.1 Z" fill="#000"/>
<text transform="translate(25.40,108.10) rotate(-90)" x="0" y="0" font-size="10.8" text-anchor="middle" fill="#111" font-weight="bold" textLength="13.20" lengthAdjust="spacingAndGlyphs" >Ki67</text>
<text x="65.20" y="157.60" font-size="10.8" text-anchor="start" fill="#111" font-weight="bold" textLength="12.40" lengthAdjust="spacingAndGlyphs" >CD3</text>
<circle cx="51.40" cy="194.40" r="2.4" fill="#fff" stroke="#b01e3c" stroke-width="1.4"/>
<line x1="46.60" y1="194.40" x2="56.20" y2="194.40" stroke="#b01e3c" stroke-width="1.7" />
<text x="60.20" y="197.10" font-size="7.6" text-anchor="start" fill="#444" stroke="#444" stroke-width="0.15" textLength="8.10" lengthAdjust="spacingAndGlyphs" >Fit</text>
<rect x="49.00" y="202.50" width="4.8" height="4.8" fill="#fff" stroke="#2a416f" stroke-width="1.4"/>
<line x1="46.60" y1="204.90" x2="56.20" y2="204.90" stroke="#2a416f" stroke-width="1.7" />
<text x="60.20" y="207.60" font-size="7.6" text-anchor="start" fill="#444" stroke="#444" stroke-width="0.15" textLength="35.70" lengthAdjust="spacingAndGlyphs" >Senescent</text>
<circle cx="104.50" cy="194.40" r="2.7" fill="#34204f"/>
<line x1="99.70" y1="194.40" x2="109.30" y2="194.40" stroke="#34204f" stroke-width="1.7" />
<text x="113.30" y="197.10" font-size="7.6" text-anchor="start" fill="#444" stroke="#444" stroke-width="0.15" textLength="25.60" lengthAdjust="spacingAndGlyphs" >IFN&#947; Fit</text>
<rect x="101.80" y="202.20" width="5.4" height="5.4" fill="#e99c2c"/>
<line x1="99.70" y1="204.90" x2="109.30" y2="204.90" stroke="#e99c2c" stroke-width="1.7" />
<text x="113.30" y="207.60" font-size="7.6" text-anchor="start" fill="#444" stroke="#444" stroke-width="0.15" textLength="54.10" lengthAdjust="spacingAndGlyphs" >IFN&#947; Senescent</text>
<line x1="52.60" y1="218.10" x2="52.60" y2="293.50" stroke="#000" stroke-width="1.7" />
<line x1="49.20" y1="292.70" x2="160.50" y2="292.70" stroke="#000" stroke-width="1.7" />
<line x1="49.00" y1="292.70" x2="52.60" y2="292.70" stroke="#000" stroke-width="1.3" />
<text x="45.80" y="295.60" font-size="8.4" text-anchor="end" fill="#2a2a2a" stroke="#2a2a2a" stroke-width="0.15" >0</text>
<line x1="49.00" y1="278.30" x2="52.60" y2="278.30" stroke="#000" stroke-width="1.3" />
<text x="45.80" y="281.20" font-size="8.4" text-anchor="end" fill="#2a2a2a" stroke="#2a2a2a" stroke-width="0.15" >20</text>
<line x1="49.00" y1="263.90" x2="52.60" y2="263.90" stroke="#000" stroke-width="1.3" />
<text x="45.80" y="266.80" font-size="8.4" text-anchor="end" fill="#2a2a2a" stroke="#2a2a2a" stroke-width="0.15" >40</text>
<line x1="49.00" y1="249.50" x2="52.60" y2="249.50" stroke="#000" stroke-width="1.3" />
<text x="45.80" y="252.40" font-size="8.4" text-anchor="end" fill="#2a2a2a" stroke="#2a2a2a" stroke-width="0.15" >60</text>
<line x1="49.00" y1="235.10" x2="52.60" y2="235.10" stroke="#000" stroke-width="1.3" />
<text x="45.80" y="238.00" font-size="8.4" text-anchor="end" fill="#2a2a2a" stroke="#2a2a2a" stroke-width="0.15" >80</text>
<line x1="49.00" y1="220.70" x2="52.60" y2="220.70" stroke="#000" stroke-width="1.3" />
<text x="45.80" y="223.60" font-size="8.4" text-anchor="end" fill="#2a2a2a" stroke="#2a2a2a" stroke-width="0.15" >100</text>
<line x1="65.90" y1="292.70" x2="65.90" y2="295.90" stroke="#000" stroke-width="1.3" />
<text x="65.90" y="306.40" font-size="8.3" text-anchor="middle" fill="#2a2a2a" stroke="#2a2a2a" stroke-width="0.15" textLength="4.80" lengthAdjust="spacingAndGlyphs" >0</text>
<line x1="92.90" y1="292.70" x2="92.90" y2="295.90" stroke="#000" stroke-width="1.3" />
<text x="92.90" y="306.40" font-size="8.3" text-anchor="middle" fill="#2a2a2a" stroke="#2a2a2a" stroke-width="0.15" textLength="16.40" lengthAdjust="spacingAndGlyphs" >1:16</text>
<line x1="120.00" y1="292.70" x2="120.00" y2="295.90" stroke="#000" stroke-width="1.3" />
<text x="120.00" y="306.40" font-size="8.3" text-anchor="middle" fill="#2a2a2a" stroke="#2a2a2a" stroke-width="0.15" textLength="12.20" lengthAdjust="spacingAndGlyphs" >1:8</text>
<line x1="147.00" y1="292.70" x2="147.00" y2="295.90" stroke="#000" stroke-width="1.3" />
<text x="147.00" y="306.40" font-size="8.3" text-anchor="middle" fill="#2a2a2a" stroke="#2a2a2a" stroke-width="0.15" textLength="12.20" lengthAdjust="spacingAndGlyphs" >1:4</text>
<text transform="translate(25.60,248.10) rotate(-90)" x="0" y="0" font-size="9.6" text-anchor="middle" fill="#1a1a1a" font-weight="bold" textLength="46.30" lengthAdjust="spacingAndGlyphs" >% CD3+ Ki67+</text>
<text transform="translate(172.10,248.50) rotate(-90)" x="0" y="0" font-size="8.6" text-anchor="middle" fill="#1a1a1a" stroke="#1a1a1a" stroke-width="0.15" textLength="31.00" lengthAdjust="spacingAndGlyphs" >Donor #1</text>
<rect x="63.50" y="229.10" width="4.8" height="4.8" fill="#fff" stroke="#2a416f" stroke-width="1.4"/>
<rect x="90.50" y="227.66" width="4.8" height="4.8" fill="#fff" stroke="#2a416f" stroke-width="1.4"/>
<rect x="117.60" y="231.98" width="4.8" height="4.8" fill="#fff" stroke="#2a416f" stroke-width="1.4"/>
<rect x="144.60" y="242.78" width="4.8" height="4.8" fill="#fff" stroke="#2a416f" stroke-width="1.4"/>
<polyline points="65.90,231.50 92.90,230.06 120.00,234.38 147.00,245.18" fill="none" stroke="#2a416f" stroke-width="1.8" stroke-linejoin="round"/>
<circle cx="65.90" cy="232.94" r="2.4" fill="#fff" stroke="#b01e3c" stroke-width="1.4"/>
<circle cx="92.90" cy="233.66" r="2.4" fill="#fff" stroke="#b01e3c" stroke-width="1.4"/>
<circle cx="120.00" cy="248.78" r="2.4" fill="#fff" stroke="#b01e3c" stroke-width="1.4"/>
<circle cx="147.00" cy="273.98" r="2.4" fill="#fff" stroke="#b01e3c" stroke-width="1.4"/>
<polyline points="65.90,232.94 92.90,233.66 120.00,248.78 147.00,273.98" fill="none" stroke="#b01e3c" stroke-width="1.8" stroke-linejoin="round"/>
<circle cx="65.90" cy="232.94" r="2.7" fill="#34204f"/>
<circle cx="92.90" cy="246.62" r="2.7" fill="#34204f"/>
<circle cx="120.00" cy="267.50" r="2.7" fill="#34204f"/>
<circle cx="147.00" cy="279.74" r="2.7" fill="#34204f"/>
<polyline points="65.90,232.94 92.90,246.62 120.00,267.50 147.00,279.74" fill="none" stroke="#34204f" stroke-width="1.8" stroke-linejoin="round"/>
<rect x="63.20" y="228.08" width="5.4" height="5.4" fill="#e99c2c"/>
<rect x="90.20" y="227.36" width="5.4" height="5.4" fill="#e99c2c"/>
<rect x="117.30" y="246.80" width="5.4" height="5.4" fill="#e99c2c"/>
<rect x="144.30" y="267.68" width="5.4" height="5.4" fill="#e99c2c"/>
<polyline points="65.90,230.78 92.90,230.06 120.00,249.50 147.00,270.38" fill="none" stroke="#e99c2c" stroke-width="1.8" stroke-linejoin="round"/>
<line x1="52.60" y1="313.55" x2="52.60" y2="388.95" stroke="#000" stroke-width="1.7" />
<line x1="49.20" y1="388.15" x2="160.50" y2="388.15" stroke="#000" stroke-width="1.7" />
<line x1="49.00" y1="388.15" x2="52.60" y2="388.15" stroke="#000" stroke-width="1.3" />
<text x="45.80" y="391.05" font-size="8.4" text-anchor="end" fill="#2a2a2a" stroke="#2a2a2a" stroke-width="0.15" >0</text>
<line x1="49.00" y1="373.75" x2="52.60" y2="373.75" stroke="#000" stroke-width="1.3" />
<text x="45.80" y="376.65" font-size="8.4" text-anchor="end" fill="#2a2a2a" stroke="#2a2a2a" stroke-width="0.15" >20</text>
<line x1="49.00" y1="359.35" x2="52.60" y2="359.35" stroke="#000" stroke-width="1.3" />
<text x="45.80" y="362.25" font-size="8.4" text-anchor="end" fill="#2a2a2a" stroke="#2a2a2a" stroke-width="0.15" >40</text>
<line x1="49.00" y1="344.95" x2="52.60" y2="344.95" stroke="#000" stroke-width="1.3" />
<text x="45.80" y="347.85" font-size="8.4" text-anchor="end" fill="#2a2a2a" stroke="#2a2a2a" stroke-width="0.15" >60</text>
<line x1="49.00" y1="330.55" x2="52.60" y2="330.55" stroke="#000" stroke-width="1.3" />
<text x="45.80" y="333.45" font-size="8.4" text-anchor="end" fill="#2a2a2a" stroke="#2a2a2a" stroke-width="0.15" >80</text>
<line x1="49.00" y1="316.15" x2="52.60" y2="316.15" stroke="#000" stroke-width="1.3" />
<text x="45.80" y="319.05" font-size="8.4" text-anchor="end" fill="#2a2a2a" stroke="#2a2a2a" stroke-width="0.15" >100</text>
<line x1="65.90" y1="388.15" x2="65.90" y2="391.35" stroke="#000" stroke-width="1.3" />
<text x="65.90" y="401.85" font-size="8.3" text-anchor="middle" fill="#2a2a2a" stroke="#2a2a2a" stroke-width="0.15" textLength="4.80" lengthAdjust="spacingAndGlyphs" >0</text>
<line x1="92.90" y1="388.15" x2="92.90" y2="391.35" stroke="#000" stroke-width="1.3" />
<text x="92.90" y="401.85" font-size="8.3" text-anchor="middle" fill="#2a2a2a" stroke="#2a2a2a" stroke-width="0.15" textLength="16.40" lengthAdjust="spacingAndGlyphs" >1:16</text>
<line x1="120.00" y1="388.15" x2="120.00" y2="391.35" stroke="#000" stroke-width="1.3" />
<text x="120.00" y="401.85" font-size="8.3" text-anchor="middle" fill="#2a2a2a" stroke="#2a2a2a" stroke-width="0.15" textLength="12.20" lengthAdjust="spacingAndGlyphs" >1:8</text>
<line x1="147.00" y1="388.15" x2="147.00" y2="391.35" stroke="#000" stroke-width="1.3" />
<text x="147.00" y="401.85" font-size="8.3" text-anchor="middle" fill="#2a2a2a" stroke="#2a2a2a" stroke-width="0.15" textLength="12.20" lengthAdjust="spacingAndGlyphs" >1:4</text>
<text transform="translate(25.60,343.55) rotate(-90)" x="0" y="0" font-size="9.6" text-anchor="middle" fill="#1a1a1a" font-weight="bold" textLength="46.30" lengthAdjust="spacingAndGlyphs" >% CD3+ Ki67+</text>
<text transform="translate(172.10,343.95) rotate(-90)" x="0" y="0" font-size="8.6" text-anchor="middle" fill="#1a1a1a" stroke="#1a1a1a" stroke-width="0.15" textLength="31.00" lengthAdjust="spacingAndGlyphs" >Donor #2</text>
<rect x="63.50" y="326.71" width="4.8" height="4.8" fill="#fff" stroke="#2a416f" stroke-width="1.4"/>
<rect x="90.50" y="327.43" width="4.8" height="4.8" fill="#fff" stroke="#2a416f" stroke-width="1.4"/>
<rect x="117.60" y="336.79" width="4.8" height="4.8" fill="#fff" stroke="#2a416f" stroke-width="1.4"/>
<rect x="144.60" y="341.83" width="4.8" height="4.8" fill="#fff" stroke="#2a416f" stroke-width="1.4"/>
<polyline points="65.90,329.11 92.90,329.83 120.00,339.19 147.00,344.23" fill="none" stroke="#2a416f" stroke-width="1.8" stroke-linejoin="round"/>
<circle cx="65.90" cy="328.39" r="2.4" fill="#fff" stroke="#b01e3c" stroke-width="1.4"/>
<circle cx="92.90" cy="326.95" r="2.4" fill="#fff" stroke="#b01e3c" stroke-width="1.4"/>
<circle cx="120.00" cy="342.07" r="2.4" fill="#fff" stroke="#b01e3c" stroke-width="1.4"/>
<circle cx="147.00" cy="364.39" r="2.4" fill="#fff" stroke="#b01e3c" stroke-width="1.4"/>
<polyline points="65.90,328.39 92.90,326.95 120.00,342.07 147.00,364.39" fill="none" stroke="#b01e3c" stroke-width="1.8" stroke-linejoin="round"/>
<circle cx="65.90" cy="328.39" r="2.7" fill="#34204f"/>
<circle cx="92.90" cy="367.27" r="2.7" fill="#34204f"/>
<circle cx="120.00" cy="380.23" r="2.7" fill="#34204f"/>
<circle cx="147.00" cy="385.99" r="2.7" fill="#34204f"/>
<polyline points="65.90,328.39 92.90,367.27 120.00,380.23 147.00,385.99" fill="none" stroke="#34204f" stroke-width="1.8" stroke-linejoin="round"/>
<rect x="63.20" y="326.41" width="5.4" height="5.4" fill="#e99c2c"/>
<rect x="90.20" y="332.17" width="5.4" height="5.4" fill="#e99c2c"/>
<rect x="117.30" y="355.21" width="5.4" height="5.4" fill="#e99c2c"/>
<rect x="144.30" y="358.81" width="5.4" height="5.4" fill="#e99c2c"/>
<polyline points="65.90,329.11 92.90,334.87 120.00,357.91 147.00,361.51" fill="none" stroke="#e99c2c" stroke-width="1.8" stroke-linejoin="round"/>
<line x1="52.60" y1="409.00" x2="52.60" y2="484.40" stroke="#000" stroke-width="1.7" />
<line x1="49.20" y1="483.60" x2="160.50" y2="483.60" stroke="#000" stroke-width="1.7" />
<line x1="49.00" y1="483.60" x2="52.60" y2="483.60" stroke="#000" stroke-width="1.3" />
<text x="45.80" y="486.50" font-size="8.4" text-anchor="end" fill="#2a2a2a" stroke="#2a2a2a" stroke-width="0.15" >0</text>
<line x1="49.00" y1="469.20" x2="52.60" y2="469.20" stroke="#000" stroke-width="1.3" />
<text x="45.80" y="472.10" font-size="8.4" text-anchor="end" fill="#2a2a2a" stroke="#2a2a2a" stroke-width="0.15" >20</text>
<line x1="49.00" y1="454.80" x2="52.60" y2="454.80" stroke="#000" stroke-width="1.3" />
<text x="45.80" y="457.70" font-size="8.4" text-anchor="end" fill="#2a2a2a" stroke="#2a2a2a" stroke-width="0.15" >40</text>
<line x1="49.00" y1="440.40" x2="52.60" y2="440.40" stroke="#000" stroke-width="1.3" />
<text x="45.80" y="443.30" font-size="8.4" text-anchor="end" fill="#2a2a2a" stroke="#2a2a2a" stroke-width="0.15" >60</text>
<line x1="49.00" y1="426.00" x2="52.60" y2="426.00" stroke="#000" stroke-width="1.3" />
<text x="45.80" y="428.90" font-size="8.4" text-anchor="end" fill="#2a2a2a" stroke="#2a2a2a" stroke-width="0.15" >80</text>
<line x1="49.00" y1="411.60" x2="52.60" y2="411.60" stroke="#000" stroke-width="1.3" />
<text x="45.80" y="414.50" font-size="8.4" text-anchor="end" fill="#2a2a2a" stroke="#2a2a2a" stroke-width="0.15" >100</text>
<line x1="65.90" y1="483.60" x2="65.90" y2="486.80" stroke="#000" stroke-width="1.3" />
<text x="65.90" y="497.30" font-size="8.3" text-anchor="middle" fill="#2a2a2a" stroke="#2a2a2a" stroke-width="0.15" textLength="4.80" lengthAdjust="spacingAndGlyphs" >0</text>
<line x1="92.90" y1="483.60" x2="92.90" y2="486.80" stroke="#000" stroke-width="1.3" />
<text x="92.90" y="497.30" font-size="8.3" text-anchor="middle" fill="#2a2a2a" stroke="#2a2a2a" stroke-width="0.15" textLength="16.40" lengthAdjust="spacingAndGlyphs" >1:16</text>
<line x1="120.00" y1="483.60" x2="120.00" y2="486.80" stroke="#000" stroke-width="1.3" />
<text x="120.00" y="497.30" font-size="8.3" text-anchor="middle" fill="#2a2a2a" stroke="#2a2a2a" stroke-width="0.15" textLength="12.20" lengthAdjust="spacingAndGlyphs" >1:8</text>
<line x1="147.00" y1="483.60" x2="147.00" y2="486.80" stroke="#000" stroke-width="1.3" />
<text x="147.00" y="497.30" font-size="8.3" text-anchor="middle" fill="#2a2a2a" stroke="#2a2a2a" stroke-width="0.15" textLength="12.20" lengthAdjust="spacingAndGlyphs" >1:4</text>
<text transform="translate(25.60,439.00) rotate(-90)" x="0" y="0" font-size="9.6" text-anchor="middle" fill="#1a1a1a" font-weight="bold" textLength="46.30" lengthAdjust="spacingAndGlyphs" >% CD3+ Ki67+</text>
<text transform="translate(172.10,439.40) rotate(-90)" x="0" y="0" font-size="8.6" text-anchor="middle" fill="#1a1a1a" stroke="#1a1a1a" stroke-width="0.15" textLength="31.00" lengthAdjust="spacingAndGlyphs" >Donor #3</text>
<rect x="63.50" y="418.56" width="4.8" height="4.8" fill="#fff" stroke="#2a416f" stroke-width="1.4"/>
<rect x="90.50" y="428.64" width="4.8" height="4.8" fill="#fff" stroke="#2a416f" stroke-width="1.4"/>
<rect x="117.60" y="449.52" width="4.8" height="4.8" fill="#fff" stroke="#2a416f" stroke-width="1.4"/>
<rect x="144.60" y="454.56" width="4.8" height="4.8" fill="#fff" stroke="#2a416f" stroke-width="1.4"/>
<polyline points="65.90,420.96 92.90,431.04 120.00,451.92 147.00,456.96" fill="none" stroke="#2a416f" stroke-width="1.8" stroke-linejoin="round"/>
<circle cx="65.90" cy="422.40" r="2.4" fill="#fff" stroke="#b01e3c" stroke-width="1.4"/>
<circle cx="92.90" cy="447.60" r="2.4" fill="#fff" stroke="#b01e3c" stroke-width="1.4"/>
<circle cx="120.00" cy="459.84" r="2.4" fill="#fff" stroke="#b01e3c" stroke-width="1.4"/>
<circle cx="147.00" cy="472.08" r="2.4" fill="#fff" stroke="#b01e3c" stroke-width="1.4"/>
<polyline points="65.90,422.40 92.90,447.60 120.00,459.84 147.00,472.08" fill="none" stroke="#b01e3c" stroke-width="1.8" stroke-linejoin="round"/>
<circle cx="65.90" cy="421.68" r="2.7" fill="#34204f"/>
<circle cx="92.90" cy="471.36" r="2.7" fill="#34204f"/>
<circle cx="120.00" cy="481.44" r="2.7" fill="#34204f"/>
<circle cx="147.00" cy="482.88" r="2.7" fill="#34204f"/>
<polyline points="65.90,421.68 92.90,471.36 120.00,481.44 147.00,482.88" fill="none" stroke="#34204f" stroke-width="1.8" stroke-linejoin="round"/>
<rect x="63.20" y="420.42" width="5.4" height="5.4" fill="#e99c2c"/>
<rect x="90.20" y="455.70" width="5.4" height="5.4" fill="#e99c2c"/>
<rect x="117.30" y="472.26" width="5.4" height="5.4" fill="#e99c2c"/>
<rect x="144.30" y="479.46" width="5.4" height="5.4" fill="#e99c2c"/>
<polyline points="65.90,423.12 92.90,458.40 120.00,474.96 147.00,482.16" fill="none" stroke="#e99c2c" stroke-width="1.8" stroke-linejoin="round"/>
<line x1="52.60" y1="504.45" x2="52.60" y2="579.85" stroke="#000" stroke-width="1.7" />
<line x1="49.20" y1="579.05" x2="160.50" y2="579.05" stroke="#000" stroke-width="1.7" />
<line x1="49.00" y1="579.05" x2="52.60" y2="579.05" stroke="#000" stroke-width="1.3" />
<text x="45.80" y="581.95" font-size="8.4" text-anchor="end" fill="#2a2a2a" stroke="#2a2a2a" stroke-width="0.15" >0</text>
<line x1="49.00" y1="564.65" x2="52.60" y2="564.65" stroke="#000" stroke-width="1.3" />
<text x="45.80" y="567.55" font-size="8.4" text-anchor="end" fill="#2a2a2a" stroke="#2a2a2a" stroke-width="0.15" >20</text>
<line x1="49.00" y1="550.25" x2="52.60" y2="550.25" stroke="#000" stroke-width="1.3" />
<text x="45.80" y="553.15" font-size="8.4" text-anchor="end" fill="#2a2a2a" stroke="#2a2a2a" stroke-width="0.15" >40</text>
<line x1="49.00" y1="535.85" x2="52.60" y2="535.85" stroke="#000" stroke-width="1.3" />
<text x="45.80" y="538.75" font-size="8.4" text-anchor="end" fill="#2a2a2a" stroke="#2a2a2a" stroke-width="0.15" >60</text>
<line x1="49.00" y1="521.45" x2="52.60" y2="521.45" stroke="#000" stroke-width="1.3" />
<text x="45.80" y="524.35" font-size="8.4" text-anchor="end" fill="#2a2a2a" stroke="#2a2a2a" stroke-width="0.15" >80</text>
<line x1="49.00" y1="507.05" x2="52.60" y2="507.05" stroke="#000" stroke-width="1.3" />
<text x="45.80" y="509.95" font-size="8.4" text-anchor="end" fill="#2a2a2a" stroke="#2a2a2a" stroke-width="0.15" >100</text>
<line x1="65.90" y1="579.05" x2="65.90" y2="582.25" stroke="#000" stroke-width="1.3" />
<text x="65.90" y="592.75" font-size="8.3" text-anchor="middle" fill="#2a2a2a" stroke="#2a2a2a" stroke-width="0.15" textLength="4.80" lengthAdjust="spacingAndGlyphs" >0</text>
<line x1="92.90" y1="579.05" x2="92.90" y2="582.25" stroke="#000" stroke-width="1.3" />
<text x="92.90" y="592.75" font-size="8.3" text-anchor="middle" fill="#2a2a2a" stroke="#2a2a2a" stroke-width="0.15" textLength="16.40" lengthAdjust="spacingAndGlyphs" >1:16</text>
<line x1="120.00" y1="579.05" x2="120.00" y2="582.25" stroke="#000" stroke-width="1.3" />
<text x="120.00" y="592.75" font-size="8.3" text-anchor="middle" fill="#2a2a2a" stroke="#2a2a2a" stroke-width="0.15" textLength="12.20" lengthAdjust="spacingAndGlyphs" >1:8</text>
<line x1="147.00" y1="579.05" x2="147.00" y2="582.25" stroke="#000" stroke-width="1.3" />
<text x="147.00" y="592.75" font-size="8.3" text-anchor="middle" fill="#2a2a2a" stroke="#2a2a2a" stroke-width="0.15" textLength="12.20" lengthAdjust="spacingAndGlyphs" >1:4</text>
<text transform="translate(25.60,534.45) rotate(-90)" x="0" y="0" font-size="9.6" text-anchor="middle" fill="#1a1a1a" font-weight="bold" textLength="46.30" lengthAdjust="spacingAndGlyphs" >% CD3+ Ki67+</text>
<text transform="translate(172.10,534.85) rotate(-90)" x="0" y="0" font-size="8.6" text-anchor="middle" fill="#1a1a1a" stroke="#1a1a1a" stroke-width="0.15" textLength="31.00" lengthAdjust="spacingAndGlyphs" >Donor #4</text>
<rect x="63.50" y="521.93" width="4.8" height="4.8" fill="#fff" stroke="#2a416f" stroke-width="1.4"/>
<rect x="90.50" y="525.53" width="4.8" height="4.8" fill="#fff" stroke="#2a416f" stroke-width="1.4"/>
<rect x="117.60" y="544.97" width="4.8" height="4.8" fill="#fff" stroke="#2a416f" stroke-width="1.4"/>
<rect x="144.60" y="558.65" width="4.8" height="4.8" fill="#fff" stroke="#2a416f" stroke-width="1.4"/>
<polyline points="65.90,524.33 92.90,527.93 120.00,547.37 147.00,561.05" fill="none" stroke="#2a416f" stroke-width="1.8" stroke-linejoin="round"/>
<circle cx="65.90" cy="524.33" r="2.4" fill="#fff" stroke="#b01e3c" stroke-width="1.4"/>
<circle cx="92.90" cy="558.17" r="2.4" fill="#fff" stroke="#b01e3c" stroke-width="1.4"/>
<circle cx="120.00" cy="566.09" r="2.4" fill="#fff" stroke="#b01e3c" stroke-width="1.4"/>
<circle cx="147.00" cy="571.13" r="2.4" fill="#fff" stroke="#b01e3c" stroke-width="1.4"/>
<polyline points="65.90,524.33 92.90,558.17 120.00,566.09 147.00,571.13" fill="none" stroke="#b01e3c" stroke-width="1.8" stroke-linejoin="round"/>
<circle cx="65.90" cy="524.33" r="2.7" fill="#34204f"/>
<circle cx="92.90" cy="563.21" r="2.7" fill="#34204f"/>
<circle cx="120.00" cy="569.69" r="2.7" fill="#34204f"/>
<circle cx="147.00" cy="575.45" r="2.7" fill="#34204f"/>
<polyline points="65.90,524.33 92.90,563.21 120.00,569.69 147.00,575.45" fill="none" stroke="#34204f" stroke-width="1.8" stroke-linejoin="round"/>
<rect x="63.20" y="522.35" width="5.4" height="5.4" fill="#e99c2c"/>
<rect x="90.20" y="543.23" width="5.4" height="5.4" fill="#e99c2c"/>
<rect x="117.30" y="562.67" width="5.4" height="5.4" fill="#e99c2c"/>
<rect x="144.30" y="567.71" width="5.4" height="5.4" fill="#e99c2c"/>
<polyline points="65.90,525.05 92.90,545.93 120.00,565.37 147.00,570.41" fill="none" stroke="#e99c2c" stroke-width="1.8" stroke-linejoin="round"/>
<line x1="52.60" y1="599.90" x2="52.60" y2="675.30" stroke="#000" stroke-width="1.7" />
<line x1="49.20" y1="674.50" x2="160.50" y2="674.50" stroke="#000" stroke-width="1.7" />
<line x1="49.00" y1="674.50" x2="52.60" y2="674.50" stroke="#000" stroke-width="1.3" />
<text x="45.80" y="677.40" font-size="8.4" text-anchor="end" fill="#2a2a2a" stroke="#2a2a2a" stroke-width="0.15" >0</text>
<line x1="49.00" y1="660.10" x2="52.60" y2="660.10" stroke="#000" stroke-width="1.3" />
<text x="45.80" y="663.00" font-size="8.4" text-anchor="end" fill="#2a2a2a" stroke="#2a2a2a" stroke-width="0.15" >20</text>
<line x1="49.00" y1="645.70" x2="52.60" y2="645.70" stroke="#000" stroke-width="1.3" />
<text x="45.80" y="648.60" font-size="8.4" text-anchor="end" fill="#2a2a2a" stroke="#2a2a2a" stroke-width="0.15" >40</text>
<line x1="49.00" y1="631.30" x2="52.60" y2="631.30" stroke="#000" stroke-width="1.3" />
<text x="45.80" y="634.20" font-size="8.4" text-anchor="end" fill="#2a2a2a" stroke="#2a2a2a" stroke-width="0.15" >60</text>
<line x1="49.00" y1="616.90" x2="52.60" y2="616.90" stroke="#000" stroke-width="1.3" />
<text x="45.80" y="619.80" font-size="8.4" text-anchor="end" fill="#2a2a2a" stroke="#2a2a2a" stroke-width="0.15" >80</text>
<line x1="49.00" y1="602.50" x2="52.60" y2="602.50" stroke="#000" stroke-width="1.3" />
<text x="45.80" y="605.40" font-size="8.4" text-anchor="end" fill="#2a2a2a" stroke="#2a2a2a" stroke-width="0.15" >100</text>
<line x1="65.90" y1="674.50" x2="65.90" y2="677.70" stroke="#000" stroke-width="1.3" />
<text x="65.90" y="688.20" font-size="8.3" text-anchor="middle" fill="#2a2a2a" stroke="#2a2a2a" stroke-width="0.15" textLength="4.80" lengthAdjust="spacingAndGlyphs" >0</text>
<line x1="92.90" y1="674.50" x2="92.90" y2="677.70" stroke="#000" stroke-width="1.3" />
<text x="92.90" y="688.20" font-size="8.3" text-anchor="middle" fill="#2a2a2a" stroke="#2a2a2a" stroke-width="0.15" textLength="16.40" lengthAdjust="spacingAndGlyphs" >1:16</text>
<line x1="120.00" y1="674.50" x2="120.00" y2="677.70" stroke="#000" stroke-width="1.3" />
<text x="120.00" y="688.20" font-size="8.3" text-anchor="middle" fill="#2a2a2a" stroke="#2a2a2a" stroke-width="0.15" textLength="12.20" lengthAdjust="spacingAndGlyphs" >1:8</text>
<line x1="147.00" y1="674.50" x2="147.00" y2="677.70" stroke="#000" stroke-width="1.3" />
<text x="147.00" y="688.20" font-size="8.3" text-anchor="middle" fill="#2a2a2a" stroke="#2a2a2a" stroke-width="0.15" textLength="12.20" lengthAdjust="spacingAndGlyphs" >1:4</text>
<text transform="translate(25.60,629.90) rotate(-90)" x="0" y="0" font-size="9.6" text-anchor="middle" fill="#1a1a1a" font-weight="bold" textLength="46.30" lengthAdjust="spacingAndGlyphs" >% CD3+ Ki67+</text>
<text transform="translate(172.10,630.30) rotate(-90)" x="0" y="0" font-size="8.6" text-anchor="middle" fill="#1a1a1a" stroke="#1a1a1a" stroke-width="0.15" textLength="31.00" lengthAdjust="spacingAndGlyphs" >Donor #5</text>
<rect x="63.50" y="620.26" width="4.8" height="4.8" fill="#fff" stroke="#2a416f" stroke-width="1.4"/>
<rect x="90.50" y="633.94" width="4.8" height="4.8" fill="#fff" stroke="#2a416f" stroke-width="1.4"/>
<rect x="117.60" y="651.94" width="4.8" height="4.8" fill="#fff" stroke="#2a416f" stroke-width="1.4"/>
<rect x="144.60" y="659.14" width="4.8" height="4.8" fill="#fff" stroke="#2a416f" stroke-width="1.4"/>
<polyline points="65.90,622.66 92.90,636.34 120.00,654.34 147.00,661.54" fill="none" stroke="#2a416f" stroke-width="1.8" stroke-linejoin="round"/>
<circle cx="65.90" cy="620.50" r="2.4" fill="#fff" stroke="#b01e3c" stroke-width="1.4"/>
<circle cx="92.90" cy="661.54" r="2.4" fill="#fff" stroke="#b01e3c" stroke-width="1.4"/>
<circle cx="120.00" cy="667.30" r="2.4" fill="#fff" stroke="#b01e3c" stroke-width="1.4"/>
<circle cx="147.00" cy="670.90" r="2.4" fill="#fff" stroke="#b01e3c" stroke-width="1.4"/>
<polyline points="65.90,620.50 92.90,661.54 120.00,667.30 147.00,670.90" fill="none" stroke="#b01e3c" stroke-width="1.8" stroke-linejoin="round"/>
<circle cx="65.90" cy="618.34" r="2.7" fill="#34204f"/>
<circle cx="92.90" cy="666.58" r="2.7" fill="#34204f"/>
<circle cx="120.00" cy="671.62" r="2.7" fill="#34204f"/>
<circle cx="147.00" cy="672.34" r="2.7" fill="#34204f"/>
<polyline points="65.90,618.34 92.90,666.58 120.00,671.62 147.00,672.34" fill="none" stroke="#34204f" stroke-width="1.8" stroke-linejoin="round"/>
<rect x="63.20" y="619.24" width="5.4" height="5.4" fill="#e99c2c"/>
<rect x="90.20" y="657.40" width="5.4" height="5.4" fill="#e99c2c"/>
<rect x="117.30" y="667.48" width="5.4" height="5.4" fill="#e99c2c"/>
<rect x="144.30" y="667.48" width="5.4" height="5.4" fill="#e99c2c"/>
<polyline points="65.90,621.94 92.90,660.10 120.00,670.18 147.00,670.18" fill="none" stroke="#e99c2c" stroke-width="1.8" stroke-linejoin="round"/>
<text x="106.30" y="703.50" font-size="10" text-anchor="middle" fill="#1a1a1a" font-weight="bold" textLength="52.60" lengthAdjust="spacingAndGlyphs" >MSC:PBMC ratio</text>
<line x1="252.30" y1="196.00" x2="252.30" y2="285.60" stroke="#000" stroke-width="1.7" />
<line x1="249.00" y1="284.80" x2="382.30" y2="284.80" stroke="#000" stroke-width="1.7" />
<line x1="248.80" y1="284.80" x2="252.30" y2="284.80" stroke="#000" stroke-width="1.3" />
<text x="240.00" y="287.80" font-size="8.4" text-anchor="end" fill="#2a2a2a" stroke="#2a2a2a" stroke-width="0.15" >10</text>
<text x="240.40" y="283.90" font-size="5.6" text-anchor="start" fill="#333" stroke="#333" stroke-width="0.15" >-1</text>
<line x1="248.80" y1="274.01" x2="252.30" y2="274.01" stroke="#000" stroke-width="1.3" />
<text x="240.00" y="277.01" font-size="8.4" text-anchor="end" fill="#2a2a2a" stroke="#2a2a2a" stroke-width="0.15" >10</text>
<text x="240.40" y="273.11" font-size="5.6" text-anchor="start" fill="#333" stroke="#333" stroke-width="0.15" >0</text>
<line x1="248.80" y1="263.22" x2="252.30" y2="263.22" stroke="#000" stroke-width="1.3" />
<text x="240.00" y="266.22" font-size="8.4" text-anchor="end" fill="#2a2a2a" stroke="#2a2a2a" stroke-width="0.15" >10</text>
<text x="240.40" y="262.32" font-size="5.6" text-anchor="start" fill="#333" stroke="#333" stroke-width="0.15" >1</text>
<line x1="248.80" y1="252.43" x2="252.30" y2="252.43" stroke="#000" stroke-width="1.3" />
<text x="240.00" y="255.43" font-size="8.4" text-anchor="end" fill="#2a2a2a" stroke="#2a2a2a" stroke-width="0.15" >10</text>
<text x="240.40" y="251.53" font-size="5.6" text-anchor="start" fill="#333" stroke="#333" stroke-width="0.15" >2</text>
<line x1="248.80" y1="241.64" x2="252.30" y2="241.64" stroke="#000" stroke-width="1.3" />
<text x="240.00" y="244.64" font-size="8.4" text-anchor="end" fill="#2a2a2a" stroke="#2a2a2a" stroke-width="0.15" >10</text>
<text x="240.40" y="240.74" font-size="5.6" text-anchor="start" fill="#333" stroke="#333" stroke-width="0.15" >3</text>
<line x1="248.80" y1="230.85" x2="252.30" y2="230.85" stroke="#000" stroke-width="1.3" />
<text x="240.00" y="233.85" font-size="8.4" text-anchor="end" fill="#2a2a2a" stroke="#2a2a2a" stroke-width="0.15" >10</text>
<text x="240.40" y="229.95" font-size="5.6" text-anchor="start" fill="#333" stroke="#333" stroke-width="0.15" >4</text>
<line x1="248.80" y1="220.06" x2="252.30" y2="220.06" stroke="#000" stroke-width="1.3" />
<text x="240.00" y="223.06" font-size="8.4" text-anchor="end" fill="#2a2a2a" stroke="#2a2a2a" stroke-width="0.15" >10</text>
<text x="240.40" y="219.16" font-size="5.6" text-anchor="start" fill="#333" stroke="#333" stroke-width="0.15" >5</text>
<line x1="248.80" y1="209.27" x2="252.30" y2="209.27" stroke="#000" stroke-width="1.3" />
<text x="240.00" y="212.27" font-size="8.4" text-anchor="end" fill="#2a2a2a" stroke="#2a2a2a" stroke-width="0.15" >10</text>
<text x="240.40" y="208.37" font-size="5.6" text-anchor="start" fill="#333" stroke="#333" stroke-width="0.15" >6</text>
<line x1="248.80" y1="198.48" x2="252.30" y2="198.48" stroke="#000" stroke-width="1.3" />
<text x="240.00" y="201.48" font-size="8.4" text-anchor="end" fill="#2a2a2a" stroke="#2a2a2a" stroke-width="0.15" >10</text>
<text x="240.40" y="197.58" font-size="5.6" text-anchor="start" fill="#333" stroke="#333" stroke-width="0.15" >7</text>
<line x1="264.50" y1="284.80" x2="264.50" y2="288.00" stroke="#000" stroke-width="1.3" />
<text x="264.50" y="300.30" font-size="8.5" text-anchor="middle" fill="#2a2a2a" stroke="#2a2a2a" stroke-width="0.15" >0</text>
<line x1="290.75" y1="284.80" x2="290.75" y2="288.00" stroke="#000" stroke-width="1.3" />
<text x="290.75" y="300.30" font-size="8.5" text-anchor="middle" fill="#2a2a2a" stroke="#2a2a2a" stroke-width="0.15" >0.05</text>
<line x1="317.00" y1="284.80" x2="317.00" y2="288.00" stroke="#000" stroke-width="1.3" />
<text x="317.00" y="300.30" font-size="8.5" text-anchor="middle" fill="#2a2a2a" stroke="#2a2a2a" stroke-width="0.15" >0.5</text>
<line x1="343.10" y1="284.80" x2="343.10" y2="288.00" stroke="#000" stroke-width="1.3" />
<text x="343.10" y="300.30" font-size="8.5" text-anchor="middle" fill="#2a2a2a" stroke="#2a2a2a" stroke-width="0.15" >5</text>
<line x1="369.30" y1="284.80" x2="369.30" y2="288.00" stroke="#000" stroke-width="1.3" />
<text x="369.30" y="300.30" font-size="8.5" text-anchor="middle" fill="#2a2a2a" stroke="#2a2a2a" stroke-width="0.15" >50</text>
<text x="316.60" y="313.20" font-size="10.6" text-anchor="middle" fill="#1a1a1a" font-weight="bold" textLength="35.40" lengthAdjust="spacingAndGlyphs" >ng/ml IFN&#947;</text>
<text transform="translate(223.90,239.60) rotate(-90)" x="0" y="0" font-size="9.8" text-anchor="middle" fill="#1a1a1a" font-weight="bold" textLength="80.00" lengthAdjust="spacingAndGlyphs" >IDO fold change / GAPDH</text>
<rect x="261.50" y="271.01" width="6" height="6" fill="#fff" stroke="#2d4673" stroke-width="1.5"/>
<rect x="287.75" y="218.25" width="6" height="6" fill="#fff" stroke="#2d4673" stroke-width="1.5"/>
<rect x="314.00" y="210.80" width="6" height="6" fill="#fff" stroke="#2d4673" stroke-width="1.5"/>
<rect x="340.10" y="208.21" width="6" height="6" fill="#fff" stroke="#2d4673" stroke-width="1.5"/>
<rect x="366.30" y="206.49" width="6" height="6" fill="#fff" stroke="#2d4673" stroke-width="1.5"/>
<circle cx="264.50" cy="274.01" r="2.9" fill="#fff" stroke="#b41e3c" stroke-width="1.5"/>
<circle cx="290.75" cy="217.04" r="2.9" fill="#fff" stroke="#b41e3c" stroke-width="1.5"/>
<circle cx="317.00" cy="204.95" r="2.9" fill="#fff" stroke="#b41e3c" stroke-width="1.5"/>
<circle cx="343.10" cy="201.72" r="2.9" fill="#fff" stroke="#b41e3c" stroke-width="1.5"/>
<circle cx="369.30" cy="199.99" r="2.9" fill="#fff" stroke="#b41e3c" stroke-width="1.5"/>
<polyline points="264.50,274.01 290.75,221.25 317.00,213.80 343.10,211.21 369.30,209.49" fill="none" stroke="#2d4673" stroke-width="1.8"/>
<polyline points="264.50,274.01 290.75,217.04 317.00,204.95 343.10,201.72 369.30,199.99" fill="none" stroke="#b41e3c" stroke-width="1.8"/>
<circle cx="328.5" cy="263.8" r="3.0" fill="#fff" stroke="#b41e3c" stroke-width="1.5"/>
<line x1="323.30" y1="263.80" x2="333.80" y2="263.80" stroke="#b41e3c" stroke-width="1.7" />
<text x="338.80" y="266.70" font-size="8.0" text-anchor="start" fill="#333" stroke="#333" stroke-width="0.15" >Fit</text>
<rect x="325.5" y="271.5" width="6" height="6" fill="#fff" stroke="#2d4673" stroke-width="1.5"/>
<line x1="323.30" y1="274.50" x2="333.80" y2="274.50" stroke="#2d4673" stroke-width="1.7" />
<text x="338.80" y="277.40" font-size="8.0" text-anchor="start" fill="#333" stroke="#333" stroke-width="0.15" textLength="35.70" lengthAdjust="spacingAndGlyphs" >Senescent</text>
<text x="261.80" y="353.30" font-size="9.8" text-anchor="middle" fill="#111" stroke="#111" stroke-width="0.15" textLength="10.50" lengthAdjust="spacingAndGlyphs" >Fit</text>
<line x1="217.30" y1="358.50" x2="305.70" y2="358.50" stroke="#9a1b3e" stroke-width="1.2" />
<circle cx="217.3" cy="358.5" r="2.6" fill="#9a1b3e"/><circle cx="305.7" cy="358.5" r="2.6" fill="#9a1b3e"/>
<text x="360.20" y="354.10" font-size="9.8" text-anchor="middle" fill="#111" stroke="#111" stroke-width="0.15" textLength="46.50" lengthAdjust="spacingAndGlyphs" >Senescent</text>
<line x1="315.70" y1="358.30" x2="404.50" y2="358.30" stroke="#2c4c86" stroke-width="1.2" />
<circle cx="315.7" cy="358.3" r="2.6" fill="#2c4c86"/><circle cx="404.5" cy="358.3" r="2.6" fill="#2c4c86"/>
<text x="294.20" y="372.90" font-size="8.4" text-anchor="middle" fill="#333" stroke="#333" stroke-width="0.15" textLength="16.90" lengthAdjust="spacingAndGlyphs" >IFN&#947;</text>
<text x="315.00" y="373.10" font-size="8.4" text-anchor="start" fill="#333" stroke="#333" stroke-width="0.15" textLength="24.70" lengthAdjust="spacingAndGlyphs" >(ng/ml)</text>
<defs><linearGradient id="wg" x1="0" x2="1" y1="0" y2="0"><stop offset="0" stop-color="#fff"/><stop offset="1" stop-color="#a2a2a2"/></linearGradient></defs>
<path d="M224.2 389.2 L303.3 374.8 L303.3 389.2 Z" fill="url(#wg)" stroke="#000" stroke-width="1.2"/>
<path d="M314.3 389.2 L393.5 375 L393.5 389.2 Z" fill="url(#wg)" stroke="#000" stroke-width="1.2"/>
<text x="235.40" y="399.90" font-size="8.2" text-anchor="start" fill="#222" stroke="#222" stroke-width="0.15" textLength="8.10" lengthAdjust="spacingAndGlyphs" >0"</text>
<text x="250.80" y="399.90" font-size="8.2" text-anchor="start" fill="#222" stroke="#222" stroke-width="0.15" textLength="15.20" lengthAdjust="spacingAndGlyphs" >0.5"</text>
<text x="273.80" y="399.90" font-size="8.2" text-anchor="start" fill="#222" stroke="#222" stroke-width="0.15" textLength="7.70" lengthAdjust="spacingAndGlyphs" >5"</text>
<text x="286.00" y="399.90" font-size="8.2" text-anchor="start" fill="#222" stroke="#222" stroke-width="0.15" textLength="12.80" lengthAdjust="spacingAndGlyphs" >50"</text>
<text x="332.30" y="399.90" font-size="8.2" text-anchor="start" fill="#222" stroke="#222" stroke-width="0.15" textLength="9.20" lengthAdjust="spacingAndGlyphs" >0"</text>
<text x="347.30" y="399.90" font-size="8.2" text-anchor="start" fill="#222" stroke="#222" stroke-width="0.15" textLength="15.50" lengthAdjust="spacingAndGlyphs" >0.5"</text>
<text x="370.40" y="399.90" font-size="8.2" text-anchor="start" fill="#222" stroke="#222" stroke-width="0.15" textLength="9.20" lengthAdjust="spacingAndGlyphs" >5"</text>
<text x="382.60" y="399.90" font-size="8.2" text-anchor="start" fill="#222" stroke="#222" stroke-width="0.15" textLength="13.20" lengthAdjust="spacingAndGlyphs" >50"</text>
<rect x="217.6" y="408.8" width="187.4" height="24.7" fill="#7f7f7f"/>
<rect x="217.6" y="437.0" width="187.4" height="24.2" fill="#7f7f7f"/>
<defs><filter id="bl" x="-20%" y="-50%" width="140%" height="200%"><feGaussianBlur stdDeviation="0.6"/></filter></defs>
<g fill="#080808" filter="url(#bl)">
<rect x="246.8" y="413.4" width="15.8" height="5.8" rx="2.9"/>
<rect x="264.0" y="412.4" width="18.0" height="11.0" rx="3.5"/>
<rect x="280.5" y="411.4" width="19.7" height="14.6" rx="3.5"/>
<path d="M283 420 C284 428 288 430.5 292 430.5 C296 430.5 299.5 428 299.5 420 Z"/>
<rect x="340.2" y="414.0" width="19.8" height="10.0" rx="3.5"/>
<rect x="358.6" y="412.6" width="20.8" height="14.0" rx="3.5"/>
<rect x="378.2" y="412.6" width="17.2" height="13.0" rx="3.5"/>
<rect x="225.0" y="446.0" width="20.8" height="7.5" rx="3.5"/>
<rect x="247.0" y="446.3" width="17.0" height="7.2" rx="3.5"/>
<rect x="265.0" y="446.3" width="18.4" height="7.2" rx="3.5"/>
<rect x="284.5" y="447.0" width="19.0" height="7.0" rx="3.5"/>
<rect x="320.8" y="446.5" width="18.4" height="7.3" rx="3.5"/>
<rect x="340.4" y="448.0" width="19.1" height="7.2" rx="3.5"/>
<rect x="361.2" y="448.5" width="17.3" height="7.5" rx="3.5"/>
<rect x="380.8" y="449.0" width="18.4" height="7.2" rx="3.5"/>
</g>
<line x1="250.40" y1="508.80" x2="250.40" y2="610.70" stroke="#000" stroke-width="1.7" />
<line x1="249.60" y1="609.90" x2="397.70" y2="609.90" stroke="#000" stroke-width="1.7" />
<line x1="247.00" y1="609.90" x2="250.40" y2="609.90" stroke="#000" stroke-width="1.3" />
<text x="243.90" y="612.80" font-size="8.4" text-anchor="end" fill="#2a2a2a" stroke="#2a2a2a" stroke-width="0.15" >0</text>
<line x1="247.00" y1="590.32" x2="250.40" y2="590.32" stroke="#000" stroke-width="1.3" />
<text x="243.90" y="593.22" font-size="8.4" text-anchor="end" fill="#2a2a2a" stroke="#2a2a2a" stroke-width="0.15" >20</text>
<line x1="247.00" y1="570.74" x2="250.40" y2="570.74" stroke="#000" stroke-width="1.3" />
<text x="243.90" y="573.64" font-size="8.4" text-anchor="end" fill="#2a2a2a" stroke="#2a2a2a" stroke-width="0.15" >40</text>
<line x1="247.00" y1="551.16" x2="250.40" y2="551.16" stroke="#000" stroke-width="1.3" />
<text x="243.90" y="554.06" font-size="8.4" text-anchor="end" fill="#2a2a2a" stroke="#2a2a2a" stroke-width="0.15" >60</text>
<line x1="247.00" y1="531.58" x2="250.40" y2="531.58" stroke="#000" stroke-width="1.3" />
<text x="243.90" y="534.48" font-size="8.4" text-anchor="end" fill="#2a2a2a" stroke="#2a2a2a" stroke-width="0.15" >80</text>
<line x1="247.00" y1="512.00" x2="250.40" y2="512.00" stroke="#000" stroke-width="1.3" />
<text x="243.90" y="514.90" font-size="8.4" text-anchor="end" fill="#2a2a2a" stroke="#2a2a2a" stroke-width="0.15" >100</text>
<text transform="translate(223.20,560.20) rotate(-90)" x="0" y="0" font-size="9.6" text-anchor="middle" fill="#1a1a1a" font-weight="bold" textLength="44.20" lengthAdjust="spacingAndGlyphs" >% CD3+Ki67+</text>
<line x1="251.30" y1="504.40" x2="319.50" y2="504.40" stroke="#000" stroke-width="1.4" />
<line x1="251.30" y1="501.20" x2="251.30" y2="507.40" stroke="#000" stroke-width="1.4" />
<line x1="319.50" y1="501.20" x2="319.50" y2="507.40" stroke="#000" stroke-width="1.4" />
<text x="285.00" y="499.10" font-size="7.8" text-anchor="middle" fill="#333" stroke="#333" stroke-width="0.15" textLength="20.00" lengthAdjust="spacingAndGlyphs" >- 1MT</text>
<line x1="324.40" y1="504.40" x2="394.00" y2="504.40" stroke="#000" stroke-width="1.4" />
<line x1="324.40" y1="501.20" x2="324.40" y2="507.40" stroke="#000" stroke-width="1.4" />
<line x1="394.00" y1="501.20" x2="394.00" y2="507.40" stroke="#000" stroke-width="1.4" />
<text x="359.20" y="499.10" font-size="7.8" text-anchor="middle" fill="#333" stroke="#333" stroke-width="0.15" textLength="22.30" lengthAdjust="spacingAndGlyphs" >+ 1MT</text>
<rect x="257.55" y="541.38" width="7.9" height="68.52" fill="#6aa544" stroke="#4f8a35" stroke-width="0.8"/>
<line x1="261.50" y1="549.20" x2="261.50" y2="533.54" stroke="#000" stroke-width="1.2" />
<line x1="259.20" y1="549.20" x2="263.80" y2="549.20" stroke="#000" stroke-width="1.2" />
<line x1="259.20" y1="533.54" x2="263.80" y2="533.54" stroke="#000" stroke-width="1.2" />
<line x1="261.50" y1="609.90" x2="261.50" y2="612.90" stroke="#000" stroke-width="1.3" />
<text transform="translate(264.80,617.20) rotate(-90)" x="0" y="0" font-size="9.0" text-anchor="end" fill="#222" stroke="#222" stroke-width="0.15" textLength="31.70" lengthAdjust="spacingAndGlyphs" >No MSC</text>
<rect x="270.55" y="572.12" width="7.9" height="37.78" fill="#a8072e" stroke="#7a0020" stroke-width="0.8"/>
<line x1="274.50" y1="578.08" x2="274.50" y2="565.36" stroke="#000" stroke-width="1.2" />
<line x1="272.20" y1="578.08" x2="276.80" y2="578.08" stroke="#000" stroke-width="1.2" />
<line x1="272.20" y1="565.36" x2="276.80" y2="565.36" stroke="#000" stroke-width="1.2" />
<line x1="274.50" y1="609.90" x2="274.50" y2="612.90" stroke="#000" stroke-width="1.3" />
<text transform="translate(277.80,617.20) rotate(-90)" x="0" y="0" font-size="9.0" text-anchor="end" fill="#222" stroke="#222" stroke-width="0.15" textLength="8.60" lengthAdjust="spacingAndGlyphs" >Fit</text>
<rect x="283.55" y="531.98" width="7.9" height="77.92" fill="#2c4d87" stroke="#1d3560" stroke-width="0.8"/>
<line x1="287.50" y1="531.97" x2="287.50" y2="531.29" stroke="#000" stroke-width="1.2" />
<line x1="285.20" y1="531.97" x2="289.80" y2="531.97" stroke="#000" stroke-width="1.2" />
<line x1="285.20" y1="531.29" x2="289.80" y2="531.29" stroke="#000" stroke-width="1.2" />
<line x1="287.50" y1="609.90" x2="287.50" y2="612.90" stroke="#000" stroke-width="1.3" />
<text transform="translate(290.80,617.20) rotate(-90)" x="0" y="0" font-size="9.0" text-anchor="end" fill="#222" stroke="#222" stroke-width="0.15" textLength="18.80" lengthAdjust="spacingAndGlyphs" >Sene</text>
<rect x="296.45" y="594.64" width="7.9" height="15.26" fill="#55235f" stroke="#3a1545" stroke-width="0.8"/>
<line x1="300.40" y1="597.56" x2="300.40" y2="590.81" stroke="#000" stroke-width="1.2" />
<line x1="298.10" y1="597.56" x2="302.70" y2="597.56" stroke="#000" stroke-width="1.2" />
<line x1="298.10" y1="590.81" x2="302.70" y2="590.81" stroke="#000" stroke-width="1.2" />
<line x1="300.40" y1="609.90" x2="300.40" y2="612.90" stroke="#000" stroke-width="1.3" />
<text transform="translate(303.70,617.20) rotate(-90)" x="0" y="0" font-size="9.0" text-anchor="end" fill="#222" stroke="#222" stroke-width="0.15" textLength="27.80" lengthAdjust="spacingAndGlyphs" >IFN&#947; Fit</text>
<rect x="309.45" y="578.48" width="7.9" height="31.42" fill="#e8931e" stroke="#b87010" stroke-width="0.8"/>
<line x1="313.40" y1="578.47" x2="313.40" y2="577.69" stroke="#000" stroke-width="1.2" />
<line x1="311.10" y1="578.47" x2="315.70" y2="578.47" stroke="#000" stroke-width="1.2" />
<line x1="311.10" y1="577.69" x2="315.70" y2="577.69" stroke="#000" stroke-width="1.2" />
<line x1="313.40" y1="609.90" x2="313.40" y2="612.90" stroke="#000" stroke-width="1.3" />
<text transform="translate(316.70,617.20) rotate(-90)" x="0" y="0" font-size="9.0" text-anchor="end" fill="#222" stroke="#222" stroke-width="0.15" textLength="38.40" lengthAdjust="spacingAndGlyphs" >IFN&#947; Sene</text>
<rect x="331.05" y="539.22" width="7.9" height="70.68" fill="#6aa544" stroke="#4f8a35" stroke-width="0.8"/>
<line x1="335.00" y1="539.22" x2="335.00" y2="538.43" stroke="#000" stroke-width="1.2" />
<line x1="332.70" y1="539.22" x2="337.30" y2="539.22" stroke="#000" stroke-width="1.2" />
<line x1="332.70" y1="538.43" x2="337.30" y2="538.43" stroke="#000" stroke-width="1.2" />
<line x1="335.00" y1="609.90" x2="335.00" y2="612.90" stroke="#000" stroke-width="1.3" />
<text transform="translate(338.30,617.20) rotate(-90)" x="0" y="0" font-size="9.0" text-anchor="end" fill="#222" stroke="#222" stroke-width="0.15" textLength="31.70" lengthAdjust="spacingAndGlyphs" >No MSC</text>
<rect x="344.05" y="524.15" width="7.9" height="85.75" fill="#a8072e" stroke="#7a0020" stroke-width="0.8"/>
<line x1="348.00" y1="524.14" x2="348.00" y2="523.36" stroke="#000" stroke-width="1.2" />
<line x1="345.70" y1="524.14" x2="350.30" y2="524.14" stroke="#000" stroke-width="1.2" />
<line x1="345.70" y1="523.36" x2="350.30" y2="523.36" stroke="#000" stroke-width="1.2" />
<line x1="348.00" y1="609.90" x2="348.00" y2="612.90" stroke="#000" stroke-width="1.3" />
<text transform="translate(351.30,617.20) rotate(-90)" x="0" y="0" font-size="9.0" text-anchor="end" fill="#222" stroke="#222" stroke-width="0.15" textLength="8.60" lengthAdjust="spacingAndGlyphs" >Fit</text>
<rect x="357.25" y="522.68" width="7.9" height="87.22" fill="#2c4d87" stroke="#1d3560" stroke-width="0.8"/>
<line x1="361.20" y1="522.67" x2="361.20" y2="521.89" stroke="#000" stroke-width="1.2" />
<line x1="358.90" y1="522.67" x2="363.50" y2="522.67" stroke="#000" stroke-width="1.2" />
<line x1="358.90" y1="521.89" x2="363.50" y2="521.89" stroke="#000" stroke-width="1.2" />
<line x1="361.20" y1="609.90" x2="361.20" y2="612.90" stroke="#000" stroke-width="1.3" />
<text transform="translate(364.50,617.20) rotate(-90)" x="0" y="0" font-size="9.0" text-anchor="end" fill="#222" stroke="#222" stroke-width="0.15" textLength="18.80" lengthAdjust="spacingAndGlyphs" >Sene</text>
<rect x="370.45" y="532.96" width="7.9" height="76.94" fill="#55235f" stroke="#3a1545" stroke-width="0.8"/>
<line x1="374.40" y1="546.26" x2="374.40" y2="518.27" stroke="#000" stroke-width="1.2" />
<line x1="372.10" y1="546.26" x2="376.70" y2="546.26" stroke="#000" stroke-width="1.2" />
<line x1="372.10" y1="518.27" x2="376.70" y2="518.27" stroke="#000" stroke-width="1.2" />
<line x1="374.40" y1="609.90" x2="374.40" y2="612.90" stroke="#000" stroke-width="1.3" />
<text transform="translate(377.70,617.20) rotate(-90)" x="0" y="0" font-size="9.0" text-anchor="end" fill="#222" stroke="#222" stroke-width="0.15" textLength="27.80" lengthAdjust="spacingAndGlyphs" >IFN&#947; Fit</text>
<rect x="383.45" y="534.92" width="7.9" height="74.98" fill="#e8931e" stroke="#b87010" stroke-width="0.8"/>
<line x1="387.40" y1="548.52" x2="387.40" y2="519.83" stroke="#000" stroke-width="1.2" />
<line x1="385.10" y1="548.52" x2="389.70" y2="548.52" stroke="#000" stroke-width="1.2" />
<line x1="385.10" y1="519.83" x2="389.70" y2="519.83" stroke="#000" stroke-width="1.2" />
<line x1="387.40" y1="609.90" x2="387.40" y2="612.90" stroke="#000" stroke-width="1.3" />
<text transform="translate(390.70,617.20) rotate(-90)" x="0" y="0" font-size="9.0" text-anchor="end" fill="#222" stroke="#222" stroke-width="0.15" textLength="38.40" lengthAdjust="spacingAndGlyphs" >IFN&#947; Sene</text>
</g>
<rect x="0" y="0" width="1.4" height="713" fill="#000"/><rect x="0" y="0" width="520" height="1.4" fill="#000"/><rect x="518.6" y="0" width="1.4" height="713" fill="#000"/><rect x="0" y="711.6" width="520" height="1.4" fill="#000"/>
</svg></body></html>
